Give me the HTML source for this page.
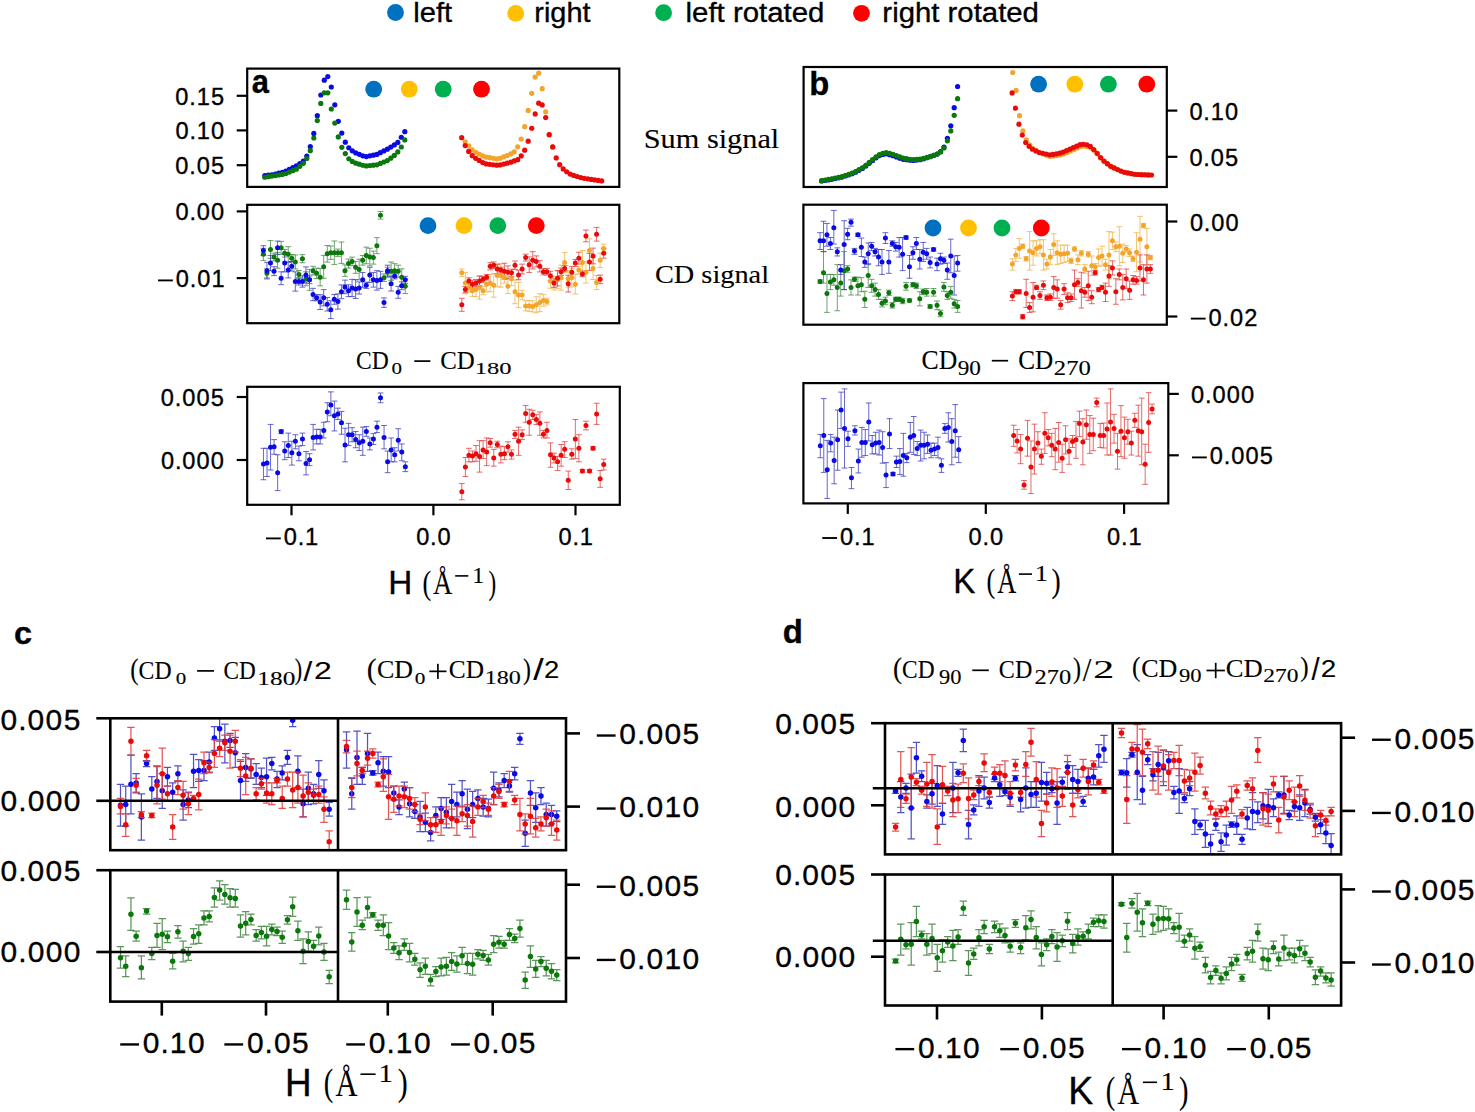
<!DOCTYPE html>
<html><head><meta charset="utf-8"><title>Figure</title>
<style>html,body{margin:0;padding:0;background:#fff;}body{width:1475px;height:1112px;overflow:hidden;}svg{display:block;}text{stroke:#000;stroke-width:0.35px;}text[font-family*=Serif],g[font-family*=Serif] text{stroke-width:0.12px;}.ti text{stroke-width:0.12px;}</style>
</head><body><svg width="1475" height="1112" viewBox="0 0 1475 1112"><defs><clipPath id="k0"><rect x="247.20" y="68.60" width="372.10" height="118.30"/></clipPath><clipPath id="k1"><rect x="247.20" y="204.80" width="372.10" height="118.40"/></clipPath><clipPath id="k2"><rect x="247.20" y="386.80" width="372.60" height="118.00"/></clipPath><clipPath id="k3"><rect x="803.60" y="67.00" width="363.20" height="120.00"/></clipPath><clipPath id="k4"><rect x="803.40" y="204.70" width="363.40" height="120.00"/></clipPath><clipPath id="k5"><rect x="803.40" y="383.10" width="364.90" height="120.30"/></clipPath><clipPath id="k6"><rect x="110.30" y="718.30" width="227.70" height="131.90"/></clipPath><clipPath id="k7"><rect x="338.00" y="718.30" width="228.00" height="131.90"/></clipPath><clipPath id="k8"><rect x="110.30" y="870.20" width="227.70" height="131.40"/></clipPath><clipPath id="k9"><rect x="338.00" y="870.20" width="228.00" height="131.40"/></clipPath><clipPath id="k10"><rect x="885.00" y="723.20" width="227.70" height="131.20"/></clipPath><clipPath id="k11"><rect x="1112.70" y="723.20" width="228.40" height="131.20"/></clipPath><clipPath id="k12"><rect x="885.00" y="874.50" width="227.70" height="131.00"/></clipPath><clipPath id="k13"><rect x="1112.70" y="874.50" width="228.40" height="131.00"/></clipPath></defs><g clip-path="url(#k0)"><circle cx="264.80" cy="175.62" r="2.6" fill="#0a0ae6"/><circle cx="268.30" cy="175.19" r="2.6" fill="#0a0ae6"/><circle cx="271.80" cy="174.76" r="2.6" fill="#0a0ae6"/><circle cx="275.30" cy="174.05" r="2.6" fill="#0a0ae6"/><circle cx="278.80" cy="173.16" r="2.6" fill="#0a0ae6"/><circle cx="282.30" cy="172.28" r="2.6" fill="#0a0ae6"/><circle cx="285.80" cy="171.11" r="2.6" fill="#0a0ae6"/><circle cx="289.30" cy="169.37" r="2.6" fill="#0a0ae6"/><circle cx="292.80" cy="167.64" r="2.6" fill="#0a0ae6"/><circle cx="296.30" cy="165.87" r="2.6" fill="#0a0ae6"/><circle cx="299.80" cy="163.53" r="2.6" fill="#0a0ae6"/><circle cx="303.30" cy="161.01" r="2.6" fill="#0a0ae6"/><circle cx="306.80" cy="156.03" r="2.6" fill="#0a0ae6"/><circle cx="310.30" cy="146.65" r="2.6" fill="#0a0ae6"/><circle cx="313.80" cy="133.42" r="2.6" fill="#0a0ae6"/><circle cx="317.30" cy="115.66" r="2.6" fill="#0a0ae6"/><circle cx="320.80" cy="95.01" r="2.6" fill="#0a0ae6"/><circle cx="324.30" cy="80.19" r="2.6" fill="#0a0ae6"/><circle cx="327.80" cy="76.60" r="2.6" fill="#0a0ae6"/><circle cx="331.30" cy="87.00" r="2.6" fill="#0a0ae6"/><circle cx="334.80" cy="104.78" r="2.6" fill="#0a0ae6"/><circle cx="338.30" cy="121.34" r="2.6" fill="#0a0ae6"/><circle cx="341.80" cy="133.03" r="2.6" fill="#0a0ae6"/><circle cx="345.30" cy="142.14" r="2.6" fill="#0a0ae6"/><circle cx="348.80" cy="147.77" r="2.6" fill="#0a0ae6"/><circle cx="352.30" cy="150.86" r="2.6" fill="#0a0ae6"/><circle cx="355.80" cy="152.95" r="2.6" fill="#0a0ae6"/><circle cx="359.30" cy="154.37" r="2.6" fill="#0a0ae6"/><circle cx="362.80" cy="155.79" r="2.6" fill="#0a0ae6"/><circle cx="366.30" cy="156.59" r="2.6" fill="#0a0ae6"/><circle cx="369.80" cy="155.86" r="2.6" fill="#0a0ae6"/><circle cx="373.30" cy="155.13" r="2.6" fill="#0a0ae6"/><circle cx="376.80" cy="154.40" r="2.6" fill="#0a0ae6"/><circle cx="380.30" cy="152.67" r="2.6" fill="#0a0ae6"/><circle cx="383.80" cy="150.93" r="2.6" fill="#0a0ae6"/><circle cx="387.30" cy="149.20" r="2.6" fill="#0a0ae6"/><circle cx="390.80" cy="147.12" r="2.6" fill="#0a0ae6"/><circle cx="394.30" cy="144.92" r="2.6" fill="#0a0ae6"/><circle cx="397.80" cy="142.45" r="2.6" fill="#0a0ae6"/><circle cx="401.30" cy="137.23" r="2.6" fill="#0a0ae6"/><circle cx="404.80" cy="131.71" r="2.6" fill="#0a0ae6"/><circle cx="264.80" cy="177.25" r="2.6" fill="#0a780a"/><circle cx="268.30" cy="176.68" r="2.6" fill="#0a780a"/><circle cx="271.80" cy="176.10" r="2.6" fill="#0a780a"/><circle cx="275.30" cy="175.53" r="2.6" fill="#0a780a"/><circle cx="278.80" cy="174.95" r="2.6" fill="#0a780a"/><circle cx="282.30" cy="174.38" r="2.6" fill="#0a780a"/><circle cx="285.80" cy="173.52" r="2.6" fill="#0a780a"/><circle cx="289.30" cy="172.12" r="2.6" fill="#0a780a"/><circle cx="292.80" cy="170.72" r="2.6" fill="#0a780a"/><circle cx="296.30" cy="169.23" r="2.6" fill="#0a780a"/><circle cx="299.80" cy="166.34" r="2.6" fill="#0a780a"/><circle cx="303.30" cy="163.31" r="2.6" fill="#0a780a"/><circle cx="306.80" cy="158.48" r="2.6" fill="#0a780a"/><circle cx="310.30" cy="150.72" r="2.6" fill="#0a780a"/><circle cx="313.80" cy="138.02" r="2.6" fill="#0a780a"/><circle cx="317.30" cy="120.61" r="2.6" fill="#0a780a"/><circle cx="320.80" cy="103.39" r="2.6" fill="#0a780a"/><circle cx="324.30" cy="92.80" r="2.6" fill="#0a780a"/><circle cx="327.80" cy="92.80" r="2.6" fill="#0a780a"/><circle cx="331.30" cy="109.02" r="2.6" fill="#0a780a"/><circle cx="334.80" cy="123.10" r="2.6" fill="#0a780a"/><circle cx="338.30" cy="136.91" r="2.6" fill="#0a780a"/><circle cx="341.80" cy="147.36" r="2.6" fill="#0a780a"/><circle cx="345.30" cy="153.61" r="2.6" fill="#0a780a"/><circle cx="348.80" cy="158.73" r="2.6" fill="#0a780a"/><circle cx="352.30" cy="161.42" r="2.6" fill="#0a780a"/><circle cx="355.80" cy="163.13" r="2.6" fill="#0a780a"/><circle cx="359.30" cy="164.19" r="2.6" fill="#0a780a"/><circle cx="362.80" cy="165.25" r="2.6" fill="#0a780a"/><circle cx="366.30" cy="165.90" r="2.6" fill="#0a780a"/><circle cx="369.80" cy="165.53" r="2.6" fill="#0a780a"/><circle cx="373.30" cy="165.17" r="2.6" fill="#0a780a"/><circle cx="376.80" cy="164.80" r="2.6" fill="#0a780a"/><circle cx="380.30" cy="163.40" r="2.6" fill="#0a780a"/><circle cx="383.80" cy="162.00" r="2.6" fill="#0a780a"/><circle cx="387.30" cy="160.60" r="2.6" fill="#0a780a"/><circle cx="390.80" cy="158.22" r="2.6" fill="#0a780a"/><circle cx="394.30" cy="155.40" r="2.6" fill="#0a780a"/><circle cx="397.80" cy="151.90" r="2.6" fill="#0a780a"/><circle cx="401.30" cy="147.02" r="2.6" fill="#0a780a"/><circle cx="404.80" cy="139.93" r="2.6" fill="#0a780a"/><circle cx="465.20" cy="141.81" r="2.6" fill="#f2a52a"/><circle cx="468.70" cy="145.88" r="2.6" fill="#f2a52a"/><circle cx="472.20" cy="149.95" r="2.6" fill="#f2a52a"/><circle cx="475.70" cy="152.31" r="2.6" fill="#f2a52a"/><circle cx="479.20" cy="154.08" r="2.6" fill="#f2a52a"/><circle cx="482.70" cy="155.84" r="2.6" fill="#f2a52a"/><circle cx="486.20" cy="157.07" r="2.6" fill="#f2a52a"/><circle cx="489.70" cy="157.65" r="2.6" fill="#f2a52a"/><circle cx="493.20" cy="158.23" r="2.6" fill="#f2a52a"/><circle cx="496.70" cy="158.82" r="2.6" fill="#f2a52a"/><circle cx="500.20" cy="158.36" r="2.6" fill="#f2a52a"/><circle cx="503.70" cy="156.93" r="2.6" fill="#f2a52a"/><circle cx="507.20" cy="155.50" r="2.6" fill="#f2a52a"/><circle cx="510.70" cy="153.95" r="2.6" fill="#f2a52a"/><circle cx="514.20" cy="151.83" r="2.6" fill="#f2a52a"/><circle cx="517.70" cy="146.86" r="2.6" fill="#f2a52a"/><circle cx="521.20" cy="138.99" r="2.6" fill="#f2a52a"/><circle cx="524.70" cy="126.66" r="2.6" fill="#f2a52a"/><circle cx="528.20" cy="110.44" r="2.6" fill="#f2a52a"/><circle cx="531.70" cy="93.29" r="2.6" fill="#f2a52a"/><circle cx="535.20" cy="77.06" r="2.6" fill="#f2a52a"/><circle cx="538.70" cy="73.20" r="2.6" fill="#f2a52a"/><circle cx="542.20" cy="88.70" r="2.6" fill="#f2a52a"/><circle cx="545.70" cy="111.80" r="2.6" fill="#f2a52a"/><circle cx="549.20" cy="134.65" r="2.6" fill="#f2a52a"/><circle cx="552.70" cy="146.94" r="2.6" fill="#f2a52a"/><circle cx="461.70" cy="137.67" r="2.6" fill="#ea0a0a"/><circle cx="465.20" cy="145.54" r="2.6" fill="#ea0a0a"/><circle cx="468.70" cy="151.38" r="2.6" fill="#ea0a0a"/><circle cx="472.20" cy="155.69" r="2.6" fill="#ea0a0a"/><circle cx="475.70" cy="158.36" r="2.6" fill="#ea0a0a"/><circle cx="479.20" cy="160.46" r="2.6" fill="#ea0a0a"/><circle cx="482.70" cy="162.56" r="2.6" fill="#ea0a0a"/><circle cx="486.20" cy="163.90" r="2.6" fill="#ea0a0a"/><circle cx="489.70" cy="164.33" r="2.6" fill="#ea0a0a"/><circle cx="493.20" cy="164.76" r="2.6" fill="#ea0a0a"/><circle cx="496.70" cy="165.19" r="2.6" fill="#ea0a0a"/><circle cx="500.20" cy="164.95" r="2.6" fill="#ea0a0a"/><circle cx="503.70" cy="164.06" r="2.6" fill="#ea0a0a"/><circle cx="507.20" cy="163.18" r="2.6" fill="#ea0a0a"/><circle cx="510.70" cy="162.21" r="2.6" fill="#ea0a0a"/><circle cx="514.20" cy="160.96" r="2.6" fill="#ea0a0a"/><circle cx="517.70" cy="159.71" r="2.6" fill="#ea0a0a"/><circle cx="521.20" cy="155.94" r="2.6" fill="#ea0a0a"/><circle cx="524.70" cy="150.14" r="2.6" fill="#ea0a0a"/><circle cx="528.20" cy="141.13" r="2.6" fill="#ea0a0a"/><circle cx="531.70" cy="128.27" r="2.6" fill="#ea0a0a"/><circle cx="535.20" cy="113.91" r="2.6" fill="#ea0a0a"/><circle cx="538.70" cy="103.20" r="2.6" fill="#ea0a0a"/><circle cx="542.20" cy="104.90" r="2.6" fill="#ea0a0a"/><circle cx="545.70" cy="117.60" r="2.6" fill="#ea0a0a"/><circle cx="549.20" cy="134.65" r="2.6" fill="#ea0a0a"/><circle cx="552.70" cy="146.94" r="2.6" fill="#ea0a0a"/><circle cx="556.20" cy="157.88" r="2.6" fill="#ea0a0a"/><circle cx="559.70" cy="164.68" r="2.6" fill="#ea0a0a"/><circle cx="563.20" cy="168.97" r="2.6" fill="#ea0a0a"/><circle cx="566.70" cy="171.73" r="2.6" fill="#ea0a0a"/><circle cx="570.20" cy="174.07" r="2.6" fill="#ea0a0a"/><circle cx="573.70" cy="175.42" r="2.6" fill="#ea0a0a"/><circle cx="577.20" cy="176.49" r="2.6" fill="#ea0a0a"/><circle cx="580.70" cy="177.55" r="2.6" fill="#ea0a0a"/><circle cx="584.20" cy="178.35" r="2.6" fill="#ea0a0a"/><circle cx="587.70" cy="178.86" r="2.6" fill="#ea0a0a"/><circle cx="591.20" cy="179.38" r="2.6" fill="#ea0a0a"/><circle cx="594.70" cy="179.89" r="2.6" fill="#ea0a0a"/><circle cx="598.20" cy="180.42" r="2.6" fill="#ea0a0a"/><circle cx="601.70" cy="180.94" r="2.6" fill="#ea0a0a"/></g><g clip-path="url(#k3)"><circle cx="821.60" cy="181.00" r="2.6" fill="#0a0ae6"/><circle cx="825.00" cy="180.48" r="2.6" fill="#0a0ae6"/><circle cx="828.40" cy="179.95" r="2.6" fill="#0a0ae6"/><circle cx="831.80" cy="179.29" r="2.6" fill="#0a0ae6"/><circle cx="835.20" cy="178.56" r="2.6" fill="#0a0ae6"/><circle cx="838.60" cy="177.84" r="2.6" fill="#0a0ae6"/><circle cx="842.00" cy="177.07" r="2.6" fill="#0a0ae6"/><circle cx="845.40" cy="175.95" r="2.6" fill="#0a0ae6"/><circle cx="848.80" cy="174.84" r="2.6" fill="#0a0ae6"/><circle cx="852.20" cy="173.72" r="2.6" fill="#0a0ae6"/><circle cx="855.60" cy="172.21" r="2.6" fill="#0a0ae6"/><circle cx="859.00" cy="170.33" r="2.6" fill="#0a0ae6"/><circle cx="862.40" cy="168.46" r="2.6" fill="#0a0ae6"/><circle cx="865.80" cy="166.05" r="2.6" fill="#0a0ae6"/><circle cx="869.20" cy="163.35" r="2.6" fill="#0a0ae6"/><circle cx="872.60" cy="160.60" r="2.6" fill="#0a0ae6"/><circle cx="876.00" cy="157.81" r="2.6" fill="#0a0ae6"/><circle cx="879.40" cy="155.61" r="2.6" fill="#0a0ae6"/><circle cx="882.80" cy="154.49" r="2.6" fill="#0a0ae6"/><circle cx="886.20" cy="153.79" r="2.6" fill="#0a0ae6"/><circle cx="889.60" cy="154.71" r="2.6" fill="#0a0ae6"/><circle cx="893.00" cy="155.64" r="2.6" fill="#0a0ae6"/><circle cx="896.40" cy="156.90" r="2.6" fill="#0a0ae6"/><circle cx="899.80" cy="158.16" r="2.6" fill="#0a0ae6"/><circle cx="903.20" cy="159.29" r="2.6" fill="#0a0ae6"/><circle cx="906.60" cy="159.77" r="2.6" fill="#0a0ae6"/><circle cx="910.00" cy="160.26" r="2.6" fill="#0a0ae6"/><circle cx="913.40" cy="160.48" r="2.6" fill="#0a0ae6"/><circle cx="916.80" cy="160.08" r="2.6" fill="#0a0ae6"/><circle cx="920.20" cy="159.68" r="2.6" fill="#0a0ae6"/><circle cx="923.60" cy="158.78" r="2.6" fill="#0a0ae6"/><circle cx="927.00" cy="157.76" r="2.6" fill="#0a0ae6"/><circle cx="930.40" cy="156.67" r="2.6" fill="#0a0ae6"/><circle cx="933.80" cy="155.41" r="2.6" fill="#0a0ae6"/><circle cx="937.20" cy="154.01" r="2.6" fill="#0a0ae6"/><circle cx="940.60" cy="151.59" r="2.6" fill="#0a0ae6"/><circle cx="944.00" cy="147.00" r="2.6" fill="#0a0ae6"/><circle cx="947.40" cy="138.30" r="2.6" fill="#0a0ae6"/><circle cx="950.80" cy="125.82" r="2.6" fill="#0a0ae6"/><circle cx="954.20" cy="107.64" r="2.6" fill="#0a0ae6"/><circle cx="957.60" cy="86.50" r="2.6" fill="#0a0ae6"/><circle cx="821.60" cy="180.65" r="2.6" fill="#0a780a"/><circle cx="825.00" cy="180.06" r="2.6" fill="#0a780a"/><circle cx="828.40" cy="179.47" r="2.6" fill="#0a780a"/><circle cx="831.80" cy="178.81" r="2.6" fill="#0a780a"/><circle cx="835.20" cy="178.11" r="2.6" fill="#0a780a"/><circle cx="838.60" cy="177.41" r="2.6" fill="#0a780a"/><circle cx="842.00" cy="176.66" r="2.6" fill="#0a780a"/><circle cx="845.40" cy="175.49" r="2.6" fill="#0a780a"/><circle cx="848.80" cy="174.32" r="2.6" fill="#0a780a"/><circle cx="852.20" cy="173.15" r="2.6" fill="#0a780a"/><circle cx="855.60" cy="171.59" r="2.6" fill="#0a780a"/><circle cx="859.00" cy="169.68" r="2.6" fill="#0a780a"/><circle cx="862.40" cy="167.77" r="2.6" fill="#0a780a"/><circle cx="865.80" cy="165.26" r="2.6" fill="#0a780a"/><circle cx="869.20" cy="162.42" r="2.6" fill="#0a780a"/><circle cx="872.60" cy="159.58" r="2.6" fill="#0a780a"/><circle cx="876.00" cy="156.74" r="2.6" fill="#0a780a"/><circle cx="879.40" cy="154.49" r="2.6" fill="#0a780a"/><circle cx="882.80" cy="153.32" r="2.6" fill="#0a780a"/><circle cx="886.20" cy="152.58" r="2.6" fill="#0a780a"/><circle cx="889.60" cy="153.45" r="2.6" fill="#0a780a"/><circle cx="893.00" cy="154.34" r="2.6" fill="#0a780a"/><circle cx="896.40" cy="155.60" r="2.6" fill="#0a780a"/><circle cx="899.80" cy="156.86" r="2.6" fill="#0a780a"/><circle cx="903.20" cy="158.02" r="2.6" fill="#0a780a"/><circle cx="906.60" cy="158.68" r="2.6" fill="#0a780a"/><circle cx="910.00" cy="159.33" r="2.6" fill="#0a780a"/><circle cx="913.40" cy="159.72" r="2.6" fill="#0a780a"/><circle cx="916.80" cy="159.44" r="2.6" fill="#0a780a"/><circle cx="920.20" cy="159.16" r="2.6" fill="#0a780a"/><circle cx="923.60" cy="158.35" r="2.6" fill="#0a780a"/><circle cx="927.00" cy="157.40" r="2.6" fill="#0a780a"/><circle cx="930.40" cy="156.40" r="2.6" fill="#0a780a"/><circle cx="933.80" cy="155.29" r="2.6" fill="#0a780a"/><circle cx="937.20" cy="154.05" r="2.6" fill="#0a780a"/><circle cx="940.60" cy="151.90" r="2.6" fill="#0a780a"/><circle cx="944.00" cy="147.93" r="2.6" fill="#0a780a"/><circle cx="947.40" cy="140.85" r="2.6" fill="#0a780a"/><circle cx="950.80" cy="130.93" r="2.6" fill="#0a780a"/><circle cx="954.20" cy="115.33" r="2.6" fill="#0a780a"/><circle cx="957.60" cy="98.70" r="2.6" fill="#0a780a"/><circle cx="1012.70" cy="72.50" r="2.6" fill="#f2a52a"/><circle cx="1016.10" cy="90.43" r="2.6" fill="#f2a52a"/><circle cx="1019.50" cy="115.65" r="2.6" fill="#f2a52a"/><circle cx="1022.90" cy="130.78" r="2.6" fill="#f2a52a"/><circle cx="1026.30" cy="139.89" r="2.6" fill="#f2a52a"/><circle cx="1029.70" cy="144.77" r="2.6" fill="#f2a52a"/><circle cx="1033.10" cy="148.51" r="2.6" fill="#f2a52a"/><circle cx="1036.50" cy="150.79" r="2.6" fill="#f2a52a"/><circle cx="1039.90" cy="152.76" r="2.6" fill="#f2a52a"/><circle cx="1043.30" cy="154.00" r="2.6" fill="#f2a52a"/><circle cx="1046.70" cy="155.24" r="2.6" fill="#f2a52a"/><circle cx="1050.10" cy="156.37" r="2.6" fill="#f2a52a"/><circle cx="1053.50" cy="155.94" r="2.6" fill="#f2a52a"/><circle cx="1056.90" cy="155.51" r="2.6" fill="#f2a52a"/><circle cx="1060.30" cy="155.08" r="2.6" fill="#f2a52a"/><circle cx="1063.70" cy="153.86" r="2.6" fill="#f2a52a"/><circle cx="1067.10" cy="152.47" r="2.6" fill="#f2a52a"/><circle cx="1070.50" cy="151.08" r="2.6" fill="#f2a52a"/><circle cx="1073.90" cy="149.52" r="2.6" fill="#f2a52a"/><circle cx="1077.30" cy="147.94" r="2.6" fill="#f2a52a"/><circle cx="1080.70" cy="146.47" r="2.6" fill="#f2a52a"/><circle cx="1084.10" cy="146.12" r="2.6" fill="#f2a52a"/><circle cx="1087.50" cy="146.72" r="2.6" fill="#f2a52a"/><circle cx="1090.90" cy="147.84" r="2.6" fill="#f2a52a"/><circle cx="1094.30" cy="150.60" r="2.6" fill="#f2a52a"/><circle cx="1097.70" cy="154.10" r="2.6" fill="#f2a52a"/><circle cx="1101.10" cy="158.22" r="2.6" fill="#f2a52a"/><circle cx="1104.50" cy="161.46" r="2.6" fill="#f2a52a"/><circle cx="1107.90" cy="164.14" r="2.6" fill="#f2a52a"/><circle cx="1111.30" cy="166.68" r="2.6" fill="#f2a52a"/><circle cx="1114.70" cy="168.21" r="2.6" fill="#f2a52a"/><circle cx="1118.10" cy="169.75" r="2.6" fill="#f2a52a"/><circle cx="1121.50" cy="171.28" r="2.6" fill="#f2a52a"/><circle cx="1124.90" cy="172.35" r="2.6" fill="#f2a52a"/><circle cx="1128.30" cy="173.02" r="2.6" fill="#f2a52a"/><circle cx="1131.70" cy="173.69" r="2.6" fill="#f2a52a"/><circle cx="1135.10" cy="174.36" r="2.6" fill="#f2a52a"/><circle cx="1138.50" cy="174.52" r="2.6" fill="#f2a52a"/><circle cx="1141.90" cy="174.65" r="2.6" fill="#f2a52a"/><circle cx="1145.30" cy="174.78" r="2.6" fill="#f2a52a"/><circle cx="1148.70" cy="174.91" r="2.6" fill="#f2a52a"/><circle cx="1012.10" cy="92.90" r="2.6" fill="#ea0a0a"/><circle cx="1015.50" cy="108.20" r="2.6" fill="#ea0a0a"/><circle cx="1018.90" cy="124.19" r="2.6" fill="#ea0a0a"/><circle cx="1022.30" cy="135.07" r="2.6" fill="#ea0a0a"/><circle cx="1025.70" cy="142.49" r="2.6" fill="#ea0a0a"/><circle cx="1029.10" cy="146.30" r="2.6" fill="#ea0a0a"/><circle cx="1032.50" cy="149.24" r="2.6" fill="#ea0a0a"/><circle cx="1035.90" cy="150.92" r="2.6" fill="#ea0a0a"/><circle cx="1039.30" cy="152.49" r="2.6" fill="#ea0a0a"/><circle cx="1042.70" cy="153.26" r="2.6" fill="#ea0a0a"/><circle cx="1046.10" cy="154.04" r="2.6" fill="#ea0a0a"/><circle cx="1049.50" cy="154.81" r="2.6" fill="#ea0a0a"/><circle cx="1052.90" cy="154.38" r="2.6" fill="#ea0a0a"/><circle cx="1056.30" cy="153.79" r="2.6" fill="#ea0a0a"/><circle cx="1059.70" cy="153.21" r="2.6" fill="#ea0a0a"/><circle cx="1063.10" cy="152.06" r="2.6" fill="#ea0a0a"/><circle cx="1066.50" cy="150.60" r="2.6" fill="#ea0a0a"/><circle cx="1069.90" cy="149.14" r="2.6" fill="#ea0a0a"/><circle cx="1073.30" cy="147.65" r="2.6" fill="#ea0a0a"/><circle cx="1076.70" cy="146.14" r="2.6" fill="#ea0a0a"/><circle cx="1080.10" cy="144.63" r="2.6" fill="#ea0a0a"/><circle cx="1083.50" cy="144.25" r="2.6" fill="#ea0a0a"/><circle cx="1086.90" cy="144.83" r="2.6" fill="#ea0a0a"/><circle cx="1090.30" cy="146.40" r="2.6" fill="#ea0a0a"/><circle cx="1093.70" cy="149.48" r="2.6" fill="#ea0a0a"/><circle cx="1097.10" cy="153.37" r="2.6" fill="#ea0a0a"/><circle cx="1100.50" cy="157.50" r="2.6" fill="#ea0a0a"/><circle cx="1103.90" cy="160.98" r="2.6" fill="#ea0a0a"/><circle cx="1107.30" cy="163.66" r="2.6" fill="#ea0a0a"/><circle cx="1110.70" cy="166.34" r="2.6" fill="#ea0a0a"/><circle cx="1114.10" cy="167.94" r="2.6" fill="#ea0a0a"/><circle cx="1117.50" cy="169.48" r="2.6" fill="#ea0a0a"/><circle cx="1120.90" cy="171.01" r="2.6" fill="#ea0a0a"/><circle cx="1124.30" cy="172.24" r="2.6" fill="#ea0a0a"/><circle cx="1127.70" cy="172.90" r="2.6" fill="#ea0a0a"/><circle cx="1131.10" cy="173.57" r="2.6" fill="#ea0a0a"/><circle cx="1134.50" cy="174.24" r="2.6" fill="#ea0a0a"/><circle cx="1137.90" cy="174.50" r="2.6" fill="#ea0a0a"/><circle cx="1141.30" cy="174.63" r="2.6" fill="#ea0a0a"/><circle cx="1144.70" cy="174.75" r="2.6" fill="#ea0a0a"/><circle cx="1148.10" cy="174.88" r="2.6" fill="#ea0a0a"/><circle cx="1151.50" cy="175.00" r="2.6" fill="#ea0a0a"/></g><g clip-path="url(#k1)"><path d="M263.40 248.29V260.42M260.50 248.29H266.30M260.50 260.42H266.30" stroke="#3f843f" stroke-width="1.0" stroke-opacity="0.75" fill="none"/><path d="M266.94 268.77V277.90M264.04 268.77H269.84M264.04 277.90H269.84" stroke="#3f843f" stroke-width="1.0" stroke-opacity="0.75" fill="none"/><path d="M270.49 240.57V258.38M267.59 240.57H273.39M267.59 258.38H273.39" stroke="#3f843f" stroke-width="1.0" stroke-opacity="0.75" fill="none"/><path d="M274.04 253.18V260.95M271.14 253.18H276.94M271.14 260.95H276.94" stroke="#3f843f" stroke-width="1.0" stroke-opacity="0.75" fill="none"/><path d="M277.58 252.42V268.22M274.68 252.42H280.48M274.68 268.22H280.48" stroke="#3f843f" stroke-width="1.0" stroke-opacity="0.75" fill="none"/><path d="M281.13 241.42V254.27M278.23 241.42H284.03M278.23 254.27H284.03" stroke="#3f843f" stroke-width="1.0" stroke-opacity="0.75" fill="none"/><path d="M284.68 249.51V257.03M281.78 249.51H287.58M281.78 257.03H287.58" stroke="#3f843f" stroke-width="1.0" stroke-opacity="0.75" fill="none"/><path d="M288.22 246.70V262.01M285.32 246.70H291.12M285.32 262.01H291.12" stroke="#3f843f" stroke-width="1.0" stroke-opacity="0.75" fill="none"/><path d="M291.77 254.57V261.73M288.87 254.57H294.67M288.87 261.73H294.67" stroke="#3f843f" stroke-width="1.0" stroke-opacity="0.75" fill="none"/><path d="M295.32 254.93V268.96M292.42 254.93H298.22M292.42 268.96H298.22" stroke="#3f843f" stroke-width="1.0" stroke-opacity="0.75" fill="none"/><path d="M298.87 270.56V278.28M295.97 270.56H301.77M295.97 278.28H301.77" stroke="#3f843f" stroke-width="1.0" stroke-opacity="0.75" fill="none"/><path d="M302.41 254.65V262.73M299.51 254.65H305.31M299.51 262.73H305.31" stroke="#3f843f" stroke-width="1.0" stroke-opacity="0.75" fill="none"/><path d="M305.96 271.82V285.70M303.06 271.82H308.86M303.06 285.70H308.86" stroke="#3f843f" stroke-width="1.0" stroke-opacity="0.75" fill="none"/><path d="M309.51 269.42V290.27M306.61 269.42H312.41M306.61 290.27H312.41" stroke="#3f843f" stroke-width="1.0" stroke-opacity="0.75" fill="none"/><path d="M313.05 266.30V274.95M310.15 266.30H315.95M310.15 274.95H315.95" stroke="#3f843f" stroke-width="1.0" stroke-opacity="0.75" fill="none"/><path d="M316.60 268.15V278.53M313.70 268.15H319.50M313.70 278.53H319.50" stroke="#3f843f" stroke-width="1.0" stroke-opacity="0.75" fill="none"/><path d="M320.15 268.43V285.83M317.25 268.43H323.05M317.25 285.83H323.05" stroke="#3f843f" stroke-width="1.0" stroke-opacity="0.75" fill="none"/><path d="M323.70 255.35V278.31M320.80 255.35H326.60M320.80 278.31H326.60" stroke="#3f843f" stroke-width="1.0" stroke-opacity="0.75" fill="none"/><path d="M327.24 245.55V262.07M324.34 245.55H330.14M324.34 262.07H330.14" stroke="#3f843f" stroke-width="1.0" stroke-opacity="0.75" fill="none"/><path d="M330.79 246.03V259.42M327.89 246.03H333.69M327.89 259.42H333.69" stroke="#3f843f" stroke-width="1.0" stroke-opacity="0.75" fill="none"/><path d="M334.34 241.00V264.45M331.44 241.00H337.24M331.44 264.45H337.24" stroke="#3f843f" stroke-width="1.0" stroke-opacity="0.75" fill="none"/><path d="M337.88 249.07V256.39M334.98 249.07H340.78M334.98 256.39H340.78" stroke="#3f843f" stroke-width="1.0" stroke-opacity="0.75" fill="none"/><path d="M341.43 242.02V263.43M338.53 242.02H344.33M338.53 263.43H344.33" stroke="#3f843f" stroke-width="1.0" stroke-opacity="0.75" fill="none"/><path d="M344.98 264.86V276.39M342.08 264.86H347.88M342.08 276.39H347.88" stroke="#3f843f" stroke-width="1.0" stroke-opacity="0.75" fill="none"/><path d="M348.52 259.07V268.08M345.62 259.07H351.42M345.62 268.08H351.42" stroke="#3f843f" stroke-width="1.0" stroke-opacity="0.75" fill="none"/><path d="M352.07 257.13V265.68M349.17 257.13H354.97M349.17 265.68H354.97" stroke="#3f843f" stroke-width="1.0" stroke-opacity="0.75" fill="none"/><path d="M355.62 261.44V273.30M352.72 261.44H358.52M352.72 273.30H358.52" stroke="#3f843f" stroke-width="1.0" stroke-opacity="0.75" fill="none"/><path d="M359.17 259.20V279.88M356.27 259.20H362.07M356.27 279.88H362.07" stroke="#3f843f" stroke-width="1.0" stroke-opacity="0.75" fill="none"/><path d="M362.71 255.50V265.14M359.81 255.50H365.61M359.81 265.14H365.61" stroke="#3f843f" stroke-width="1.0" stroke-opacity="0.75" fill="none"/><path d="M366.26 247.14V263.74M363.36 247.14H369.16M363.36 263.74H369.16" stroke="#3f843f" stroke-width="1.0" stroke-opacity="0.75" fill="none"/><path d="M369.81 248.27V265.86M366.91 248.27H372.71M366.91 265.86H372.71" stroke="#3f843f" stroke-width="1.0" stroke-opacity="0.75" fill="none"/><path d="M373.35 251.12V264.09M370.45 251.12H376.25M370.45 264.09H376.25" stroke="#3f843f" stroke-width="1.0" stroke-opacity="0.75" fill="none"/><path d="M376.90 237.67V253.68M374.00 237.67H379.80M374.00 253.68H379.80" stroke="#3f843f" stroke-width="1.0" stroke-opacity="0.75" fill="none"/><path d="M380.45 211.51V219.10M377.55 211.51H383.35M377.55 219.10H383.35" stroke="#3f843f" stroke-width="1.0" stroke-opacity="0.75" fill="none"/><path d="M383.99 273.90V281.45M381.09 273.90H386.89M381.09 281.45H386.89" stroke="#3f843f" stroke-width="1.0" stroke-opacity="0.75" fill="none"/><path d="M387.54 267.21V277.29M384.64 267.21H390.44M384.64 277.29H390.44" stroke="#3f843f" stroke-width="1.0" stroke-opacity="0.75" fill="none"/><path d="M391.09 262.01V280.33M388.19 262.01H393.99M388.19 280.33H393.99" stroke="#3f843f" stroke-width="1.0" stroke-opacity="0.75" fill="none"/><path d="M394.64 263.66V277.59M391.74 263.66H397.54M391.74 277.59H397.54" stroke="#3f843f" stroke-width="1.0" stroke-opacity="0.75" fill="none"/><path d="M398.18 265.19V277.15M395.28 265.19H401.08M395.28 277.15H401.08" stroke="#3f843f" stroke-width="1.0" stroke-opacity="0.75" fill="none"/><path d="M401.73 268.80V285.47M398.83 268.80H404.63M398.83 285.47H404.63" stroke="#3f843f" stroke-width="1.0" stroke-opacity="0.75" fill="none"/><path d="M405.28 279.17V293.54M402.38 279.17H408.18M402.38 293.54H408.18" stroke="#3f843f" stroke-width="1.0" stroke-opacity="0.75" fill="none"/><path d="M263.40 245.73V255.38M260.50 245.73H266.30M260.50 255.38H266.30" stroke="#3535bc" stroke-width="1.0" stroke-opacity="0.75" fill="none"/><path d="M266.94 262.31V278.94M264.04 262.31H269.84M264.04 278.94H269.84" stroke="#3535bc" stroke-width="1.0" stroke-opacity="0.75" fill="none"/><path d="M270.49 255.39V270.67M267.59 255.39H273.39M267.59 270.67H273.39" stroke="#3535bc" stroke-width="1.0" stroke-opacity="0.75" fill="none"/><path d="M274.04 266.73V275.60M271.14 266.73H276.94M271.14 275.60H276.94" stroke="#3535bc" stroke-width="1.0" stroke-opacity="0.75" fill="none"/><path d="M277.58 241.08V254.61M274.68 241.08H280.48M274.68 254.61H280.48" stroke="#3535bc" stroke-width="1.0" stroke-opacity="0.75" fill="none"/><path d="M281.13 271.80V284.63M278.23 271.80H284.03M278.23 284.63H284.03" stroke="#3535bc" stroke-width="1.0" stroke-opacity="0.75" fill="none"/><path d="M284.68 254.15V271.91M281.78 254.15H287.58M281.78 271.91H287.58" stroke="#3535bc" stroke-width="1.0" stroke-opacity="0.75" fill="none"/><path d="M288.22 262.23V277.94M285.32 262.23H291.12M285.32 277.94H291.12" stroke="#3535bc" stroke-width="1.0" stroke-opacity="0.75" fill="none"/><path d="M291.77 261.54V271.03M288.87 261.54H294.67M288.87 271.03H294.67" stroke="#3535bc" stroke-width="1.0" stroke-opacity="0.75" fill="none"/><path d="M295.32 271.85V291.10M292.42 271.85H298.22M292.42 291.10H298.22" stroke="#3535bc" stroke-width="1.0" stroke-opacity="0.75" fill="none"/><path d="M298.87 277.93V285.02M295.97 277.93H301.77M295.97 285.02H301.77" stroke="#3535bc" stroke-width="1.0" stroke-opacity="0.75" fill="none"/><path d="M302.41 275.81V287.13M299.51 275.81H305.31M299.51 287.13H305.31" stroke="#3535bc" stroke-width="1.0" stroke-opacity="0.75" fill="none"/><path d="M305.96 266.91V283.01M303.06 266.91H308.86M303.06 283.01H308.86" stroke="#3535bc" stroke-width="1.0" stroke-opacity="0.75" fill="none"/><path d="M309.51 276.06V283.63M306.61 276.06H312.41M306.61 283.63H312.41" stroke="#3535bc" stroke-width="1.0" stroke-opacity="0.75" fill="none"/><path d="M313.05 288.33V300.65M310.15 288.33H315.95M310.15 300.65H315.95" stroke="#3535bc" stroke-width="1.0" stroke-opacity="0.75" fill="none"/><path d="M316.60 294.76V300.73M313.70 294.76H319.50M313.70 300.73H319.50" stroke="#3535bc" stroke-width="1.0" stroke-opacity="0.75" fill="none"/><path d="M320.15 294.66V309.51M317.25 294.66H323.05M317.25 309.51H323.05" stroke="#3535bc" stroke-width="1.0" stroke-opacity="0.75" fill="none"/><path d="M323.70 289.64V305.85M320.80 289.64H326.60M320.80 305.85H326.60" stroke="#3535bc" stroke-width="1.0" stroke-opacity="0.75" fill="none"/><path d="M327.24 297.50V311.00M324.34 297.50H330.14M324.34 311.00H330.14" stroke="#3535bc" stroke-width="1.0" stroke-opacity="0.75" fill="none"/><path d="M330.79 300.79V318.56M327.89 300.79H333.69M327.89 318.56H333.69" stroke="#3535bc" stroke-width="1.0" stroke-opacity="0.75" fill="none"/><path d="M334.34 294.45V304.29M331.44 294.45H337.24M331.44 304.29H337.24" stroke="#3535bc" stroke-width="1.0" stroke-opacity="0.75" fill="none"/><path d="M337.88 293.93V309.15M334.98 293.93H340.78M334.98 309.15H340.78" stroke="#3535bc" stroke-width="1.0" stroke-opacity="0.75" fill="none"/><path d="M341.43 284.87V298.68M338.53 284.87H344.33M338.53 298.68H344.33" stroke="#3535bc" stroke-width="1.0" stroke-opacity="0.75" fill="none"/><path d="M344.98 280.10V293.70M342.08 280.10H347.88M342.08 293.70H347.88" stroke="#3535bc" stroke-width="1.0" stroke-opacity="0.75" fill="none"/><path d="M348.52 284.76V296.62M345.62 284.76H351.42M345.62 296.62H351.42" stroke="#3535bc" stroke-width="1.0" stroke-opacity="0.75" fill="none"/><path d="M352.07 279.35V296.61M349.17 279.35H354.97M349.17 296.61H354.97" stroke="#3535bc" stroke-width="1.0" stroke-opacity="0.75" fill="none"/><path d="M355.62 279.69V298.44M352.72 279.69H358.52M352.72 298.44H358.52" stroke="#3535bc" stroke-width="1.0" stroke-opacity="0.75" fill="none"/><path d="M359.17 281.93V294.04M356.27 281.93H362.07M356.27 294.04H362.07" stroke="#3535bc" stroke-width="1.0" stroke-opacity="0.75" fill="none"/><path d="M362.71 272.45V287.24M359.81 272.45H365.61M359.81 287.24H365.61" stroke="#3535bc" stroke-width="1.0" stroke-opacity="0.75" fill="none"/><path d="M366.26 282.13V288.41M363.36 282.13H369.16M363.36 288.41H369.16" stroke="#3535bc" stroke-width="1.0" stroke-opacity="0.75" fill="none"/><path d="M369.81 267.31V282.62M366.91 267.31H372.71M366.91 282.62H372.71" stroke="#3535bc" stroke-width="1.0" stroke-opacity="0.75" fill="none"/><path d="M373.35 272.57V287.12M370.45 272.57H376.25M370.45 287.12H376.25" stroke="#3535bc" stroke-width="1.0" stroke-opacity="0.75" fill="none"/><path d="M376.90 270.67V290.10M374.00 270.67H379.80M374.00 290.10H379.80" stroke="#3535bc" stroke-width="1.0" stroke-opacity="0.75" fill="none"/><path d="M380.45 271.34V288.35M377.55 271.34H383.35M377.55 288.35H383.35" stroke="#3535bc" stroke-width="1.0" stroke-opacity="0.75" fill="none"/><path d="M383.99 297.91V307.34M381.09 297.91H386.89M381.09 307.34H386.89" stroke="#3535bc" stroke-width="1.0" stroke-opacity="0.75" fill="none"/><path d="M387.54 265.19V276.06M384.64 265.19H390.44M384.64 276.06H390.44" stroke="#3535bc" stroke-width="1.0" stroke-opacity="0.75" fill="none"/><path d="M391.09 276.22V291.07M388.19 276.22H393.99M388.19 291.07H393.99" stroke="#3535bc" stroke-width="1.0" stroke-opacity="0.75" fill="none"/><path d="M394.64 273.18V278.92M391.74 273.18H397.54M391.74 278.92H397.54" stroke="#3535bc" stroke-width="1.0" stroke-opacity="0.75" fill="none"/><path d="M398.18 286.35V298.29M395.28 286.35H401.08M395.28 298.29H401.08" stroke="#3535bc" stroke-width="1.0" stroke-opacity="0.75" fill="none"/><path d="M401.73 281.91V289.71M398.83 281.91H404.63M398.83 289.71H404.63" stroke="#3535bc" stroke-width="1.0" stroke-opacity="0.75" fill="none"/><path d="M405.28 276.31V283.38M402.38 276.31H408.18M402.38 283.38H408.18" stroke="#3535bc" stroke-width="1.0" stroke-opacity="0.75" fill="none"/><circle cx="263.40" cy="254.35" r="2.5" fill="#0a780a"/><circle cx="266.94" cy="273.34" r="2.5" fill="#0a780a"/><circle cx="270.49" cy="249.47" r="2.5" fill="#0a780a"/><circle cx="274.04" cy="257.07" r="2.5" fill="#0a780a"/><circle cx="277.58" cy="260.32" r="2.5" fill="#0a780a"/><circle cx="281.13" cy="247.85" r="2.5" fill="#0a780a"/><circle cx="284.68" cy="253.27" r="2.5" fill="#0a780a"/><circle cx="288.22" cy="254.35" r="2.5" fill="#0a780a"/><circle cx="291.77" cy="258.15" r="2.5" fill="#0a780a"/><circle cx="295.32" cy="261.95" r="2.5" fill="#0a780a"/><circle cx="298.87" cy="274.42" r="2.5" fill="#0a780a"/><circle cx="302.41" cy="258.69" r="2.5" fill="#0a780a"/><circle cx="305.96" cy="278.76" r="2.5" fill="#0a780a"/><circle cx="309.51" cy="279.85" r="2.5" fill="#0a780a"/><circle cx="313.05" cy="270.63" r="2.5" fill="#0a780a"/><circle cx="316.60" cy="273.34" r="2.5" fill="#0a780a"/><circle cx="320.15" cy="277.13" r="2.5" fill="#0a780a"/><circle cx="323.70" cy="266.83" r="2.5" fill="#0a780a"/><circle cx="327.24" cy="253.81" r="2.5" fill="#0a780a"/><circle cx="330.79" cy="252.73" r="2.5" fill="#0a780a"/><circle cx="334.34" cy="252.73" r="2.5" fill="#0a780a"/><circle cx="337.88" cy="252.73" r="2.5" fill="#0a780a"/><circle cx="341.43" cy="252.73" r="2.5" fill="#0a780a"/><circle cx="344.98" cy="270.63" r="2.5" fill="#0a780a"/><circle cx="348.52" cy="263.57" r="2.5" fill="#0a780a"/><circle cx="352.07" cy="261.41" r="2.5" fill="#0a780a"/><circle cx="355.62" cy="267.37" r="2.5" fill="#0a780a"/><circle cx="359.17" cy="269.54" r="2.5" fill="#0a780a"/><circle cx="362.71" cy="260.32" r="2.5" fill="#0a780a"/><circle cx="366.26" cy="255.44" r="2.5" fill="#0a780a"/><circle cx="369.81" cy="257.07" r="2.5" fill="#0a780a"/><circle cx="373.35" cy="257.61" r="2.5" fill="#0a780a"/><circle cx="376.90" cy="245.68" r="2.5" fill="#0a780a"/><circle cx="380.45" cy="215.30" r="2.5" fill="#0a780a"/><circle cx="383.99" cy="277.68" r="2.5" fill="#0a780a"/><circle cx="387.54" cy="272.25" r="2.5" fill="#0a780a"/><circle cx="391.09" cy="271.17" r="2.5" fill="#0a780a"/><circle cx="394.64" cy="270.63" r="2.5" fill="#0a780a"/><circle cx="398.18" cy="271.17" r="2.5" fill="#0a780a"/><circle cx="401.73" cy="277.13" r="2.5" fill="#0a780a"/><circle cx="405.28" cy="286.35" r="2.5" fill="#0a780a"/><circle cx="263.40" cy="250.56" r="2.5" fill="#0a0ae6"/><circle cx="266.94" cy="270.63" r="2.5" fill="#0a0ae6"/><circle cx="270.49" cy="263.03" r="2.5" fill="#0a0ae6"/><circle cx="274.04" cy="271.17" r="2.5" fill="#0a0ae6"/><circle cx="277.58" cy="247.85" r="2.5" fill="#0a0ae6"/><circle cx="281.13" cy="278.22" r="2.5" fill="#0a0ae6"/><circle cx="284.68" cy="263.03" r="2.5" fill="#0a0ae6"/><circle cx="288.22" cy="270.08" r="2.5" fill="#0a0ae6"/><circle cx="291.77" cy="266.29" r="2.5" fill="#0a0ae6"/><circle cx="295.32" cy="281.47" r="2.5" fill="#0a0ae6"/><circle cx="298.87" cy="281.47" r="2.5" fill="#0a0ae6"/><circle cx="302.41" cy="281.47" r="2.5" fill="#0a0ae6"/><circle cx="305.96" cy="274.96" r="2.5" fill="#0a0ae6"/><circle cx="309.51" cy="279.85" r="2.5" fill="#0a0ae6"/><circle cx="313.05" cy="294.49" r="2.5" fill="#0a0ae6"/><circle cx="316.60" cy="297.74" r="2.5" fill="#0a0ae6"/><circle cx="320.15" cy="302.08" r="2.5" fill="#0a0ae6"/><circle cx="323.70" cy="297.74" r="2.5" fill="#0a0ae6"/><circle cx="327.24" cy="304.25" r="2.5" fill="#0a0ae6"/><circle cx="330.79" cy="309.68" r="2.5" fill="#0a0ae6"/><circle cx="334.34" cy="299.37" r="2.5" fill="#0a0ae6"/><circle cx="337.88" cy="301.54" r="2.5" fill="#0a0ae6"/><circle cx="341.43" cy="291.78" r="2.5" fill="#0a0ae6"/><circle cx="344.98" cy="286.90" r="2.5" fill="#0a0ae6"/><circle cx="348.52" cy="290.69" r="2.5" fill="#0a0ae6"/><circle cx="352.07" cy="287.98" r="2.5" fill="#0a0ae6"/><circle cx="355.62" cy="289.07" r="2.5" fill="#0a0ae6"/><circle cx="359.17" cy="287.98" r="2.5" fill="#0a0ae6"/><circle cx="362.71" cy="279.85" r="2.5" fill="#0a0ae6"/><circle cx="366.26" cy="285.27" r="2.5" fill="#0a0ae6"/><circle cx="369.81" cy="274.96" r="2.5" fill="#0a0ae6"/><circle cx="373.35" cy="279.85" r="2.5" fill="#0a0ae6"/><circle cx="376.90" cy="280.39" r="2.5" fill="#0a0ae6"/><circle cx="380.45" cy="279.85" r="2.5" fill="#0a0ae6"/><circle cx="383.99" cy="302.62" r="2.5" fill="#0a0ae6"/><circle cx="387.54" cy="270.63" r="2.5" fill="#0a0ae6"/><circle cx="391.09" cy="283.64" r="2.5" fill="#0a0ae6"/><circle cx="394.64" cy="276.05" r="2.5" fill="#0a0ae6"/><circle cx="398.18" cy="292.32" r="2.5" fill="#0a0ae6"/><circle cx="401.73" cy="285.81" r="2.5" fill="#0a0ae6"/><circle cx="405.28" cy="279.85" r="2.5" fill="#0a0ae6"/><path d="M461.80 268.97V276.62M458.90 268.97H464.70M458.90 276.62H464.70" stroke="#f0b040" stroke-width="1.0" stroke-opacity="0.75" fill="none"/><path d="M465.35 272.35V293.85M462.45 272.35H468.25M462.45 293.85H468.25" stroke="#f0b040" stroke-width="1.0" stroke-opacity="0.75" fill="none"/><path d="M468.90 282.92V291.96M466.00 282.92H471.80M466.00 291.96H471.80" stroke="#f0b040" stroke-width="1.0" stroke-opacity="0.75" fill="none"/><path d="M472.44 285.02V296.36M469.54 285.02H475.34M469.54 296.36H475.34" stroke="#f0b040" stroke-width="1.0" stroke-opacity="0.75" fill="none"/><path d="M475.99 282.54V296.68M473.09 282.54H478.89M473.09 296.68H478.89" stroke="#f0b040" stroke-width="1.0" stroke-opacity="0.75" fill="none"/><path d="M479.54 275.68V299.20M476.64 275.68H482.44M476.64 299.20H482.44" stroke="#f0b040" stroke-width="1.0" stroke-opacity="0.75" fill="none"/><path d="M483.08 286.65V294.73M480.18 286.65H485.98M480.18 294.73H485.98" stroke="#f0b040" stroke-width="1.0" stroke-opacity="0.75" fill="none"/><path d="M486.63 276.54V291.82M483.73 276.54H489.53M483.73 291.82H489.53" stroke="#f0b040" stroke-width="1.0" stroke-opacity="0.75" fill="none"/><path d="M490.18 274.48V291.72M487.28 274.48H493.08M487.28 291.72H493.08" stroke="#f0b040" stroke-width="1.0" stroke-opacity="0.75" fill="none"/><path d="M493.72 273.39V297.15M490.82 273.39H496.62M490.82 297.15H496.62" stroke="#f0b040" stroke-width="1.0" stroke-opacity="0.75" fill="none"/><path d="M497.27 264.25V286.76M494.37 264.25H500.17M494.37 286.76H500.17" stroke="#f0b040" stroke-width="1.0" stroke-opacity="0.75" fill="none"/><path d="M500.82 263.82V287.20M497.92 263.82H503.72M497.92 287.20H503.72" stroke="#f0b040" stroke-width="1.0" stroke-opacity="0.75" fill="none"/><path d="M504.37 271.16V283.11M501.47 271.16H507.27M501.47 283.11H507.27" stroke="#f0b040" stroke-width="1.0" stroke-opacity="0.75" fill="none"/><path d="M507.91 279.05V293.66M505.01 279.05H510.81M505.01 293.66H510.81" stroke="#f0b040" stroke-width="1.0" stroke-opacity="0.75" fill="none"/><path d="M511.46 272.00V285.52M508.56 272.00H514.36M508.56 285.52H514.36" stroke="#f0b040" stroke-width="1.0" stroke-opacity="0.75" fill="none"/><path d="M515.01 279.89V303.66M512.11 279.89H517.91M512.11 303.66H517.91" stroke="#f0b040" stroke-width="1.0" stroke-opacity="0.75" fill="none"/><path d="M518.55 282.43V307.64M515.65 282.43H521.45M515.65 307.64H521.45" stroke="#f0b040" stroke-width="1.0" stroke-opacity="0.75" fill="none"/><path d="M522.10 290.30V299.76M519.20 290.30H525.00M519.20 299.76H525.00" stroke="#f0b040" stroke-width="1.0" stroke-opacity="0.75" fill="none"/><path d="M525.65 300.90V310.85M522.75 300.90H528.55M522.75 310.85H528.55" stroke="#f0b040" stroke-width="1.0" stroke-opacity="0.75" fill="none"/><path d="M529.19 300.36V311.40M526.29 300.36H532.09M526.29 311.40H532.09" stroke="#f0b040" stroke-width="1.0" stroke-opacity="0.75" fill="none"/><path d="M532.74 300.89V311.95M529.84 300.89H535.64M529.84 311.95H535.64" stroke="#f0b040" stroke-width="1.0" stroke-opacity="0.75" fill="none"/><path d="M536.29 296.81V312.78M533.39 296.81H539.19M533.39 312.78H539.19" stroke="#f0b040" stroke-width="1.0" stroke-opacity="0.75" fill="none"/><path d="M539.84 293.62V311.63M536.94 293.62H542.74M536.94 311.63H542.74" stroke="#f0b040" stroke-width="1.0" stroke-opacity="0.75" fill="none"/><path d="M543.38 294.64V306.27M540.48 294.64H546.28M540.48 306.27H546.28" stroke="#f0b040" stroke-width="1.0" stroke-opacity="0.75" fill="none"/><path d="M546.93 298.25V304.83M544.03 298.25H549.83M544.03 304.83H549.83" stroke="#f0b040" stroke-width="1.0" stroke-opacity="0.75" fill="none"/><path d="M550.48 273.59V288.27M547.58 273.59H553.38M547.58 288.27H553.38" stroke="#f0b040" stroke-width="1.0" stroke-opacity="0.75" fill="none"/><path d="M554.02 276.24V289.96M551.12 276.24H556.92M551.12 289.96H556.92" stroke="#f0b040" stroke-width="1.0" stroke-opacity="0.75" fill="none"/><path d="M557.57 271.06V288.63M554.67 271.06H560.47M554.67 288.63H560.47" stroke="#f0b040" stroke-width="1.0" stroke-opacity="0.75" fill="none"/><path d="M561.12 265.12V290.23M558.22 265.12H564.02M558.22 290.23H564.02" stroke="#f0b040" stroke-width="1.0" stroke-opacity="0.75" fill="none"/><path d="M564.66 252.49V272.49M561.76 252.49H567.56M561.76 272.49H567.56" stroke="#f0b040" stroke-width="1.0" stroke-opacity="0.75" fill="none"/><path d="M568.21 270.47V287.05M565.31 270.47H571.11M565.31 287.05H571.11" stroke="#f0b040" stroke-width="1.0" stroke-opacity="0.75" fill="none"/><path d="M571.76 268.39V286.96M568.86 268.39H574.66M568.86 286.96H574.66" stroke="#f0b040" stroke-width="1.0" stroke-opacity="0.75" fill="none"/><path d="M575.31 274.33V294.04M572.41 274.33H578.21M572.41 294.04H578.21" stroke="#f0b040" stroke-width="1.0" stroke-opacity="0.75" fill="none"/><path d="M578.85 266.30V273.86M575.95 266.30H581.75M575.95 273.86H581.75" stroke="#f0b040" stroke-width="1.0" stroke-opacity="0.75" fill="none"/><path d="M582.40 250.45V274.53M579.50 250.45H585.30M579.50 274.53H585.30" stroke="#f0b040" stroke-width="1.0" stroke-opacity="0.75" fill="none"/><path d="M585.95 261.38V283.12M583.05 261.38H588.85M583.05 283.12H588.85" stroke="#f0b040" stroke-width="1.0" stroke-opacity="0.75" fill="none"/><path d="M589.49 238.77V262.35M586.59 238.77H592.39M586.59 262.35H592.39" stroke="#f0b040" stroke-width="1.0" stroke-opacity="0.75" fill="none"/><path d="M593.04 257.41V279.50M590.14 257.41H595.94M590.14 279.50H595.94" stroke="#f0b040" stroke-width="1.0" stroke-opacity="0.75" fill="none"/><path d="M596.59 275.47V289.64M593.69 275.47H599.49M593.69 289.64H599.49" stroke="#f0b040" stroke-width="1.0" stroke-opacity="0.75" fill="none"/><path d="M600.14 253.17V267.47M597.24 253.17H603.04M597.24 267.47H603.04" stroke="#f0b040" stroke-width="1.0" stroke-opacity="0.75" fill="none"/><path d="M603.68 244.12V252.65M600.78 244.12H606.58M600.78 252.65H606.58" stroke="#f0b040" stroke-width="1.0" stroke-opacity="0.75" fill="none"/><path d="M461.80 298.30V311.29M458.90 298.30H464.70M458.90 311.29H464.70" stroke="#de3838" stroke-width="1.0" stroke-opacity="0.75" fill="none"/><path d="M465.35 286.52V292.69M462.45 286.52H468.25M462.45 292.69H468.25" stroke="#de3838" stroke-width="1.0" stroke-opacity="0.75" fill="none"/><path d="M468.90 277.82V284.04M466.00 277.82H471.80M466.00 284.04H471.80" stroke="#de3838" stroke-width="1.0" stroke-opacity="0.75" fill="none"/><path d="M472.44 280.23V288.14M469.54 280.23H475.34M469.54 288.14H475.34" stroke="#de3838" stroke-width="1.0" stroke-opacity="0.75" fill="none"/><path d="M475.99 279.42V286.78M473.09 279.42H478.89M473.09 286.78H478.89" stroke="#de3838" stroke-width="1.0" stroke-opacity="0.75" fill="none"/><path d="M479.54 276.19V285.67M476.64 276.19H482.44M476.64 285.67H482.44" stroke="#de3838" stroke-width="1.0" stroke-opacity="0.75" fill="none"/><path d="M483.08 276.28V282.33M480.18 276.28H485.98M480.18 282.33H485.98" stroke="#de3838" stroke-width="1.0" stroke-opacity="0.75" fill="none"/><path d="M486.63 274.42V279.85M483.73 274.42H489.53M483.73 279.85H489.53" stroke="#de3838" stroke-width="1.0" stroke-opacity="0.75" fill="none"/><path d="M490.18 262.67V269.90M487.28 262.67H493.08M487.28 269.90H493.08" stroke="#de3838" stroke-width="1.0" stroke-opacity="0.75" fill="none"/><path d="M493.72 261.88V268.52M490.82 261.88H496.62M490.82 268.52H496.62" stroke="#de3838" stroke-width="1.0" stroke-opacity="0.75" fill="none"/><path d="M497.27 264.12V273.88M494.37 264.12H500.17M494.37 273.88H500.17" stroke="#de3838" stroke-width="1.0" stroke-opacity="0.75" fill="none"/><path d="M500.82 267.22V272.95M497.92 267.22H503.72M497.92 272.95H503.72" stroke="#de3838" stroke-width="1.0" stroke-opacity="0.75" fill="none"/><path d="M504.37 263.24V279.10M501.47 263.24H507.27M501.47 279.10H507.27" stroke="#de3838" stroke-width="1.0" stroke-opacity="0.75" fill="none"/><path d="M507.91 265.88V278.63M505.01 265.88H510.81M505.01 278.63H510.81" stroke="#de3838" stroke-width="1.0" stroke-opacity="0.75" fill="none"/><path d="M511.46 269.20V276.39M508.56 269.20H514.36M508.56 276.39H514.36" stroke="#de3838" stroke-width="1.0" stroke-opacity="0.75" fill="none"/><path d="M515.01 260.99V269.42M512.11 260.99H517.91M512.11 269.42H517.91" stroke="#de3838" stroke-width="1.0" stroke-opacity="0.75" fill="none"/><path d="M518.55 270.18V279.75M515.65 270.18H521.45M515.65 279.75H521.45" stroke="#de3838" stroke-width="1.0" stroke-opacity="0.75" fill="none"/><path d="M522.10 264.11V273.88M519.20 264.11H525.00M519.20 273.88H525.00" stroke="#de3838" stroke-width="1.0" stroke-opacity="0.75" fill="none"/><path d="M525.65 254.16V261.05M522.75 254.16H528.55M522.75 261.05H528.55" stroke="#de3838" stroke-width="1.0" stroke-opacity="0.75" fill="none"/><path d="M529.19 256.88V272.44M526.29 256.88H532.09M526.29 272.44H532.09" stroke="#de3838" stroke-width="1.0" stroke-opacity="0.75" fill="none"/><path d="M532.74 251.68V268.96M529.84 251.68H535.64M529.84 268.96H535.64" stroke="#de3838" stroke-width="1.0" stroke-opacity="0.75" fill="none"/><path d="M536.29 255.91V266.90M533.39 255.91H539.19M533.39 266.90H539.19" stroke="#de3838" stroke-width="1.0" stroke-opacity="0.75" fill="none"/><path d="M539.84 260.69V271.88M536.94 260.69H542.74M536.94 271.88H542.74" stroke="#de3838" stroke-width="1.0" stroke-opacity="0.75" fill="none"/><path d="M543.38 268.49V274.93M540.48 268.49H546.28M540.48 274.93H546.28" stroke="#de3838" stroke-width="1.0" stroke-opacity="0.75" fill="none"/><path d="M546.93 268.39V275.03M544.03 268.39H549.83M544.03 275.03H549.83" stroke="#de3838" stroke-width="1.0" stroke-opacity="0.75" fill="none"/><path d="M550.48 271.29V280.80M547.58 271.29H553.38M547.58 280.80H553.38" stroke="#de3838" stroke-width="1.0" stroke-opacity="0.75" fill="none"/><path d="M554.02 278.81V287.39M551.12 278.81H556.92M551.12 287.39H556.92" stroke="#de3838" stroke-width="1.0" stroke-opacity="0.75" fill="none"/><path d="M557.57 270.56V285.88M554.67 270.56H560.47M554.67 285.88H560.47" stroke="#de3838" stroke-width="1.0" stroke-opacity="0.75" fill="none"/><path d="M561.12 268.04V275.38M558.22 268.04H564.02M558.22 275.38H564.02" stroke="#de3838" stroke-width="1.0" stroke-opacity="0.75" fill="none"/><path d="M564.66 265.61V271.31M561.76 265.61H567.56M561.76 271.31H567.56" stroke="#de3838" stroke-width="1.0" stroke-opacity="0.75" fill="none"/><path d="M568.21 275.26V292.03M565.31 275.26H571.11M565.31 292.03H571.11" stroke="#de3838" stroke-width="1.0" stroke-opacity="0.75" fill="none"/><path d="M571.76 266.39V278.12M568.86 266.39H574.66M568.86 278.12H574.66" stroke="#de3838" stroke-width="1.0" stroke-opacity="0.75" fill="none"/><path d="M575.31 259.45V266.62M572.41 259.45H578.21M572.41 266.62H578.21" stroke="#de3838" stroke-width="1.0" stroke-opacity="0.75" fill="none"/><path d="M578.85 252.20V264.10M575.95 252.20H581.75M575.95 264.10H581.75" stroke="#de3838" stroke-width="1.0" stroke-opacity="0.75" fill="none"/><path d="M582.40 271.01V276.75M579.50 271.01H585.30M579.50 276.75H585.30" stroke="#de3838" stroke-width="1.0" stroke-opacity="0.75" fill="none"/><path d="M585.95 230.05V241.78M583.05 230.05H588.85M583.05 241.78H588.85" stroke="#de3838" stroke-width="1.0" stroke-opacity="0.75" fill="none"/><path d="M589.49 253.40V270.50M586.59 253.40H592.39M586.59 270.50H592.39" stroke="#de3838" stroke-width="1.0" stroke-opacity="0.75" fill="none"/><path d="M593.04 248.12V263.84M590.14 248.12H595.94M590.14 263.84H595.94" stroke="#de3838" stroke-width="1.0" stroke-opacity="0.75" fill="none"/><path d="M596.59 227.42V241.15M593.69 227.42H599.49M593.69 241.15H599.49" stroke="#de3838" stroke-width="1.0" stroke-opacity="0.75" fill="none"/><path d="M600.14 275.03V283.57M597.24 275.03H603.04M597.24 283.57H603.04" stroke="#de3838" stroke-width="1.0" stroke-opacity="0.75" fill="none"/><path d="M603.68 248.37V258.17M600.78 248.37H606.58M600.78 258.17H606.58" stroke="#de3838" stroke-width="1.0" stroke-opacity="0.75" fill="none"/><circle cx="461.80" cy="272.79" r="2.5" fill="#f2a52a"/><circle cx="465.35" cy="283.10" r="2.5" fill="#f2a52a"/><circle cx="468.90" cy="287.44" r="2.5" fill="#f2a52a"/><circle cx="472.44" cy="290.69" r="2.5" fill="#f2a52a"/><circle cx="475.99" cy="289.61" r="2.5" fill="#f2a52a"/><circle cx="479.54" cy="287.44" r="2.5" fill="#f2a52a"/><circle cx="483.08" cy="290.69" r="2.5" fill="#f2a52a"/><circle cx="486.63" cy="284.18" r="2.5" fill="#f2a52a"/><circle cx="490.18" cy="283.10" r="2.5" fill="#f2a52a"/><circle cx="493.72" cy="285.27" r="2.5" fill="#f2a52a"/><circle cx="497.27" cy="275.51" r="2.5" fill="#f2a52a"/><circle cx="500.82" cy="275.51" r="2.5" fill="#f2a52a"/><circle cx="504.37" cy="277.13" r="2.5" fill="#f2a52a"/><circle cx="507.91" cy="286.35" r="2.5" fill="#f2a52a"/><circle cx="511.46" cy="278.76" r="2.5" fill="#f2a52a"/><circle cx="515.01" cy="291.78" r="2.5" fill="#f2a52a"/><circle cx="518.55" cy="295.03" r="2.5" fill="#f2a52a"/><circle cx="522.10" cy="295.03" r="2.5" fill="#f2a52a"/><circle cx="525.65" cy="305.88" r="2.5" fill="#f2a52a"/><circle cx="529.19" cy="305.88" r="2.5" fill="#f2a52a"/><circle cx="532.74" cy="306.42" r="2.5" fill="#f2a52a"/><circle cx="536.29" cy="304.79" r="2.5" fill="#f2a52a"/><circle cx="539.84" cy="302.62" r="2.5" fill="#f2a52a"/><circle cx="543.38" cy="300.46" r="2.5" fill="#f2a52a"/><circle cx="546.93" cy="301.54" r="2.5" fill="#f2a52a"/><circle cx="550.48" cy="280.93" r="2.5" fill="#f2a52a"/><circle cx="554.02" cy="283.10" r="2.5" fill="#f2a52a"/><circle cx="557.57" cy="279.85" r="2.5" fill="#f2a52a"/><circle cx="561.12" cy="277.68" r="2.5" fill="#f2a52a"/><circle cx="564.66" cy="262.49" r="2.5" fill="#f2a52a"/><circle cx="568.21" cy="278.76" r="2.5" fill="#f2a52a"/><circle cx="571.76" cy="277.68" r="2.5" fill="#f2a52a"/><circle cx="575.31" cy="284.18" r="2.5" fill="#f2a52a"/><circle cx="578.85" cy="270.08" r="2.5" fill="#f2a52a"/><circle cx="582.40" cy="262.49" r="2.5" fill="#f2a52a"/><circle cx="585.95" cy="272.25" r="2.5" fill="#f2a52a"/><circle cx="589.49" cy="250.56" r="2.5" fill="#f2a52a"/><circle cx="593.04" cy="268.46" r="2.5" fill="#f2a52a"/><circle cx="596.59" cy="282.56" r="2.5" fill="#f2a52a"/><circle cx="600.14" cy="260.32" r="2.5" fill="#f2a52a"/><circle cx="603.68" cy="248.39" r="2.5" fill="#f2a52a"/><circle cx="461.80" cy="304.79" r="2.5" fill="#ea0a0a"/><circle cx="465.35" cy="289.61" r="2.5" fill="#ea0a0a"/><circle cx="468.90" cy="280.93" r="2.5" fill="#ea0a0a"/><circle cx="472.44" cy="284.18" r="2.5" fill="#ea0a0a"/><circle cx="475.99" cy="283.10" r="2.5" fill="#ea0a0a"/><circle cx="479.54" cy="280.93" r="2.5" fill="#ea0a0a"/><circle cx="483.08" cy="279.30" r="2.5" fill="#ea0a0a"/><circle cx="486.63" cy="277.13" r="2.5" fill="#ea0a0a"/><circle cx="490.18" cy="266.29" r="2.5" fill="#ea0a0a"/><circle cx="493.72" cy="265.20" r="2.5" fill="#ea0a0a"/><circle cx="497.27" cy="269.00" r="2.5" fill="#ea0a0a"/><circle cx="500.82" cy="270.08" r="2.5" fill="#ea0a0a"/><circle cx="504.37" cy="271.17" r="2.5" fill="#ea0a0a"/><circle cx="507.91" cy="272.25" r="2.5" fill="#ea0a0a"/><circle cx="511.46" cy="272.79" r="2.5" fill="#ea0a0a"/><circle cx="515.01" cy="265.20" r="2.5" fill="#ea0a0a"/><circle cx="518.55" cy="274.96" r="2.5" fill="#ea0a0a"/><circle cx="522.10" cy="269.00" r="2.5" fill="#ea0a0a"/><circle cx="525.65" cy="257.61" r="2.5" fill="#ea0a0a"/><circle cx="529.19" cy="264.66" r="2.5" fill="#ea0a0a"/><circle cx="532.74" cy="260.32" r="2.5" fill="#ea0a0a"/><circle cx="536.29" cy="261.41" r="2.5" fill="#ea0a0a"/><circle cx="539.84" cy="266.29" r="2.5" fill="#ea0a0a"/><circle cx="543.38" cy="271.71" r="2.5" fill="#ea0a0a"/><circle cx="546.93" cy="271.71" r="2.5" fill="#ea0a0a"/><circle cx="550.48" cy="276.05" r="2.5" fill="#ea0a0a"/><circle cx="554.02" cy="283.10" r="2.5" fill="#ea0a0a"/><circle cx="557.57" cy="278.22" r="2.5" fill="#ea0a0a"/><circle cx="561.12" cy="271.71" r="2.5" fill="#ea0a0a"/><circle cx="564.66" cy="268.46" r="2.5" fill="#ea0a0a"/><circle cx="568.21" cy="283.64" r="2.5" fill="#ea0a0a"/><circle cx="571.76" cy="272.25" r="2.5" fill="#ea0a0a"/><circle cx="575.31" cy="263.03" r="2.5" fill="#ea0a0a"/><circle cx="578.85" cy="258.15" r="2.5" fill="#ea0a0a"/><circle cx="582.40" cy="273.88" r="2.5" fill="#ea0a0a"/><circle cx="585.95" cy="235.91" r="2.5" fill="#ea0a0a"/><circle cx="589.49" cy="261.95" r="2.5" fill="#ea0a0a"/><circle cx="593.04" cy="255.98" r="2.5" fill="#ea0a0a"/><circle cx="596.59" cy="234.29" r="2.5" fill="#ea0a0a"/><circle cx="600.14" cy="279.30" r="2.5" fill="#ea0a0a"/><circle cx="603.68" cy="253.27" r="2.5" fill="#ea0a0a"/></g><g clip-path="url(#k2)"><path d="M263.46 448.29V479.74M260.56 448.29H266.36M260.56 479.74H266.36" stroke="#3535bc" stroke-width="1.0" stroke-opacity="0.75" fill="none"/><path d="M267.01 448.29V476.49M264.11 448.29H269.91M264.11 476.49H269.91" stroke="#3535bc" stroke-width="1.0" stroke-opacity="0.75" fill="none"/><path d="M270.55 424.42V469.98M267.65 424.42H273.45M267.65 469.98H273.45" stroke="#3535bc" stroke-width="1.0" stroke-opacity="0.75" fill="none"/><path d="M274.10 439.61V454.25M271.20 439.61H277.00M271.20 454.25H277.00" stroke="#3535bc" stroke-width="1.0" stroke-opacity="0.75" fill="none"/><path d="M277.65 454.79V490.59M274.75 454.79H280.55M274.75 490.59H280.55" stroke="#3535bc" stroke-width="1.0" stroke-opacity="0.75" fill="none"/><path d="M281.20 429.85V433.64M278.30 429.85H284.10M278.30 433.64H284.10" stroke="#3535bc" stroke-width="1.0" stroke-opacity="0.75" fill="none"/><path d="M284.74 441.78V459.68M281.84 441.78H287.64M281.84 459.68H287.64" stroke="#3535bc" stroke-width="1.0" stroke-opacity="0.75" fill="none"/><path d="M288.29 433.10V457.51M285.39 433.10H291.19M285.39 457.51H291.19" stroke="#3535bc" stroke-width="1.0" stroke-opacity="0.75" fill="none"/><path d="M291.84 441.24V465.10M288.94 441.24H294.74M288.94 465.10H294.74" stroke="#3535bc" stroke-width="1.0" stroke-opacity="0.75" fill="none"/><path d="M295.38 434.73V448.83M292.48 434.73H298.28M292.48 448.83H298.28" stroke="#3535bc" stroke-width="1.0" stroke-opacity="0.75" fill="none"/><path d="M298.93 446.12V460.76M296.03 446.12H301.83M296.03 460.76H301.83" stroke="#3535bc" stroke-width="1.0" stroke-opacity="0.75" fill="none"/><path d="M302.48 433.10V445.57M299.58 433.10H305.38M299.58 445.57H305.38" stroke="#3535bc" stroke-width="1.0" stroke-opacity="0.75" fill="none"/><path d="M306.03 451.54V474.86M303.13 451.54H308.93M303.13 474.86H308.93" stroke="#3535bc" stroke-width="1.0" stroke-opacity="0.75" fill="none"/><path d="M309.57 453.71V465.64M306.67 453.71H312.47M306.67 465.64H312.47" stroke="#3535bc" stroke-width="1.0" stroke-opacity="0.75" fill="none"/><path d="M313.12 424.42V449.91M310.22 424.42H316.02M310.22 449.91H316.02" stroke="#3535bc" stroke-width="1.0" stroke-opacity="0.75" fill="none"/><path d="M316.67 429.30V443.95M313.77 429.30H319.57M313.77 443.95H319.57" stroke="#3535bc" stroke-width="1.0" stroke-opacity="0.75" fill="none"/><path d="M320.21 429.30V443.95M317.31 429.30H323.11M317.31 443.95H323.11" stroke="#3535bc" stroke-width="1.0" stroke-opacity="0.75" fill="none"/><path d="M323.76 422.25V437.98M320.86 422.25H326.66M320.86 437.98H326.66" stroke="#3535bc" stroke-width="1.0" stroke-opacity="0.75" fill="none"/><path d="M327.31 402.73V421.71M324.41 402.73H330.21M324.41 421.71H330.21" stroke="#3535bc" stroke-width="1.0" stroke-opacity="0.75" fill="none"/><path d="M330.85 391.88V415.74M327.95 391.88H333.75M327.95 415.74H333.75" stroke="#3535bc" stroke-width="1.0" stroke-opacity="0.75" fill="none"/><path d="M334.40 401.10V430.93M331.50 401.10H337.30M331.50 430.93H337.30" stroke="#3535bc" stroke-width="1.0" stroke-opacity="0.75" fill="none"/><path d="M337.95 408.15V419.54M335.05 408.15H340.85M335.05 419.54H340.85" stroke="#3535bc" stroke-width="1.0" stroke-opacity="0.75" fill="none"/><path d="M341.50 411.41V434.19M338.60 411.41H344.40M338.60 434.19H344.40" stroke="#3535bc" stroke-width="1.0" stroke-opacity="0.75" fill="none"/><path d="M345.04 428.22V461.85M342.14 428.22H347.94M342.14 461.85H347.94" stroke="#3535bc" stroke-width="1.0" stroke-opacity="0.75" fill="none"/><path d="M348.59 423.34V445.57M345.69 423.34H351.49M345.69 445.57H351.49" stroke="#3535bc" stroke-width="1.0" stroke-opacity="0.75" fill="none"/><path d="M352.14 427.68V441.78M349.24 427.68H355.04M349.24 441.78H355.04" stroke="#3535bc" stroke-width="1.0" stroke-opacity="0.75" fill="none"/><path d="M355.68 431.47V447.74M352.78 431.47H358.58M352.78 447.74H358.58" stroke="#3535bc" stroke-width="1.0" stroke-opacity="0.75" fill="none"/><path d="M359.23 434.73V450.46M356.33 434.73H362.13M356.33 450.46H362.13" stroke="#3535bc" stroke-width="1.0" stroke-opacity="0.75" fill="none"/><path d="M362.78 427.13V455.34M359.88 427.13H365.68M359.88 455.34H365.68" stroke="#3535bc" stroke-width="1.0" stroke-opacity="0.75" fill="none"/><path d="M366.32 426.59V436.35M363.42 426.59H369.22M363.42 436.35H369.22" stroke="#3535bc" stroke-width="1.0" stroke-opacity="0.75" fill="none"/><path d="M369.87 437.98V449.91M366.97 437.98H372.77M366.97 449.91H372.77" stroke="#3535bc" stroke-width="1.0" stroke-opacity="0.75" fill="none"/><path d="M373.42 433.64V444.49M370.52 433.64H376.32M370.52 444.49H376.32" stroke="#3535bc" stroke-width="1.0" stroke-opacity="0.75" fill="none"/><path d="M376.97 421.17V432.56M374.07 421.17H379.87M374.07 432.56H379.87" stroke="#3535bc" stroke-width="1.0" stroke-opacity="0.75" fill="none"/><path d="M380.51 392.97V402.73M377.61 392.97H383.41M377.61 402.73H383.41" stroke="#3535bc" stroke-width="1.0" stroke-opacity="0.75" fill="none"/><path d="M384.06 425.51V448.83M381.16 425.51H386.96M381.16 448.83H386.96" stroke="#3535bc" stroke-width="1.0" stroke-opacity="0.75" fill="none"/><path d="M387.61 451.00V472.69M384.71 451.00H390.51M384.71 472.69H390.51" stroke="#3535bc" stroke-width="1.0" stroke-opacity="0.75" fill="none"/><path d="M391.15 437.98V461.85M388.25 437.98H394.05M388.25 461.85H394.05" stroke="#3535bc" stroke-width="1.0" stroke-opacity="0.75" fill="none"/><path d="M394.70 447.74V461.85M391.80 447.74H397.60M391.80 461.85H397.60" stroke="#3535bc" stroke-width="1.0" stroke-opacity="0.75" fill="none"/><path d="M398.25 428.76V451.00M395.35 428.76H401.15M395.35 451.00H401.15" stroke="#3535bc" stroke-width="1.0" stroke-opacity="0.75" fill="none"/><path d="M401.79 443.95V460.76M398.89 443.95H404.69M398.89 460.76H404.69" stroke="#3535bc" stroke-width="1.0" stroke-opacity="0.75" fill="none"/><path d="M405.34 461.85V471.61M402.44 461.85H408.24M402.44 471.61H408.24" stroke="#3535bc" stroke-width="1.0" stroke-opacity="0.75" fill="none"/><circle cx="263.46" cy="464.01" r="2.5" fill="#0a0ae6"/><circle cx="267.01" cy="462.93" r="2.5" fill="#0a0ae6"/><circle cx="270.55" cy="447.20" r="2.5" fill="#0a0ae6"/><circle cx="274.10" cy="446.66" r="2.5" fill="#0a0ae6"/><circle cx="277.65" cy="472.69" r="2.5" fill="#0a0ae6"/><circle cx="281.20" cy="431.47" r="2.5" fill="#0a0ae6"/><circle cx="284.74" cy="451.00" r="2.5" fill="#0a0ae6"/><circle cx="288.29" cy="445.57" r="2.5" fill="#0a0ae6"/><circle cx="291.84" cy="452.63" r="2.5" fill="#0a0ae6"/><circle cx="295.38" cy="441.24" r="2.5" fill="#0a0ae6"/><circle cx="298.93" cy="453.71" r="2.5" fill="#0a0ae6"/><circle cx="302.48" cy="439.07" r="2.5" fill="#0a0ae6"/><circle cx="306.03" cy="463.47" r="2.5" fill="#0a0ae6"/><circle cx="309.57" cy="459.68" r="2.5" fill="#0a0ae6"/><circle cx="313.12" cy="437.44" r="2.5" fill="#0a0ae6"/><circle cx="316.67" cy="436.90" r="2.5" fill="#0a0ae6"/><circle cx="320.21" cy="436.90" r="2.5" fill="#0a0ae6"/><circle cx="323.76" cy="430.39" r="2.5" fill="#0a0ae6"/><circle cx="327.31" cy="411.95" r="2.5" fill="#0a0ae6"/><circle cx="330.85" cy="404.90" r="2.5" fill="#0a0ae6"/><circle cx="334.40" cy="415.74" r="2.5" fill="#0a0ae6"/><circle cx="337.95" cy="414.12" r="2.5" fill="#0a0ae6"/><circle cx="341.50" cy="422.80" r="2.5" fill="#0a0ae6"/><circle cx="345.04" cy="445.03" r="2.5" fill="#0a0ae6"/><circle cx="348.59" cy="434.73" r="2.5" fill="#0a0ae6"/><circle cx="352.14" cy="434.73" r="2.5" fill="#0a0ae6"/><circle cx="355.68" cy="439.61" r="2.5" fill="#0a0ae6"/><circle cx="359.23" cy="442.86" r="2.5" fill="#0a0ae6"/><circle cx="362.78" cy="441.24" r="2.5" fill="#0a0ae6"/><circle cx="366.32" cy="431.47" r="2.5" fill="#0a0ae6"/><circle cx="369.87" cy="443.95" r="2.5" fill="#0a0ae6"/><circle cx="373.42" cy="439.07" r="2.5" fill="#0a0ae6"/><circle cx="376.97" cy="427.13" r="2.5" fill="#0a0ae6"/><circle cx="380.51" cy="397.85" r="2.5" fill="#0a0ae6"/><circle cx="384.06" cy="437.44" r="2.5" fill="#0a0ae6"/><circle cx="387.61" cy="461.85" r="2.5" fill="#0a0ae6"/><circle cx="391.15" cy="449.91" r="2.5" fill="#0a0ae6"/><circle cx="394.70" cy="454.79" r="2.5" fill="#0a0ae6"/><circle cx="398.25" cy="440.15" r="2.5" fill="#0a0ae6"/><circle cx="401.79" cy="452.08" r="2.5" fill="#0a0ae6"/><circle cx="405.34" cy="466.73" r="2.5" fill="#0a0ae6"/><path d="M461.83 483.54V499.81M458.93 483.54H464.73M458.93 499.81H464.73" stroke="#de3838" stroke-width="1.0" stroke-opacity="0.75" fill="none"/><path d="M465.38 457.51V476.49M462.48 457.51H468.28M462.48 476.49H468.28" stroke="#de3838" stroke-width="1.0" stroke-opacity="0.75" fill="none"/><path d="M468.93 448.29V461.85M466.03 448.29H471.83M466.03 461.85H471.83" stroke="#de3838" stroke-width="1.0" stroke-opacity="0.75" fill="none"/><path d="M472.47 451.00V461.85M469.57 451.00H475.37M469.57 461.85H475.37" stroke="#de3838" stroke-width="1.0" stroke-opacity="0.75" fill="none"/><path d="M476.02 445.57V461.30M473.12 445.57H478.92M473.12 461.30H478.92" stroke="#de3838" stroke-width="1.0" stroke-opacity="0.75" fill="none"/><path d="M479.57 440.69V472.15M476.67 440.69H482.47M476.67 472.15H482.47" stroke="#de3838" stroke-width="1.0" stroke-opacity="0.75" fill="none"/><path d="M483.12 440.69V458.59M480.22 440.69H486.02M480.22 458.59H486.02" stroke="#de3838" stroke-width="1.0" stroke-opacity="0.75" fill="none"/><path d="M486.66 437.98V465.64M483.76 437.98H489.56M483.76 465.64H489.56" stroke="#de3838" stroke-width="1.0" stroke-opacity="0.75" fill="none"/><path d="M490.21 438.52V447.20M487.31 438.52H493.11M487.31 447.20H493.11" stroke="#de3838" stroke-width="1.0" stroke-opacity="0.75" fill="none"/><path d="M493.76 449.37V466.18M490.86 449.37H496.66M490.86 466.18H496.66" stroke="#de3838" stroke-width="1.0" stroke-opacity="0.75" fill="none"/><path d="M497.30 441.24V447.74M494.40 441.24H500.20M494.40 447.74H500.20" stroke="#de3838" stroke-width="1.0" stroke-opacity="0.75" fill="none"/><path d="M500.85 446.12V462.93M497.95 446.12H503.75M497.95 462.93H503.75" stroke="#de3838" stroke-width="1.0" stroke-opacity="0.75" fill="none"/><path d="M504.40 446.66V459.68M501.50 446.66H507.30M501.50 459.68H507.30" stroke="#de3838" stroke-width="1.0" stroke-opacity="0.75" fill="none"/><path d="M507.95 441.78V452.08M505.05 441.78H510.85M505.05 452.08H510.85" stroke="#de3838" stroke-width="1.0" stroke-opacity="0.75" fill="none"/><path d="M511.49 449.91V459.13M508.59 449.91H514.39M508.59 459.13H514.39" stroke="#de3838" stroke-width="1.0" stroke-opacity="0.75" fill="none"/><path d="M515.04 430.39V438.52M512.14 430.39H517.94M512.14 438.52H517.94" stroke="#de3838" stroke-width="1.0" stroke-opacity="0.75" fill="none"/><path d="M518.59 427.13V455.34M515.69 427.13H521.49M515.69 455.34H521.49" stroke="#de3838" stroke-width="1.0" stroke-opacity="0.75" fill="none"/><path d="M522.13 429.85V439.61M519.23 429.85H525.03M519.23 439.61H525.03" stroke="#de3838" stroke-width="1.0" stroke-opacity="0.75" fill="none"/><path d="M525.68 405.44V422.25M522.78 405.44H528.58M522.78 422.25H528.58" stroke="#de3838" stroke-width="1.0" stroke-opacity="0.75" fill="none"/><path d="M529.23 409.24V435.27M526.33 409.24H532.13M526.33 435.27H532.13" stroke="#de3838" stroke-width="1.0" stroke-opacity="0.75" fill="none"/><path d="M532.77 410.32V419.54M529.87 410.32H535.67M529.87 419.54H535.67" stroke="#de3838" stroke-width="1.0" stroke-opacity="0.75" fill="none"/><path d="M536.32 414.66V424.42M533.42 414.66H539.22M533.42 424.42H539.22" stroke="#de3838" stroke-width="1.0" stroke-opacity="0.75" fill="none"/><path d="M539.87 411.95V435.27M536.97 411.95H542.77M536.97 435.27H542.77" stroke="#de3838" stroke-width="1.0" stroke-opacity="0.75" fill="none"/><path d="M543.42 430.39V437.98M540.52 430.39H546.32M540.52 437.98H546.32" stroke="#de3838" stroke-width="1.0" stroke-opacity="0.75" fill="none"/><path d="M546.96 422.25V437.98M544.06 422.25H549.86M544.06 437.98H549.86" stroke="#de3838" stroke-width="1.0" stroke-opacity="0.75" fill="none"/><path d="M550.51 442.86V467.27M547.61 442.86H553.41M547.61 467.27H553.41" stroke="#de3838" stroke-width="1.0" stroke-opacity="0.75" fill="none"/><path d="M554.06 453.17V462.93M551.16 453.17H556.96M551.16 462.93H556.96" stroke="#de3838" stroke-width="1.0" stroke-opacity="0.75" fill="none"/><path d="M557.60 456.42V470.52M554.70 456.42H560.50M554.70 470.52H560.50" stroke="#de3838" stroke-width="1.0" stroke-opacity="0.75" fill="none"/><path d="M561.15 444.49V466.18M558.25 444.49H564.05M558.25 466.18H564.05" stroke="#de3838" stroke-width="1.0" stroke-opacity="0.75" fill="none"/><path d="M564.70 441.78V457.51M561.80 441.78H567.60M561.80 457.51H567.60" stroke="#de3838" stroke-width="1.0" stroke-opacity="0.75" fill="none"/><path d="M568.24 471.07V489.51M565.34 471.07H571.14M565.34 489.51H571.14" stroke="#de3838" stroke-width="1.0" stroke-opacity="0.75" fill="none"/><path d="M571.79 448.83V459.13M568.89 448.83H574.69M568.89 459.13H574.69" stroke="#de3838" stroke-width="1.0" stroke-opacity="0.75" fill="none"/><path d="M575.34 419.54V458.59M572.44 419.54H578.24M572.44 458.59H578.24" stroke="#de3838" stroke-width="1.0" stroke-opacity="0.75" fill="none"/><path d="M578.89 434.73V461.85M575.99 434.73H581.79M575.99 461.85H581.79" stroke="#de3838" stroke-width="1.0" stroke-opacity="0.75" fill="none"/><path d="M582.43 469.44V472.69M579.53 469.44H585.33M579.53 472.69H585.33" stroke="#de3838" stroke-width="1.0" stroke-opacity="0.75" fill="none"/><path d="M585.98 421.17V429.85M583.08 421.17H588.88M583.08 429.85H588.88" stroke="#de3838" stroke-width="1.0" stroke-opacity="0.75" fill="none"/><path d="M589.53 469.44V472.69M586.63 469.44H592.43M586.63 472.69H592.43" stroke="#de3838" stroke-width="1.0" stroke-opacity="0.75" fill="none"/><path d="M593.07 446.66V449.91M590.17 446.66H595.97M590.17 449.91H595.97" stroke="#de3838" stroke-width="1.0" stroke-opacity="0.75" fill="none"/><path d="M596.62 403.27V424.42M593.72 403.27H599.52M593.72 424.42H599.52" stroke="#de3838" stroke-width="1.0" stroke-opacity="0.75" fill="none"/><path d="M600.17 470.52V487.34M597.27 470.52H603.07M597.27 487.34H603.07" stroke="#de3838" stroke-width="1.0" stroke-opacity="0.75" fill="none"/><path d="M603.71 459.13V469.98M600.81 459.13H606.61M600.81 469.98H606.61" stroke="#de3838" stroke-width="1.0" stroke-opacity="0.75" fill="none"/><circle cx="461.83" cy="491.68" r="2.5" fill="#ea0a0a"/><circle cx="465.38" cy="467.05" r="2.5" fill="#ea0a0a"/><circle cx="468.93" cy="455.34" r="2.5" fill="#ea0a0a"/><circle cx="472.47" cy="455.88" r="2.5" fill="#ea0a0a"/><circle cx="476.02" cy="453.71" r="2.5" fill="#ea0a0a"/><circle cx="479.57" cy="456.42" r="2.5" fill="#ea0a0a"/><circle cx="483.12" cy="449.91" r="2.5" fill="#ea0a0a"/><circle cx="486.66" cy="452.08" r="2.5" fill="#ea0a0a"/><circle cx="490.21" cy="442.86" r="2.5" fill="#ea0a0a"/><circle cx="493.76" cy="458.05" r="2.5" fill="#ea0a0a"/><circle cx="497.30" cy="444.49" r="2.5" fill="#ea0a0a"/><circle cx="500.85" cy="454.25" r="2.5" fill="#ea0a0a"/><circle cx="504.40" cy="453.71" r="2.5" fill="#ea0a0a"/><circle cx="507.95" cy="446.66" r="2.5" fill="#ea0a0a"/><circle cx="511.49" cy="454.25" r="2.5" fill="#ea0a0a"/><circle cx="515.04" cy="434.19" r="2.5" fill="#ea0a0a"/><circle cx="518.59" cy="441.24" r="2.5" fill="#ea0a0a"/><circle cx="522.13" cy="434.73" r="2.5" fill="#ea0a0a"/><circle cx="525.68" cy="413.58" r="2.5" fill="#ea0a0a"/><circle cx="529.23" cy="422.25" r="2.5" fill="#ea0a0a"/><circle cx="532.77" cy="414.66" r="2.5" fill="#ea0a0a"/><circle cx="536.32" cy="419.54" r="2.5" fill="#ea0a0a"/><circle cx="539.87" cy="423.34" r="2.5" fill="#ea0a0a"/><circle cx="543.42" cy="434.19" r="2.5" fill="#ea0a0a"/><circle cx="546.96" cy="430.39" r="2.5" fill="#ea0a0a"/><circle cx="550.51" cy="454.79" r="2.5" fill="#ea0a0a"/><circle cx="554.06" cy="458.05" r="2.5" fill="#ea0a0a"/><circle cx="557.60" cy="461.85" r="2.5" fill="#ea0a0a"/><circle cx="561.15" cy="455.34" r="2.5" fill="#ea0a0a"/><circle cx="564.70" cy="449.37" r="2.5" fill="#ea0a0a"/><circle cx="568.24" cy="480.29" r="2.5" fill="#ea0a0a"/><circle cx="571.79" cy="454.25" r="2.5" fill="#ea0a0a"/><circle cx="575.34" cy="439.07" r="2.5" fill="#ea0a0a"/><circle cx="578.89" cy="448.29" r="2.5" fill="#ea0a0a"/><circle cx="582.43" cy="471.07" r="2.5" fill="#ea0a0a"/><circle cx="585.98" cy="425.51" r="2.5" fill="#ea0a0a"/><circle cx="589.53" cy="471.07" r="2.5" fill="#ea0a0a"/><circle cx="593.07" cy="448.29" r="2.5" fill="#ea0a0a"/><circle cx="596.62" cy="414.12" r="2.5" fill="#ea0a0a"/><circle cx="600.17" cy="478.66" r="2.5" fill="#ea0a0a"/><circle cx="603.71" cy="464.56" r="2.5" fill="#ea0a0a"/></g><g clip-path="url(#k4)"><path d="M820.09 279.85V283.10M817.19 279.85H822.99M817.19 283.10H822.99" stroke="#3f843f" stroke-width="1.0" stroke-opacity="0.75" fill="none"/><path d="M823.53 251.64V283.10M820.63 251.64H826.43M820.63 283.10H826.43" stroke="#3f843f" stroke-width="1.0" stroke-opacity="0.75" fill="none"/><path d="M826.96 274.42V312.39M824.06 274.42H829.86M824.06 312.39H829.86" stroke="#3f843f" stroke-width="1.0" stroke-opacity="0.75" fill="none"/><path d="M830.40 274.42V289.61M827.50 274.42H833.30M827.50 289.61H833.30" stroke="#3f843f" stroke-width="1.0" stroke-opacity="0.75" fill="none"/><path d="M833.84 274.42V285.27M830.94 274.42H836.74M830.94 285.27H836.74" stroke="#3f843f" stroke-width="1.0" stroke-opacity="0.75" fill="none"/><path d="M837.28 264.66V310.76M834.38 264.66H840.18M834.38 310.76H840.18" stroke="#3f843f" stroke-width="1.0" stroke-opacity="0.75" fill="none"/><path d="M840.72 270.08V296.12M837.82 270.08H843.62M837.82 296.12H843.62" stroke="#3f843f" stroke-width="1.0" stroke-opacity="0.75" fill="none"/><path d="M844.16 251.64V289.61M841.26 251.64H847.06M841.26 289.61H847.06" stroke="#3f843f" stroke-width="1.0" stroke-opacity="0.75" fill="none"/><path d="M847.60 265.74V272.25M844.70 265.74H850.50M844.70 272.25H850.50" stroke="#3f843f" stroke-width="1.0" stroke-opacity="0.75" fill="none"/><path d="M851.03 279.85V295.03M848.13 279.85H853.93M848.13 295.03H853.93" stroke="#3f843f" stroke-width="1.0" stroke-opacity="0.75" fill="none"/><path d="M854.47 277.13V281.47M851.57 277.13H857.37M851.57 281.47H857.37" stroke="#3f843f" stroke-width="1.0" stroke-opacity="0.75" fill="none"/><path d="M857.91 277.13V295.03M855.01 277.13H860.81M855.01 295.03H860.81" stroke="#3f843f" stroke-width="1.0" stroke-opacity="0.75" fill="none"/><path d="M861.35 277.68V291.78M858.45 277.68H864.25M858.45 291.78H864.25" stroke="#3f843f" stroke-width="1.0" stroke-opacity="0.75" fill="none"/><path d="M864.79 291.23V307.51M861.89 291.23H867.69M861.89 307.51H867.69" stroke="#3f843f" stroke-width="1.0" stroke-opacity="0.75" fill="none"/><path d="M868.23 263.57V287.44M865.33 263.57H871.13M865.33 287.44H871.13" stroke="#3f843f" stroke-width="1.0" stroke-opacity="0.75" fill="none"/><path d="M871.67 279.30V292.32M868.77 279.30H874.57M868.77 292.32H874.57" stroke="#3f843f" stroke-width="1.0" stroke-opacity="0.75" fill="none"/><path d="M875.10 283.10V296.12M872.20 283.10H878.00M872.20 296.12H878.00" stroke="#3f843f" stroke-width="1.0" stroke-opacity="0.75" fill="none"/><path d="M878.54 289.61V299.37M875.64 289.61H881.44M875.64 299.37H881.44" stroke="#3f843f" stroke-width="1.0" stroke-opacity="0.75" fill="none"/><path d="M881.98 299.37V306.96M879.08 299.37H884.88M879.08 306.96H884.88" stroke="#3f843f" stroke-width="1.0" stroke-opacity="0.75" fill="none"/><path d="M885.42 297.20V304.79M882.52 297.20H888.32M882.52 304.79H888.32" stroke="#3f843f" stroke-width="1.0" stroke-opacity="0.75" fill="none"/><path d="M888.86 290.15V295.57M885.96 290.15H891.76M885.96 295.57H891.76" stroke="#3f843f" stroke-width="1.0" stroke-opacity="0.75" fill="none"/><path d="M892.30 302.62V308.05M889.40 302.62H895.20M889.40 308.05H895.20" stroke="#3f843f" stroke-width="1.0" stroke-opacity="0.75" fill="none"/><path d="M895.74 297.20V301.54M892.84 297.20H898.64M892.84 301.54H898.64" stroke="#3f843f" stroke-width="1.0" stroke-opacity="0.75" fill="none"/><path d="M899.17 297.20V301.54M896.27 297.20H902.07M896.27 301.54H902.07" stroke="#3f843f" stroke-width="1.0" stroke-opacity="0.75" fill="none"/><path d="M902.61 298.29V303.71M899.71 298.29H905.51M899.71 303.71H905.51" stroke="#3f843f" stroke-width="1.0" stroke-opacity="0.75" fill="none"/><path d="M906.05 282.56V290.15M903.15 282.56H908.95M903.15 290.15H908.95" stroke="#3f843f" stroke-width="1.0" stroke-opacity="0.75" fill="none"/><path d="M909.49 298.83V302.08M906.59 298.83H912.39M906.59 302.08H912.39" stroke="#3f843f" stroke-width="1.0" stroke-opacity="0.75" fill="none"/><path d="M912.93 282.56V286.90M910.03 282.56H915.83M910.03 286.90H915.83" stroke="#3f843f" stroke-width="1.0" stroke-opacity="0.75" fill="none"/><path d="M916.37 283.10V288.52M913.47 283.10H919.27M913.47 288.52H919.27" stroke="#3f843f" stroke-width="1.0" stroke-opacity="0.75" fill="none"/><path d="M919.81 291.78V305.88M916.91 291.78H922.71M916.91 305.88H922.71" stroke="#3f843f" stroke-width="1.0" stroke-opacity="0.75" fill="none"/><path d="M923.24 289.07V294.49M920.34 289.07H926.14M920.34 294.49H926.14" stroke="#3f843f" stroke-width="1.0" stroke-opacity="0.75" fill="none"/><path d="M926.68 288.52V296.12M923.78 288.52H929.58M923.78 296.12H929.58" stroke="#3f843f" stroke-width="1.0" stroke-opacity="0.75" fill="none"/><path d="M930.12 304.79V308.05M927.22 304.79H933.02M927.22 308.05H933.02" stroke="#3f843f" stroke-width="1.0" stroke-opacity="0.75" fill="none"/><path d="M933.56 288.52V296.12M930.66 288.52H936.46M930.66 296.12H936.46" stroke="#3f843f" stroke-width="1.0" stroke-opacity="0.75" fill="none"/><path d="M937.00 301.00V309.68M934.10 301.00H939.90M934.10 309.68H939.90" stroke="#3f843f" stroke-width="1.0" stroke-opacity="0.75" fill="none"/><path d="M940.44 310.22V316.73M937.54 310.22H943.34M937.54 316.73H943.34" stroke="#3f843f" stroke-width="1.0" stroke-opacity="0.75" fill="none"/><path d="M943.88 282.56V291.23M940.98 282.56H946.78M940.98 291.23H946.78" stroke="#3f843f" stroke-width="1.0" stroke-opacity="0.75" fill="none"/><path d="M947.31 291.78V299.37M944.41 291.78H950.21M944.41 299.37H950.21" stroke="#3f843f" stroke-width="1.0" stroke-opacity="0.75" fill="none"/><path d="M950.75 286.35V298.29M947.85 286.35H953.65M947.85 298.29H953.65" stroke="#3f843f" stroke-width="1.0" stroke-opacity="0.75" fill="none"/><path d="M954.19 299.37V308.05M951.29 299.37H957.09M951.29 308.05H957.09" stroke="#3f843f" stroke-width="1.0" stroke-opacity="0.75" fill="none"/><path d="M957.63 300.46V312.39M954.73 300.46H960.53M954.73 312.39H960.53" stroke="#3f843f" stroke-width="1.0" stroke-opacity="0.75" fill="none"/><path d="M820.09 232.66V249.47M817.19 232.66H822.99M817.19 249.47H822.99" stroke="#3535bc" stroke-width="1.0" stroke-opacity="0.75" fill="none"/><path d="M823.53 221.27V251.64M820.63 221.27H826.43M820.63 251.64H826.43" stroke="#3535bc" stroke-width="1.0" stroke-opacity="0.75" fill="none"/><path d="M826.96 223.44V246.22M824.06 223.44H829.86M824.06 246.22H829.86" stroke="#3535bc" stroke-width="1.0" stroke-opacity="0.75" fill="none"/><path d="M830.40 237.54V249.47M827.50 237.54H833.30M827.50 249.47H833.30" stroke="#3535bc" stroke-width="1.0" stroke-opacity="0.75" fill="none"/><path d="M833.84 210.42V244.05M830.94 210.42H836.74M830.94 244.05H836.74" stroke="#3535bc" stroke-width="1.0" stroke-opacity="0.75" fill="none"/><path d="M837.28 247.85V255.98M834.38 247.85H840.18M834.38 255.98H840.18" stroke="#3535bc" stroke-width="1.0" stroke-opacity="0.75" fill="none"/><path d="M840.72 264.66V274.42M837.82 264.66H843.62M837.82 274.42H843.62" stroke="#3535bc" stroke-width="1.0" stroke-opacity="0.75" fill="none"/><path d="M844.16 220.73V289.61M841.26 220.73H847.06M841.26 289.61H847.06" stroke="#3535bc" stroke-width="1.0" stroke-opacity="0.75" fill="none"/><path d="M847.60 228.32V239.71M844.70 228.32H850.50M844.70 239.71H850.50" stroke="#3535bc" stroke-width="1.0" stroke-opacity="0.75" fill="none"/><path d="M851.03 219.10V226.15M848.13 219.10H853.93M848.13 226.15H853.93" stroke="#3535bc" stroke-width="1.0" stroke-opacity="0.75" fill="none"/><path d="M854.47 248.39V254.35M851.57 248.39H857.37M851.57 254.35H857.37" stroke="#3535bc" stroke-width="1.0" stroke-opacity="0.75" fill="none"/><path d="M857.91 233.20V236.46M855.01 233.20H860.81M855.01 236.46H860.81" stroke="#3535bc" stroke-width="1.0" stroke-opacity="0.75" fill="none"/><path d="M861.35 238.08V256.52M858.45 238.08H864.25M858.45 256.52H864.25" stroke="#3535bc" stroke-width="1.0" stroke-opacity="0.75" fill="none"/><path d="M864.79 257.07V267.37M861.89 257.07H867.69M861.89 267.37H867.69" stroke="#3535bc" stroke-width="1.0" stroke-opacity="0.75" fill="none"/><path d="M868.23 242.97V264.66M865.33 242.97H871.13M865.33 264.66H871.13" stroke="#3535bc" stroke-width="1.0" stroke-opacity="0.75" fill="none"/><path d="M871.67 242.42V250.56M868.77 242.42H874.57M868.77 250.56H874.57" stroke="#3535bc" stroke-width="1.0" stroke-opacity="0.75" fill="none"/><path d="M875.10 248.39V255.98M872.20 248.39H878.00M872.20 255.98H878.00" stroke="#3535bc" stroke-width="1.0" stroke-opacity="0.75" fill="none"/><path d="M878.54 249.47V265.74M875.64 249.47H881.44M875.64 265.74H881.44" stroke="#3535bc" stroke-width="1.0" stroke-opacity="0.75" fill="none"/><path d="M881.98 249.47V274.42M879.08 249.47H884.88M879.08 274.42H884.88" stroke="#3535bc" stroke-width="1.0" stroke-opacity="0.75" fill="none"/><path d="M885.42 232.66V243.51M882.52 232.66H888.32M882.52 243.51H888.32" stroke="#3535bc" stroke-width="1.0" stroke-opacity="0.75" fill="none"/><path d="M888.86 250.56V273.34M885.96 250.56H891.76M885.96 273.34H891.76" stroke="#3535bc" stroke-width="1.0" stroke-opacity="0.75" fill="none"/><path d="M892.30 240.80V246.22M889.40 240.80H895.20M889.40 246.22H895.20" stroke="#3535bc" stroke-width="1.0" stroke-opacity="0.75" fill="none"/><path d="M895.74 242.42V251.10M892.84 242.42H898.64M892.84 251.10H898.64" stroke="#3535bc" stroke-width="1.0" stroke-opacity="0.75" fill="none"/><path d="M899.17 237.54V257.07M896.27 237.54H902.07M896.27 257.07H902.07" stroke="#3535bc" stroke-width="1.0" stroke-opacity="0.75" fill="none"/><path d="M902.61 237.54V270.63M899.71 237.54H905.51M899.71 270.63H905.51" stroke="#3535bc" stroke-width="1.0" stroke-opacity="0.75" fill="none"/><path d="M906.05 235.91V239.17M903.15 235.91H908.95M903.15 239.17H908.95" stroke="#3535bc" stroke-width="1.0" stroke-opacity="0.75" fill="none"/><path d="M909.49 255.44V278.22M906.59 255.44H912.39M906.59 278.22H912.39" stroke="#3535bc" stroke-width="1.0" stroke-opacity="0.75" fill="none"/><path d="M912.93 246.76V259.24M910.03 246.76H915.83M910.03 259.24H915.83" stroke="#3535bc" stroke-width="1.0" stroke-opacity="0.75" fill="none"/><path d="M916.37 237.54V249.47M913.47 237.54H919.27M913.47 249.47H919.27" stroke="#3535bc" stroke-width="1.0" stroke-opacity="0.75" fill="none"/><path d="M919.81 249.47V269.00M916.91 249.47H922.71M916.91 269.00H922.71" stroke="#3535bc" stroke-width="1.0" stroke-opacity="0.75" fill="none"/><path d="M923.24 242.42V261.41M920.34 242.42H926.14M920.34 261.41H926.14" stroke="#3535bc" stroke-width="1.0" stroke-opacity="0.75" fill="none"/><path d="M926.68 248.39V259.24M923.78 248.39H929.58M923.78 259.24H929.58" stroke="#3535bc" stroke-width="1.0" stroke-opacity="0.75" fill="none"/><path d="M930.12 257.07V267.91M927.22 257.07H933.02M927.22 267.91H933.02" stroke="#3535bc" stroke-width="1.0" stroke-opacity="0.75" fill="none"/><path d="M933.56 247.85V251.10M930.66 247.85H936.46M930.66 251.10H936.46" stroke="#3535bc" stroke-width="1.0" stroke-opacity="0.75" fill="none"/><path d="M937.00 258.15V270.63M934.10 258.15H939.90M934.10 270.63H939.90" stroke="#3535bc" stroke-width="1.0" stroke-opacity="0.75" fill="none"/><path d="M940.44 253.27V264.12M937.54 253.27H943.34M937.54 264.12H943.34" stroke="#3535bc" stroke-width="1.0" stroke-opacity="0.75" fill="none"/><path d="M943.88 257.07V263.57M940.98 257.07H946.78M940.98 263.57H946.78" stroke="#3535bc" stroke-width="1.0" stroke-opacity="0.75" fill="none"/><path d="M947.31 263.03V279.30M944.41 263.03H950.21M944.41 279.30H950.21" stroke="#3535bc" stroke-width="1.0" stroke-opacity="0.75" fill="none"/><path d="M950.75 239.17V272.79M947.85 239.17H953.65M947.85 272.79H953.65" stroke="#3535bc" stroke-width="1.0" stroke-opacity="0.75" fill="none"/><path d="M954.19 255.98V295.03M951.29 255.98H957.09M951.29 295.03H957.09" stroke="#3535bc" stroke-width="1.0" stroke-opacity="0.75" fill="none"/><path d="M957.63 255.44V271.17M954.73 255.44H960.53M954.73 271.17H960.53" stroke="#3535bc" stroke-width="1.0" stroke-opacity="0.75" fill="none"/><circle cx="820.09" cy="281.47" r="2.5" fill="#0a780a"/><circle cx="823.53" cy="272.79" r="2.5" fill="#0a780a"/><circle cx="826.96" cy="293.40" r="2.5" fill="#0a780a"/><circle cx="830.40" cy="282.01" r="2.5" fill="#0a780a"/><circle cx="833.84" cy="279.85" r="2.5" fill="#0a780a"/><circle cx="837.28" cy="287.44" r="2.5" fill="#0a780a"/><circle cx="840.72" cy="283.10" r="2.5" fill="#0a780a"/><circle cx="844.16" cy="270.63" r="2.5" fill="#0a780a"/><circle cx="847.60" cy="269.00" r="2.5" fill="#0a780a"/><circle cx="851.03" cy="287.44" r="2.5" fill="#0a780a"/><circle cx="854.47" cy="279.30" r="2.5" fill="#0a780a"/><circle cx="857.91" cy="285.81" r="2.5" fill="#0a780a"/><circle cx="861.35" cy="284.73" r="2.5" fill="#0a780a"/><circle cx="864.79" cy="299.37" r="2.5" fill="#0a780a"/><circle cx="868.23" cy="275.51" r="2.5" fill="#0a780a"/><circle cx="871.67" cy="285.81" r="2.5" fill="#0a780a"/><circle cx="875.10" cy="289.61" r="2.5" fill="#0a780a"/><circle cx="878.54" cy="294.49" r="2.5" fill="#0a780a"/><circle cx="881.98" cy="303.17" r="2.5" fill="#0a780a"/><circle cx="885.42" cy="301.00" r="2.5" fill="#0a780a"/><circle cx="888.86" cy="292.86" r="2.5" fill="#0a780a"/><circle cx="892.30" cy="305.34" r="2.5" fill="#0a780a"/><circle cx="895.74" cy="299.37" r="2.5" fill="#0a780a"/><circle cx="899.17" cy="299.37" r="2.5" fill="#0a780a"/><circle cx="902.61" cy="301.00" r="2.5" fill="#0a780a"/><circle cx="906.05" cy="286.35" r="2.5" fill="#0a780a"/><circle cx="909.49" cy="300.46" r="2.5" fill="#0a780a"/><circle cx="912.93" cy="284.73" r="2.5" fill="#0a780a"/><circle cx="916.37" cy="285.81" r="2.5" fill="#0a780a"/><circle cx="919.81" cy="298.83" r="2.5" fill="#0a780a"/><circle cx="923.24" cy="291.78" r="2.5" fill="#0a780a"/><circle cx="926.68" cy="292.32" r="2.5" fill="#0a780a"/><circle cx="930.12" cy="306.42" r="2.5" fill="#0a780a"/><circle cx="933.56" cy="292.32" r="2.5" fill="#0a780a"/><circle cx="937.00" cy="305.34" r="2.5" fill="#0a780a"/><circle cx="940.44" cy="313.47" r="2.5" fill="#0a780a"/><circle cx="943.88" cy="286.90" r="2.5" fill="#0a780a"/><circle cx="947.31" cy="295.57" r="2.5" fill="#0a780a"/><circle cx="950.75" cy="292.32" r="2.5" fill="#0a780a"/><circle cx="954.19" cy="303.71" r="2.5" fill="#0a780a"/><circle cx="957.63" cy="306.42" r="2.5" fill="#0a780a"/><circle cx="820.09" cy="240.80" r="2.5" fill="#0a0ae6"/><circle cx="823.53" cy="240.80" r="2.5" fill="#0a0ae6"/><circle cx="826.96" cy="234.83" r="2.5" fill="#0a0ae6"/><circle cx="830.40" cy="243.51" r="2.5" fill="#0a0ae6"/><circle cx="833.84" cy="227.78" r="2.5" fill="#0a0ae6"/><circle cx="837.28" cy="251.64" r="2.5" fill="#0a0ae6"/><circle cx="840.72" cy="270.08" r="2.5" fill="#0a0ae6"/><circle cx="844.16" cy="244.59" r="2.5" fill="#0a0ae6"/><circle cx="847.60" cy="234.29" r="2.5" fill="#0a0ae6"/><circle cx="851.03" cy="222.36" r="2.5" fill="#0a0ae6"/><circle cx="854.47" cy="251.10" r="2.5" fill="#0a0ae6"/><circle cx="857.91" cy="234.83" r="2.5" fill="#0a0ae6"/><circle cx="861.35" cy="247.30" r="2.5" fill="#0a0ae6"/><circle cx="864.79" cy="261.95" r="2.5" fill="#0a0ae6"/><circle cx="868.23" cy="253.81" r="2.5" fill="#0a0ae6"/><circle cx="871.67" cy="246.22" r="2.5" fill="#0a0ae6"/><circle cx="875.10" cy="251.64" r="2.5" fill="#0a0ae6"/><circle cx="878.54" cy="257.07" r="2.5" fill="#0a0ae6"/><circle cx="881.98" cy="261.95" r="2.5" fill="#0a0ae6"/><circle cx="885.42" cy="238.08" r="2.5" fill="#0a0ae6"/><circle cx="888.86" cy="261.95" r="2.5" fill="#0a0ae6"/><circle cx="892.30" cy="243.51" r="2.5" fill="#0a0ae6"/><circle cx="895.74" cy="246.76" r="2.5" fill="#0a0ae6"/><circle cx="899.17" cy="247.30" r="2.5" fill="#0a0ae6"/><circle cx="902.61" cy="254.35" r="2.5" fill="#0a0ae6"/><circle cx="906.05" cy="237.54" r="2.5" fill="#0a0ae6"/><circle cx="909.49" cy="266.83" r="2.5" fill="#0a0ae6"/><circle cx="912.93" cy="252.73" r="2.5" fill="#0a0ae6"/><circle cx="916.37" cy="243.51" r="2.5" fill="#0a0ae6"/><circle cx="919.81" cy="259.24" r="2.5" fill="#0a0ae6"/><circle cx="923.24" cy="252.19" r="2.5" fill="#0a0ae6"/><circle cx="926.68" cy="253.81" r="2.5" fill="#0a0ae6"/><circle cx="930.12" cy="262.49" r="2.5" fill="#0a0ae6"/><circle cx="933.56" cy="249.47" r="2.5" fill="#0a0ae6"/><circle cx="937.00" cy="264.12" r="2.5" fill="#0a0ae6"/><circle cx="940.44" cy="258.69" r="2.5" fill="#0a0ae6"/><circle cx="943.88" cy="260.32" r="2.5" fill="#0a0ae6"/><circle cx="947.31" cy="270.08" r="2.5" fill="#0a0ae6"/><circle cx="950.75" cy="255.98" r="2.5" fill="#0a0ae6"/><circle cx="954.19" cy="275.51" r="2.5" fill="#0a0ae6"/><circle cx="957.63" cy="263.03" r="2.5" fill="#0a0ae6"/><path d="M1012.38 258.69V270.08M1009.48 258.69H1015.28M1009.48 270.08H1015.28" stroke="#f0b040" stroke-width="1.0" stroke-opacity="0.75" fill="none"/><path d="M1015.83 248.39V261.41M1012.93 248.39H1018.73M1012.93 261.41H1018.73" stroke="#f0b040" stroke-width="1.0" stroke-opacity="0.75" fill="none"/><path d="M1019.27 238.63V258.15M1016.37 238.63H1022.17M1016.37 258.15H1022.17" stroke="#f0b040" stroke-width="1.0" stroke-opacity="0.75" fill="none"/><path d="M1022.72 244.05V248.39M1019.82 244.05H1025.62M1019.82 248.39H1025.62" stroke="#f0b040" stroke-width="1.0" stroke-opacity="0.75" fill="none"/><path d="M1026.17 256.52V260.86M1023.27 256.52H1029.07M1023.27 260.86H1029.07" stroke="#f0b040" stroke-width="1.0" stroke-opacity="0.75" fill="none"/><path d="M1029.62 231.58V270.08M1026.72 231.58H1032.52M1026.72 270.08H1032.52" stroke="#f0b040" stroke-width="1.0" stroke-opacity="0.75" fill="none"/><path d="M1033.07 240.80V265.20M1030.17 240.80H1035.97M1030.17 265.20H1035.97" stroke="#f0b040" stroke-width="1.0" stroke-opacity="0.75" fill="none"/><path d="M1036.52 240.80V255.98M1033.62 240.80H1039.42M1033.62 255.98H1039.42" stroke="#f0b040" stroke-width="1.0" stroke-opacity="0.75" fill="none"/><path d="M1039.97 239.71V253.81M1037.07 239.71H1042.87M1037.07 253.81H1042.87" stroke="#f0b040" stroke-width="1.0" stroke-opacity="0.75" fill="none"/><path d="M1043.42 239.71V270.08M1040.52 239.71H1046.32M1040.52 270.08H1046.32" stroke="#f0b040" stroke-width="1.0" stroke-opacity="0.75" fill="none"/><path d="M1046.87 259.24V269.00M1043.97 259.24H1049.77M1043.97 269.00H1049.77" stroke="#f0b040" stroke-width="1.0" stroke-opacity="0.75" fill="none"/><path d="M1050.32 249.47V264.66M1047.42 249.47H1053.22M1047.42 264.66H1053.22" stroke="#f0b040" stroke-width="1.0" stroke-opacity="0.75" fill="none"/><path d="M1053.77 233.74V255.44M1050.87 233.74H1056.67M1050.87 255.44H1056.67" stroke="#f0b040" stroke-width="1.0" stroke-opacity="0.75" fill="none"/><path d="M1057.22 240.80V264.66M1054.32 240.80H1060.12M1054.32 264.66H1060.12" stroke="#f0b040" stroke-width="1.0" stroke-opacity="0.75" fill="none"/><path d="M1060.67 245.13V263.57M1057.77 245.13H1063.57M1057.77 263.57H1063.57" stroke="#f0b040" stroke-width="1.0" stroke-opacity="0.75" fill="none"/><path d="M1064.12 245.13V262.49M1061.22 245.13H1067.02M1061.22 262.49H1067.02" stroke="#f0b040" stroke-width="1.0" stroke-opacity="0.75" fill="none"/><path d="M1067.57 245.13V261.41M1064.67 245.13H1070.47M1064.67 261.41H1070.47" stroke="#f0b040" stroke-width="1.0" stroke-opacity="0.75" fill="none"/><path d="M1071.02 258.15V263.57M1068.12 258.15H1073.92M1068.12 263.57H1073.92" stroke="#f0b040" stroke-width="1.0" stroke-opacity="0.75" fill="none"/><path d="M1074.47 246.76V251.10M1071.57 246.76H1077.37M1071.57 251.10H1077.37" stroke="#f0b040" stroke-width="1.0" stroke-opacity="0.75" fill="none"/><path d="M1077.91 254.90V264.66M1075.01 254.90H1080.81M1075.01 264.66H1080.81" stroke="#f0b040" stroke-width="1.0" stroke-opacity="0.75" fill="none"/><path d="M1081.36 250.56V255.98M1078.46 250.56H1084.26M1078.46 255.98H1084.26" stroke="#f0b040" stroke-width="1.0" stroke-opacity="0.75" fill="none"/><path d="M1084.81 264.66V273.34M1081.91 264.66H1087.71M1081.91 273.34H1087.71" stroke="#f0b040" stroke-width="1.0" stroke-opacity="0.75" fill="none"/><path d="M1088.26 251.64V257.07M1085.36 251.64H1091.16M1085.36 257.07H1091.16" stroke="#f0b040" stroke-width="1.0" stroke-opacity="0.75" fill="none"/><path d="M1091.71 255.98V275.51M1088.81 255.98H1094.61M1088.81 275.51H1094.61" stroke="#f0b040" stroke-width="1.0" stroke-opacity="0.75" fill="none"/><path d="M1095.16 263.57V270.08M1092.26 263.57H1098.06M1092.26 270.08H1098.06" stroke="#f0b040" stroke-width="1.0" stroke-opacity="0.75" fill="none"/><path d="M1098.61 248.93V266.29M1095.71 248.93H1101.51M1095.71 266.29H1101.51" stroke="#f0b040" stroke-width="1.0" stroke-opacity="0.75" fill="none"/><path d="M1102.06 246.22V265.74M1099.16 246.22H1104.96M1099.16 265.74H1104.96" stroke="#f0b040" stroke-width="1.0" stroke-opacity="0.75" fill="none"/><path d="M1105.51 259.24V270.08M1102.61 259.24H1108.41M1102.61 270.08H1108.41" stroke="#f0b040" stroke-width="1.0" stroke-opacity="0.75" fill="none"/><path d="M1108.96 231.58V278.76M1106.06 231.58H1111.86M1106.06 278.76H1111.86" stroke="#f0b040" stroke-width="1.0" stroke-opacity="0.75" fill="none"/><path d="M1112.41 232.12V249.47M1109.51 232.12H1115.31M1109.51 249.47H1115.31" stroke="#f0b040" stroke-width="1.0" stroke-opacity="0.75" fill="none"/><path d="M1115.86 241.88V251.64M1112.96 241.88H1118.76M1112.96 251.64H1118.76" stroke="#f0b040" stroke-width="1.0" stroke-opacity="0.75" fill="none"/><path d="M1119.31 226.69V265.74M1116.41 226.69H1122.21M1116.41 265.74H1122.21" stroke="#f0b040" stroke-width="1.0" stroke-opacity="0.75" fill="none"/><path d="M1122.76 244.05V262.49M1119.86 244.05H1125.66M1119.86 262.49H1125.66" stroke="#f0b040" stroke-width="1.0" stroke-opacity="0.75" fill="none"/><path d="M1126.21 245.68V252.19M1123.31 245.68H1129.11M1123.31 252.19H1129.11" stroke="#f0b040" stroke-width="1.0" stroke-opacity="0.75" fill="none"/><path d="M1129.66 248.93V256.52M1126.76 248.93H1132.56M1126.76 256.52H1132.56" stroke="#f0b040" stroke-width="1.0" stroke-opacity="0.75" fill="none"/><path d="M1133.11 255.98V261.41M1130.21 255.98H1136.01M1130.21 261.41H1136.01" stroke="#f0b040" stroke-width="1.0" stroke-opacity="0.75" fill="none"/><path d="M1136.55 232.66V271.71M1133.65 232.66H1139.45M1133.65 271.71H1139.45" stroke="#f0b040" stroke-width="1.0" stroke-opacity="0.75" fill="none"/><path d="M1140.00 216.39V261.95M1137.10 216.39H1142.90M1137.10 261.95H1142.90" stroke="#f0b040" stroke-width="1.0" stroke-opacity="0.75" fill="none"/><path d="M1143.45 223.44V227.78M1140.55 223.44H1146.35M1140.55 227.78H1146.35" stroke="#f0b040" stroke-width="1.0" stroke-opacity="0.75" fill="none"/><path d="M1146.90 228.32V265.20M1144.00 228.32H1149.80M1144.00 265.20H1149.80" stroke="#f0b040" stroke-width="1.0" stroke-opacity="0.75" fill="none"/><path d="M1150.35 255.44V259.78M1147.45 255.44H1153.25M1147.45 259.78H1153.25" stroke="#f0b040" stroke-width="1.0" stroke-opacity="0.75" fill="none"/><path d="M1012.38 291.78V300.46M1009.48 291.78H1015.28M1009.48 300.46H1015.28" stroke="#de3838" stroke-width="1.0" stroke-opacity="0.75" fill="none"/><path d="M1015.83 289.61V293.95M1012.93 289.61H1018.73M1012.93 293.95H1018.73" stroke="#de3838" stroke-width="1.0" stroke-opacity="0.75" fill="none"/><path d="M1019.27 289.61V293.95M1016.37 289.61H1022.17M1016.37 293.95H1022.17" stroke="#de3838" stroke-width="1.0" stroke-opacity="0.75" fill="none"/><path d="M1022.72 314.56V318.90M1019.82 314.56H1025.62M1019.82 318.90H1025.62" stroke="#de3838" stroke-width="1.0" stroke-opacity="0.75" fill="none"/><path d="M1026.17 279.30V307.51M1023.27 279.30H1029.07M1023.27 307.51H1029.07" stroke="#de3838" stroke-width="1.0" stroke-opacity="0.75" fill="none"/><path d="M1029.62 302.62V312.39M1026.72 302.62H1032.52M1026.72 312.39H1032.52" stroke="#de3838" stroke-width="1.0" stroke-opacity="0.75" fill="none"/><path d="M1033.07 282.56V311.84M1030.17 282.56H1035.97M1030.17 311.84H1035.97" stroke="#de3838" stroke-width="1.0" stroke-opacity="0.75" fill="none"/><path d="M1036.52 285.27V289.61M1033.62 285.27H1039.42M1033.62 289.61H1039.42" stroke="#de3838" stroke-width="1.0" stroke-opacity="0.75" fill="none"/><path d="M1039.97 291.78V299.37M1037.07 291.78H1042.87M1037.07 299.37H1042.87" stroke="#de3838" stroke-width="1.0" stroke-opacity="0.75" fill="none"/><path d="M1043.42 280.93V289.61M1040.52 280.93H1046.32M1040.52 289.61H1046.32" stroke="#de3838" stroke-width="1.0" stroke-opacity="0.75" fill="none"/><path d="M1046.87 295.03V300.46M1043.97 295.03H1049.77M1043.97 300.46H1049.77" stroke="#de3838" stroke-width="1.0" stroke-opacity="0.75" fill="none"/><path d="M1050.32 293.95V300.46M1047.42 293.95H1053.22M1047.42 300.46H1053.22" stroke="#de3838" stroke-width="1.0" stroke-opacity="0.75" fill="none"/><path d="M1053.77 276.59V298.29M1050.87 276.59H1056.67M1050.87 298.29H1056.67" stroke="#de3838" stroke-width="1.0" stroke-opacity="0.75" fill="none"/><path d="M1057.22 279.85V298.29M1054.32 279.85H1060.12M1054.32 298.29H1060.12" stroke="#de3838" stroke-width="1.0" stroke-opacity="0.75" fill="none"/><path d="M1060.67 300.46V309.13M1057.77 300.46H1063.57M1057.77 309.13H1063.57" stroke="#de3838" stroke-width="1.0" stroke-opacity="0.75" fill="none"/><path d="M1064.12 283.64V294.49M1061.22 283.64H1067.02M1061.22 294.49H1067.02" stroke="#de3838" stroke-width="1.0" stroke-opacity="0.75" fill="none"/><path d="M1067.57 292.86V302.62M1064.67 292.86H1070.47M1064.67 302.62H1070.47" stroke="#de3838" stroke-width="1.0" stroke-opacity="0.75" fill="none"/><path d="M1071.02 293.95V301.54M1068.12 293.95H1073.92M1068.12 301.54H1073.92" stroke="#de3838" stroke-width="1.0" stroke-opacity="0.75" fill="none"/><path d="M1074.47 270.08V299.37M1071.57 270.08H1077.37M1071.57 299.37H1077.37" stroke="#de3838" stroke-width="1.0" stroke-opacity="0.75" fill="none"/><path d="M1077.91 278.76V286.35M1075.01 278.76H1080.81M1075.01 286.35H1080.81" stroke="#de3838" stroke-width="1.0" stroke-opacity="0.75" fill="none"/><path d="M1081.36 272.25V308.05M1078.46 272.25H1084.26M1078.46 308.05H1084.26" stroke="#de3838" stroke-width="1.0" stroke-opacity="0.75" fill="none"/><path d="M1084.81 287.44V297.20M1081.91 287.44H1087.71M1081.91 297.20H1087.71" stroke="#de3838" stroke-width="1.0" stroke-opacity="0.75" fill="none"/><path d="M1088.26 271.17V300.46M1085.36 271.17H1091.16M1085.36 300.46H1091.16" stroke="#de3838" stroke-width="1.0" stroke-opacity="0.75" fill="none"/><path d="M1091.71 290.69V303.71M1088.81 290.69H1094.61M1088.81 303.71H1094.61" stroke="#de3838" stroke-width="1.0" stroke-opacity="0.75" fill="none"/><path d="M1095.16 270.63V274.96M1092.26 270.63H1098.06M1092.26 274.96H1098.06" stroke="#de3838" stroke-width="1.0" stroke-opacity="0.75" fill="none"/><path d="M1098.61 287.44V291.78M1095.71 287.44H1101.51M1095.71 291.78H1101.51" stroke="#de3838" stroke-width="1.0" stroke-opacity="0.75" fill="none"/><path d="M1102.06 285.27V289.61M1099.16 285.27H1104.96M1099.16 289.61H1104.96" stroke="#de3838" stroke-width="1.0" stroke-opacity="0.75" fill="none"/><path d="M1105.51 283.10V301.54M1102.61 283.10H1108.41M1102.61 301.54H1108.41" stroke="#de3838" stroke-width="1.0" stroke-opacity="0.75" fill="none"/><path d="M1108.96 265.74V286.35M1106.06 265.74H1111.86M1106.06 286.35H1111.86" stroke="#de3838" stroke-width="1.0" stroke-opacity="0.75" fill="none"/><path d="M1112.41 260.86V274.96M1109.51 260.86H1115.31M1109.51 274.96H1115.31" stroke="#de3838" stroke-width="1.0" stroke-opacity="0.75" fill="none"/><path d="M1115.86 278.76V304.25M1112.96 278.76H1118.76M1112.96 304.25H1118.76" stroke="#de3838" stroke-width="1.0" stroke-opacity="0.75" fill="none"/><path d="M1119.31 269.00V279.85M1116.41 269.00H1122.21M1116.41 279.85H1122.21" stroke="#de3838" stroke-width="1.0" stroke-opacity="0.75" fill="none"/><path d="M1122.76 274.42V299.91M1119.86 274.42H1125.66M1119.86 299.91H1125.66" stroke="#de3838" stroke-width="1.0" stroke-opacity="0.75" fill="none"/><path d="M1126.21 269.00V288.52M1123.31 269.00H1129.11M1123.31 288.52H1129.11" stroke="#de3838" stroke-width="1.0" stroke-opacity="0.75" fill="none"/><path d="M1129.66 280.93V299.37M1126.76 280.93H1132.56M1126.76 299.37H1132.56" stroke="#de3838" stroke-width="1.0" stroke-opacity="0.75" fill="none"/><path d="M1133.11 275.51V284.18M1130.21 275.51H1136.01M1130.21 284.18H1136.01" stroke="#de3838" stroke-width="1.0" stroke-opacity="0.75" fill="none"/><path d="M1136.55 276.59V284.18M1133.65 276.59H1139.45M1133.65 284.18H1139.45" stroke="#de3838" stroke-width="1.0" stroke-opacity="0.75" fill="none"/><path d="M1140.00 254.90V280.93M1137.10 254.90H1142.90M1137.10 280.93H1142.90" stroke="#de3838" stroke-width="1.0" stroke-opacity="0.75" fill="none"/><path d="M1143.45 264.66V295.03M1140.55 264.66H1146.35M1140.55 295.03H1146.35" stroke="#de3838" stroke-width="1.0" stroke-opacity="0.75" fill="none"/><path d="M1146.90 254.90V283.10M1144.00 254.90H1149.80M1144.00 283.10H1149.80" stroke="#de3838" stroke-width="1.0" stroke-opacity="0.75" fill="none"/><path d="M1150.35 264.66V273.34M1147.45 264.66H1153.25M1147.45 273.34H1153.25" stroke="#de3838" stroke-width="1.0" stroke-opacity="0.75" fill="none"/><circle cx="1012.38" cy="264.12" r="2.5" fill="#f2a52a"/><circle cx="1015.83" cy="254.90" r="2.5" fill="#f2a52a"/><circle cx="1019.27" cy="248.39" r="2.5" fill="#f2a52a"/><circle cx="1022.72" cy="246.22" r="2.5" fill="#f2a52a"/><circle cx="1026.17" cy="258.69" r="2.5" fill="#f2a52a"/><circle cx="1029.62" cy="251.10" r="2.5" fill="#f2a52a"/><circle cx="1033.07" cy="252.73" r="2.5" fill="#f2a52a"/><circle cx="1036.52" cy="248.39" r="2.5" fill="#f2a52a"/><circle cx="1039.97" cy="246.76" r="2.5" fill="#f2a52a"/><circle cx="1043.42" cy="254.90" r="2.5" fill="#f2a52a"/><circle cx="1046.87" cy="264.12" r="2.5" fill="#f2a52a"/><circle cx="1050.32" cy="257.07" r="2.5" fill="#f2a52a"/><circle cx="1053.77" cy="244.59" r="2.5" fill="#f2a52a"/><circle cx="1057.22" cy="252.73" r="2.5" fill="#f2a52a"/><circle cx="1060.67" cy="254.35" r="2.5" fill="#f2a52a"/><circle cx="1064.12" cy="253.81" r="2.5" fill="#f2a52a"/><circle cx="1067.57" cy="253.27" r="2.5" fill="#f2a52a"/><circle cx="1071.02" cy="260.86" r="2.5" fill="#f2a52a"/><circle cx="1074.47" cy="248.93" r="2.5" fill="#f2a52a"/><circle cx="1077.91" cy="259.78" r="2.5" fill="#f2a52a"/><circle cx="1081.36" cy="253.27" r="2.5" fill="#f2a52a"/><circle cx="1084.81" cy="269.00" r="2.5" fill="#f2a52a"/><circle cx="1088.26" cy="254.35" r="2.5" fill="#f2a52a"/><circle cx="1091.71" cy="265.74" r="2.5" fill="#f2a52a"/><circle cx="1095.16" cy="266.83" r="2.5" fill="#f2a52a"/><circle cx="1098.61" cy="257.61" r="2.5" fill="#f2a52a"/><circle cx="1102.06" cy="255.98" r="2.5" fill="#f2a52a"/><circle cx="1105.51" cy="264.66" r="2.5" fill="#f2a52a"/><circle cx="1108.96" cy="254.90" r="2.5" fill="#f2a52a"/><circle cx="1112.41" cy="240.80" r="2.5" fill="#f2a52a"/><circle cx="1115.86" cy="246.76" r="2.5" fill="#f2a52a"/><circle cx="1119.31" cy="246.22" r="2.5" fill="#f2a52a"/><circle cx="1122.76" cy="253.27" r="2.5" fill="#f2a52a"/><circle cx="1126.21" cy="248.93" r="2.5" fill="#f2a52a"/><circle cx="1129.66" cy="252.73" r="2.5" fill="#f2a52a"/><circle cx="1133.11" cy="258.69" r="2.5" fill="#f2a52a"/><circle cx="1136.55" cy="252.19" r="2.5" fill="#f2a52a"/><circle cx="1140.00" cy="239.17" r="2.5" fill="#f2a52a"/><circle cx="1143.45" cy="225.61" r="2.5" fill="#f2a52a"/><circle cx="1146.90" cy="246.76" r="2.5" fill="#f2a52a"/><circle cx="1150.35" cy="257.61" r="2.5" fill="#f2a52a"/><circle cx="1012.38" cy="296.12" r="2.5" fill="#ea0a0a"/><circle cx="1015.83" cy="291.78" r="2.5" fill="#ea0a0a"/><circle cx="1019.27" cy="291.78" r="2.5" fill="#ea0a0a"/><circle cx="1022.72" cy="316.73" r="2.5" fill="#ea0a0a"/><circle cx="1026.17" cy="293.40" r="2.5" fill="#ea0a0a"/><circle cx="1029.62" cy="307.51" r="2.5" fill="#ea0a0a"/><circle cx="1033.07" cy="297.20" r="2.5" fill="#ea0a0a"/><circle cx="1036.52" cy="287.44" r="2.5" fill="#ea0a0a"/><circle cx="1039.97" cy="295.57" r="2.5" fill="#ea0a0a"/><circle cx="1043.42" cy="285.27" r="2.5" fill="#ea0a0a"/><circle cx="1046.87" cy="297.74" r="2.5" fill="#ea0a0a"/><circle cx="1050.32" cy="297.20" r="2.5" fill="#ea0a0a"/><circle cx="1053.77" cy="287.44" r="2.5" fill="#ea0a0a"/><circle cx="1057.22" cy="289.07" r="2.5" fill="#ea0a0a"/><circle cx="1060.67" cy="304.79" r="2.5" fill="#ea0a0a"/><circle cx="1064.12" cy="289.07" r="2.5" fill="#ea0a0a"/><circle cx="1067.57" cy="297.74" r="2.5" fill="#ea0a0a"/><circle cx="1071.02" cy="297.74" r="2.5" fill="#ea0a0a"/><circle cx="1074.47" cy="284.73" r="2.5" fill="#ea0a0a"/><circle cx="1077.91" cy="282.56" r="2.5" fill="#ea0a0a"/><circle cx="1081.36" cy="290.69" r="2.5" fill="#ea0a0a"/><circle cx="1084.81" cy="292.32" r="2.5" fill="#ea0a0a"/><circle cx="1088.26" cy="285.81" r="2.5" fill="#ea0a0a"/><circle cx="1091.71" cy="297.20" r="2.5" fill="#ea0a0a"/><circle cx="1095.16" cy="272.79" r="2.5" fill="#ea0a0a"/><circle cx="1098.61" cy="289.61" r="2.5" fill="#ea0a0a"/><circle cx="1102.06" cy="287.44" r="2.5" fill="#ea0a0a"/><circle cx="1105.51" cy="292.32" r="2.5" fill="#ea0a0a"/><circle cx="1108.96" cy="276.05" r="2.5" fill="#ea0a0a"/><circle cx="1112.41" cy="267.91" r="2.5" fill="#ea0a0a"/><circle cx="1115.86" cy="291.78" r="2.5" fill="#ea0a0a"/><circle cx="1119.31" cy="274.42" r="2.5" fill="#ea0a0a"/><circle cx="1122.76" cy="287.44" r="2.5" fill="#ea0a0a"/><circle cx="1126.21" cy="278.76" r="2.5" fill="#ea0a0a"/><circle cx="1129.66" cy="290.15" r="2.5" fill="#ea0a0a"/><circle cx="1133.11" cy="279.85" r="2.5" fill="#ea0a0a"/><circle cx="1136.55" cy="280.39" r="2.5" fill="#ea0a0a"/><circle cx="1140.00" cy="267.91" r="2.5" fill="#ea0a0a"/><circle cx="1143.45" cy="279.85" r="2.5" fill="#ea0a0a"/><circle cx="1146.90" cy="269.00" r="2.5" fill="#ea0a0a"/><circle cx="1150.35" cy="269.00" r="2.5" fill="#ea0a0a"/></g><g clip-path="url(#k5)"><path d="M820.30 434.44V457.76M817.40 434.44H823.20M817.40 457.76H823.20" stroke="#3535bc" stroke-width="1.0" stroke-opacity="0.75" fill="none"/><path d="M823.77 398.64V472.40M820.87 398.64H826.67M820.87 472.40H826.67" stroke="#3535bc" stroke-width="1.0" stroke-opacity="0.75" fill="none"/><path d="M827.23 440.41V498.44M824.33 440.41H830.13M824.33 498.44H830.13" stroke="#3535bc" stroke-width="1.0" stroke-opacity="0.75" fill="none"/><path d="M830.69 434.44V451.79M827.79 434.44H833.59M827.79 451.79H833.59" stroke="#3535bc" stroke-width="1.0" stroke-opacity="0.75" fill="none"/><path d="M834.15 437.15V483.79M831.25 437.15H837.05M831.25 483.79H837.05" stroke="#3535bc" stroke-width="1.0" stroke-opacity="0.75" fill="none"/><path d="M837.61 410.03V470.23M834.71 410.03H840.51M834.71 470.23H840.51" stroke="#3535bc" stroke-width="1.0" stroke-opacity="0.75" fill="none"/><path d="M841.07 392.14V428.47M838.17 392.14H843.97M838.17 428.47H843.97" stroke="#3535bc" stroke-width="1.0" stroke-opacity="0.75" fill="none"/><path d="M844.53 388.88V468.07M841.63 388.88H847.43M841.63 468.07H847.43" stroke="#3535bc" stroke-width="1.0" stroke-opacity="0.75" fill="none"/><path d="M847.99 431.19V446.37M845.09 431.19H850.89M845.09 446.37H850.89" stroke="#3535bc" stroke-width="1.0" stroke-opacity="0.75" fill="none"/><path d="M851.45 467.52V488.68M848.55 467.52H854.35M848.55 488.68H854.35" stroke="#3535bc" stroke-width="1.0" stroke-opacity="0.75" fill="none"/><path d="M854.91 425.76V434.98M852.01 425.76H857.81M852.01 434.98H857.81" stroke="#3535bc" stroke-width="1.0" stroke-opacity="0.75" fill="none"/><path d="M858.37 449.08V472.95M855.47 449.08H861.27M855.47 472.95H861.27" stroke="#3535bc" stroke-width="1.0" stroke-opacity="0.75" fill="none"/><path d="M861.83 427.39V457.22M858.93 427.39H864.73M858.93 457.22H864.73" stroke="#3535bc" stroke-width="1.0" stroke-opacity="0.75" fill="none"/><path d="M865.29 429.56V455.59M862.39 429.56H868.19M862.39 455.59H868.19" stroke="#3535bc" stroke-width="1.0" stroke-opacity="0.75" fill="none"/><path d="M868.75 402.98V440.95M865.85 402.98H871.65M865.85 440.95H871.65" stroke="#3535bc" stroke-width="1.0" stroke-opacity="0.75" fill="none"/><path d="M872.21 435.52V453.96M869.31 435.52H875.11M869.31 453.96H875.11" stroke="#3535bc" stroke-width="1.0" stroke-opacity="0.75" fill="none"/><path d="M875.67 432.27V453.96M872.77 432.27H878.57M872.77 453.96H878.57" stroke="#3535bc" stroke-width="1.0" stroke-opacity="0.75" fill="none"/><path d="M879.13 430.10V455.05M876.23 430.10H882.03M876.23 455.05H882.03" stroke="#3535bc" stroke-width="1.0" stroke-opacity="0.75" fill="none"/><path d="M882.59 431.73V463.18M879.69 431.73H885.49M879.69 463.18H885.49" stroke="#3535bc" stroke-width="1.0" stroke-opacity="0.75" fill="none"/><path d="M886.05 462.64V487.59M883.15 462.64H888.95M883.15 487.59H888.95" stroke="#3535bc" stroke-width="1.0" stroke-opacity="0.75" fill="none"/><path d="M889.51 418.71V448.54M886.61 418.71H892.41M886.61 448.54H892.41" stroke="#3535bc" stroke-width="1.0" stroke-opacity="0.75" fill="none"/><path d="M892.97 472.40V475.66M890.07 472.40H895.87M890.07 475.66H895.87" stroke="#3535bc" stroke-width="1.0" stroke-opacity="0.75" fill="none"/><path d="M896.43 456.13V467.52M893.53 456.13H899.33M893.53 467.52H899.33" stroke="#3535bc" stroke-width="1.0" stroke-opacity="0.75" fill="none"/><path d="M899.89 448.54V474.57M896.99 448.54H902.79M896.99 474.57H902.79" stroke="#3535bc" stroke-width="1.0" stroke-opacity="0.75" fill="none"/><path d="M903.35 433.35V476.20M900.45 433.35H906.25M900.45 476.20H906.25" stroke="#3535bc" stroke-width="1.0" stroke-opacity="0.75" fill="none"/><path d="M906.81 453.42V462.64M903.91 453.42H909.71M903.91 462.64H909.71" stroke="#3535bc" stroke-width="1.0" stroke-opacity="0.75" fill="none"/><path d="M910.27 422.51V452.34M907.37 422.51H913.17M907.37 452.34H913.17" stroke="#3535bc" stroke-width="1.0" stroke-opacity="0.75" fill="none"/><path d="M913.73 416.54V454.51M910.83 416.54H916.63M910.83 454.51H916.63" stroke="#3535bc" stroke-width="1.0" stroke-opacity="0.75" fill="none"/><path d="M917.19 441.49V455.59M914.29 441.49H920.09M914.29 455.59H920.09" stroke="#3535bc" stroke-width="1.0" stroke-opacity="0.75" fill="none"/><path d="M920.65 430.10V461.01M917.75 430.10H923.55M917.75 461.01H923.55" stroke="#3535bc" stroke-width="1.0" stroke-opacity="0.75" fill="none"/><path d="M924.11 432.27V458.85M921.21 432.27H927.01M921.21 458.85H927.01" stroke="#3535bc" stroke-width="1.0" stroke-opacity="0.75" fill="none"/><path d="M927.57 434.98V453.42M924.67 434.98H930.47M924.67 453.42H930.47" stroke="#3535bc" stroke-width="1.0" stroke-opacity="0.75" fill="none"/><path d="M931.03 443.12V457.76M928.13 443.12H933.93M928.13 457.76H933.93" stroke="#3535bc" stroke-width="1.0" stroke-opacity="0.75" fill="none"/><path d="M934.49 443.12V455.59M931.59 443.12H937.39M931.59 455.59H937.39" stroke="#3535bc" stroke-width="1.0" stroke-opacity="0.75" fill="none"/><path d="M937.95 437.15V457.76M935.05 437.15H940.85M935.05 457.76H940.85" stroke="#3535bc" stroke-width="1.0" stroke-opacity="0.75" fill="none"/><path d="M941.41 458.85V472.40M938.51 458.85H944.31M938.51 472.40H944.31" stroke="#3535bc" stroke-width="1.0" stroke-opacity="0.75" fill="none"/><path d="M944.87 423.59V433.35M941.97 423.59H947.77M941.97 433.35H947.77" stroke="#3535bc" stroke-width="1.0" stroke-opacity="0.75" fill="none"/><path d="M948.33 412.74V442.03M945.43 412.74H951.23M945.43 442.03H951.23" stroke="#3535bc" stroke-width="1.0" stroke-opacity="0.75" fill="none"/><path d="M951.79 418.71V464.81M948.89 418.71H954.69M948.89 464.81H954.69" stroke="#3535bc" stroke-width="1.0" stroke-opacity="0.75" fill="none"/><path d="M955.25 404.61V457.22M952.35 404.61H958.15M952.35 457.22H958.15" stroke="#3535bc" stroke-width="1.0" stroke-opacity="0.75" fill="none"/><path d="M958.71 436.61V462.64M955.81 436.61H961.61M955.81 462.64H961.61" stroke="#3535bc" stroke-width="1.0" stroke-opacity="0.75" fill="none"/><circle cx="820.30" cy="445.83" r="2.5" fill="#0a0ae6"/><circle cx="823.77" cy="435.52" r="2.5" fill="#0a0ae6"/><circle cx="827.23" cy="469.69" r="2.5" fill="#0a0ae6"/><circle cx="830.69" cy="443.12" r="2.5" fill="#0a0ae6"/><circle cx="834.15" cy="460.47" r="2.5" fill="#0a0ae6"/><circle cx="837.61" cy="439.86" r="2.5" fill="#0a0ae6"/><circle cx="841.07" cy="410.03" r="2.5" fill="#0a0ae6"/><circle cx="844.53" cy="428.47" r="2.5" fill="#0a0ae6"/><circle cx="847.99" cy="438.78" r="2.5" fill="#0a0ae6"/><circle cx="851.45" cy="477.83" r="2.5" fill="#0a0ae6"/><circle cx="854.91" cy="430.64" r="2.5" fill="#0a0ae6"/><circle cx="858.37" cy="461.01" r="2.5" fill="#0a0ae6"/><circle cx="861.83" cy="442.57" r="2.5" fill="#0a0ae6"/><circle cx="865.29" cy="442.57" r="2.5" fill="#0a0ae6"/><circle cx="868.75" cy="421.97" r="2.5" fill="#0a0ae6"/><circle cx="872.21" cy="444.74" r="2.5" fill="#0a0ae6"/><circle cx="875.67" cy="443.12" r="2.5" fill="#0a0ae6"/><circle cx="879.13" cy="442.57" r="2.5" fill="#0a0ae6"/><circle cx="882.59" cy="447.46" r="2.5" fill="#0a0ae6"/><circle cx="886.05" cy="475.12" r="2.5" fill="#0a0ae6"/><circle cx="889.51" cy="433.90" r="2.5" fill="#0a0ae6"/><circle cx="892.97" cy="474.03" r="2.5" fill="#0a0ae6"/><circle cx="896.43" cy="462.10" r="2.5" fill="#0a0ae6"/><circle cx="899.89" cy="461.56" r="2.5" fill="#0a0ae6"/><circle cx="903.35" cy="455.59" r="2.5" fill="#0a0ae6"/><circle cx="906.81" cy="457.76" r="2.5" fill="#0a0ae6"/><circle cx="910.27" cy="437.15" r="2.5" fill="#0a0ae6"/><circle cx="913.73" cy="435.52" r="2.5" fill="#0a0ae6"/><circle cx="917.19" cy="448.54" r="2.5" fill="#0a0ae6"/><circle cx="920.65" cy="445.29" r="2.5" fill="#0a0ae6"/><circle cx="924.11" cy="445.29" r="2.5" fill="#0a0ae6"/><circle cx="927.57" cy="444.20" r="2.5" fill="#0a0ae6"/><circle cx="931.03" cy="450.17" r="2.5" fill="#0a0ae6"/><circle cx="934.49" cy="449.08" r="2.5" fill="#0a0ae6"/><circle cx="937.95" cy="447.46" r="2.5" fill="#0a0ae6"/><circle cx="941.41" cy="465.35" r="2.5" fill="#0a0ae6"/><circle cx="944.87" cy="428.47" r="2.5" fill="#0a0ae6"/><circle cx="948.33" cy="427.39" r="2.5" fill="#0a0ae6"/><circle cx="951.79" cy="441.49" r="2.5" fill="#0a0ae6"/><circle cx="955.25" cy="430.64" r="2.5" fill="#0a0ae6"/><circle cx="958.71" cy="449.63" r="2.5" fill="#0a0ae6"/><path d="M1013.68 425.22V446.37M1010.78 425.22H1016.58M1010.78 446.37H1016.58" stroke="#de3838" stroke-width="1.0" stroke-opacity="0.75" fill="none"/><path d="M1017.14 429.56V452.88M1014.24 429.56H1020.04M1014.24 452.88H1020.04" stroke="#de3838" stroke-width="1.0" stroke-opacity="0.75" fill="none"/><path d="M1020.60 434.44V463.73M1017.70 434.44H1023.50M1017.70 463.73H1023.50" stroke="#de3838" stroke-width="1.0" stroke-opacity="0.75" fill="none"/><path d="M1024.06 480.54V489.22M1021.16 480.54H1026.96M1021.16 489.22H1026.96" stroke="#de3838" stroke-width="1.0" stroke-opacity="0.75" fill="none"/><path d="M1027.52 420.34V456.13M1024.62 420.34H1030.42M1024.62 456.13H1030.42" stroke="#de3838" stroke-width="1.0" stroke-opacity="0.75" fill="none"/><path d="M1030.98 440.95V493.56M1028.08 440.95H1033.88M1028.08 493.56H1033.88" stroke="#de3838" stroke-width="1.0" stroke-opacity="0.75" fill="none"/><path d="M1034.44 424.13V474.03M1031.54 424.13H1037.34M1031.54 474.03H1037.34" stroke="#de3838" stroke-width="1.0" stroke-opacity="0.75" fill="none"/><path d="M1037.90 431.73V453.96M1035.00 431.73H1040.80M1035.00 453.96H1040.80" stroke="#de3838" stroke-width="1.0" stroke-opacity="0.75" fill="none"/><path d="M1041.36 449.08V464.27M1038.46 449.08H1044.26M1038.46 464.27H1044.26" stroke="#de3838" stroke-width="1.0" stroke-opacity="0.75" fill="none"/><path d="M1044.82 412.74V453.42M1041.92 412.74H1047.72M1041.92 453.42H1047.72" stroke="#de3838" stroke-width="1.0" stroke-opacity="0.75" fill="none"/><path d="M1048.28 429.56V445.83M1045.38 429.56H1051.18M1045.38 445.83H1051.18" stroke="#de3838" stroke-width="1.0" stroke-opacity="0.75" fill="none"/><path d="M1051.74 433.35V456.68M1048.84 433.35H1054.64M1048.84 456.68H1054.64" stroke="#de3838" stroke-width="1.0" stroke-opacity="0.75" fill="none"/><path d="M1055.20 428.47V469.69M1052.30 428.47H1058.10M1052.30 469.69H1058.10" stroke="#de3838" stroke-width="1.0" stroke-opacity="0.75" fill="none"/><path d="M1058.66 422.51V462.10M1055.76 422.51H1061.56M1055.76 462.10H1061.56" stroke="#de3838" stroke-width="1.0" stroke-opacity="0.75" fill="none"/><path d="M1062.12 444.20V472.40M1059.22 444.20H1065.02M1059.22 472.40H1065.02" stroke="#de3838" stroke-width="1.0" stroke-opacity="0.75" fill="none"/><path d="M1065.58 425.76V453.96M1062.68 425.76H1068.48M1062.68 453.96H1068.48" stroke="#de3838" stroke-width="1.0" stroke-opacity="0.75" fill="none"/><path d="M1069.04 438.78V464.27M1066.14 438.78H1071.94M1066.14 464.27H1071.94" stroke="#de3838" stroke-width="1.0" stroke-opacity="0.75" fill="none"/><path d="M1072.50 435.52V447.46M1069.60 435.52H1075.40M1069.60 447.46H1075.40" stroke="#de3838" stroke-width="1.0" stroke-opacity="0.75" fill="none"/><path d="M1075.96 421.42V458.30M1073.06 421.42H1078.86M1073.06 458.30H1078.86" stroke="#de3838" stroke-width="1.0" stroke-opacity="0.75" fill="none"/><path d="M1079.42 411.12V436.61M1076.52 411.12H1082.32M1076.52 436.61H1082.32" stroke="#de3838" stroke-width="1.0" stroke-opacity="0.75" fill="none"/><path d="M1082.88 418.71V464.81M1079.98 418.71H1085.78M1079.98 464.81H1085.78" stroke="#de3838" stroke-width="1.0" stroke-opacity="0.75" fill="none"/><path d="M1086.34 410.03V439.32M1083.44 410.03H1089.24M1083.44 439.32H1089.24" stroke="#de3838" stroke-width="1.0" stroke-opacity="0.75" fill="none"/><path d="M1089.80 415.46V453.42M1086.90 415.46H1092.70M1086.90 453.42H1092.70" stroke="#de3838" stroke-width="1.0" stroke-opacity="0.75" fill="none"/><path d="M1093.26 418.17V450.71M1090.36 418.17H1096.16M1090.36 450.71H1096.16" stroke="#de3838" stroke-width="1.0" stroke-opacity="0.75" fill="none"/><path d="M1096.72 398.10V406.78M1093.82 398.10H1099.62M1093.82 406.78H1099.62" stroke="#de3838" stroke-width="1.0" stroke-opacity="0.75" fill="none"/><path d="M1100.18 423.59V447.46M1097.28 423.59H1103.08M1097.28 447.46H1103.08" stroke="#de3838" stroke-width="1.0" stroke-opacity="0.75" fill="none"/><path d="M1103.64 423.05V448.00M1100.74 423.05H1106.54M1100.74 448.00H1106.54" stroke="#de3838" stroke-width="1.0" stroke-opacity="0.75" fill="none"/><path d="M1107.10 402.98V455.05M1104.20 402.98H1110.00M1104.20 455.05H1110.00" stroke="#de3838" stroke-width="1.0" stroke-opacity="0.75" fill="none"/><path d="M1110.56 388.88V455.05M1107.66 388.88H1113.46M1107.66 455.05H1113.46" stroke="#de3838" stroke-width="1.0" stroke-opacity="0.75" fill="none"/><path d="M1114.02 414.37V443.12M1111.12 414.37H1116.92M1111.12 443.12H1116.92" stroke="#de3838" stroke-width="1.0" stroke-opacity="0.75" fill="none"/><path d="M1117.49 433.35V469.15M1114.59 433.35H1120.39M1114.59 469.15H1120.39" stroke="#de3838" stroke-width="1.0" stroke-opacity="0.75" fill="none"/><path d="M1120.95 405.69V456.68M1118.05 405.69H1123.85M1118.05 456.68H1123.85" stroke="#de3838" stroke-width="1.0" stroke-opacity="0.75" fill="none"/><path d="M1124.41 417.08V458.30M1121.51 417.08H1127.31M1121.51 458.30H1127.31" stroke="#de3838" stroke-width="1.0" stroke-opacity="0.75" fill="none"/><path d="M1127.87 419.25V444.20M1124.97 419.25H1130.77M1124.97 444.20H1130.77" stroke="#de3838" stroke-width="1.0" stroke-opacity="0.75" fill="none"/><path d="M1131.33 431.19V455.05M1128.43 431.19H1134.23M1128.43 455.05H1134.23" stroke="#de3838" stroke-width="1.0" stroke-opacity="0.75" fill="none"/><path d="M1134.79 413.29V427.39M1131.89 413.29H1137.69M1131.89 427.39H1137.69" stroke="#de3838" stroke-width="1.0" stroke-opacity="0.75" fill="none"/><path d="M1138.25 405.15V456.13M1135.35 405.15H1141.15M1135.35 456.13H1141.15" stroke="#de3838" stroke-width="1.0" stroke-opacity="0.75" fill="none"/><path d="M1141.71 398.10V464.81M1138.81 398.10H1144.61M1138.81 464.81H1144.61" stroke="#de3838" stroke-width="1.0" stroke-opacity="0.75" fill="none"/><path d="M1145.17 444.20V484.34M1142.27 444.20H1148.07M1142.27 484.34H1148.07" stroke="#de3838" stroke-width="1.0" stroke-opacity="0.75" fill="none"/><path d="M1148.63 392.68V452.34M1145.73 392.68H1151.53M1145.73 452.34H1151.53" stroke="#de3838" stroke-width="1.0" stroke-opacity="0.75" fill="none"/><path d="M1152.09 404.07V413.83M1149.19 404.07H1154.99M1149.19 413.83H1154.99" stroke="#de3838" stroke-width="1.0" stroke-opacity="0.75" fill="none"/><circle cx="1013.68" cy="435.52" r="2.5" fill="#ea0a0a"/><circle cx="1017.14" cy="440.95" r="2.5" fill="#ea0a0a"/><circle cx="1020.60" cy="449.08" r="2.5" fill="#ea0a0a"/><circle cx="1024.06" cy="484.88" r="2.5" fill="#ea0a0a"/><circle cx="1027.52" cy="438.24" r="2.5" fill="#ea0a0a"/><circle cx="1030.98" cy="466.98" r="2.5" fill="#ea0a0a"/><circle cx="1034.44" cy="449.08" r="2.5" fill="#ea0a0a"/><circle cx="1037.90" cy="443.12" r="2.5" fill="#ea0a0a"/><circle cx="1041.36" cy="456.13" r="2.5" fill="#ea0a0a"/><circle cx="1044.82" cy="433.35" r="2.5" fill="#ea0a0a"/><circle cx="1048.28" cy="437.69" r="2.5" fill="#ea0a0a"/><circle cx="1051.74" cy="445.29" r="2.5" fill="#ea0a0a"/><circle cx="1055.20" cy="449.08" r="2.5" fill="#ea0a0a"/><circle cx="1058.66" cy="442.57" r="2.5" fill="#ea0a0a"/><circle cx="1062.12" cy="458.30" r="2.5" fill="#ea0a0a"/><circle cx="1065.58" cy="439.86" r="2.5" fill="#ea0a0a"/><circle cx="1069.04" cy="451.25" r="2.5" fill="#ea0a0a"/><circle cx="1072.50" cy="441.49" r="2.5" fill="#ea0a0a"/><circle cx="1075.96" cy="439.86" r="2.5" fill="#ea0a0a"/><circle cx="1079.42" cy="423.59" r="2.5" fill="#ea0a0a"/><circle cx="1082.88" cy="442.03" r="2.5" fill="#ea0a0a"/><circle cx="1086.34" cy="424.68" r="2.5" fill="#ea0a0a"/><circle cx="1089.80" cy="434.44" r="2.5" fill="#ea0a0a"/><circle cx="1093.26" cy="434.44" r="2.5" fill="#ea0a0a"/><circle cx="1096.72" cy="402.44" r="2.5" fill="#ea0a0a"/><circle cx="1100.18" cy="435.52" r="2.5" fill="#ea0a0a"/><circle cx="1103.64" cy="435.52" r="2.5" fill="#ea0a0a"/><circle cx="1107.10" cy="429.02" r="2.5" fill="#ea0a0a"/><circle cx="1110.56" cy="421.97" r="2.5" fill="#ea0a0a"/><circle cx="1114.02" cy="428.47" r="2.5" fill="#ea0a0a"/><circle cx="1117.49" cy="451.25" r="2.5" fill="#ea0a0a"/><circle cx="1120.95" cy="431.19" r="2.5" fill="#ea0a0a"/><circle cx="1124.41" cy="437.69" r="2.5" fill="#ea0a0a"/><circle cx="1127.87" cy="431.73" r="2.5" fill="#ea0a0a"/><circle cx="1131.33" cy="443.12" r="2.5" fill="#ea0a0a"/><circle cx="1134.79" cy="420.34" r="2.5" fill="#ea0a0a"/><circle cx="1138.25" cy="430.64" r="2.5" fill="#ea0a0a"/><circle cx="1141.71" cy="431.73" r="2.5" fill="#ea0a0a"/><circle cx="1145.17" cy="464.27" r="2.5" fill="#ea0a0a"/><circle cx="1148.63" cy="422.51" r="2.5" fill="#ea0a0a"/><circle cx="1152.09" cy="408.95" r="2.5" fill="#ea0a0a"/></g><g clip-path="url(#k6)"><path d="M120.50 784.47V826.21M116.80 784.47H124.20M116.80 826.21H124.20" stroke="#3535bc" stroke-width="1.25" stroke-opacity="0.85" fill="none"/><path d="M125.72 786.02V826.21M122.02 786.02H129.42M122.02 826.21H129.42" stroke="#3535bc" stroke-width="1.25" stroke-opacity="0.85" fill="none"/><path d="M130.94 755.10V813.84M127.24 755.10H134.64M127.24 813.84H134.64" stroke="#3535bc" stroke-width="1.25" stroke-opacity="0.85" fill="none"/><path d="M136.15 773.65V792.97M132.45 773.65H139.85M132.45 792.97H139.85" stroke="#3535bc" stroke-width="1.25" stroke-opacity="0.85" fill="none"/><path d="M141.37 793.75V840.12M137.67 793.75H145.07M137.67 840.12H145.07" stroke="#3535bc" stroke-width="1.25" stroke-opacity="0.85" fill="none"/><path d="M146.59 760.51V766.69M142.89 760.51H150.29M142.89 766.69H150.29" stroke="#3535bc" stroke-width="1.25" stroke-opacity="0.85" fill="none"/><path d="M151.81 776.74V801.48M148.11 776.74H155.51M148.11 801.48H155.51" stroke="#3535bc" stroke-width="1.25" stroke-opacity="0.85" fill="none"/><path d="M157.02 765.92V798.38M153.32 765.92H160.72M153.32 798.38H160.72" stroke="#3535bc" stroke-width="1.25" stroke-opacity="0.85" fill="none"/><path d="M162.24 773.65V808.43M158.54 773.65H165.94M158.54 808.43H165.94" stroke="#3535bc" stroke-width="1.25" stroke-opacity="0.85" fill="none"/><path d="M167.46 767.47V786.02M163.76 767.47H171.16M163.76 786.02H171.16" stroke="#3535bc" stroke-width="1.25" stroke-opacity="0.85" fill="none"/><path d="M172.67 782.93V801.48M168.97 782.93H176.37M168.97 801.48H176.37" stroke="#3535bc" stroke-width="1.25" stroke-opacity="0.85" fill="none"/><path d="M177.89 765.92V781.38M174.19 765.92H181.59M174.19 781.38H181.59" stroke="#3535bc" stroke-width="1.25" stroke-opacity="0.85" fill="none"/><path d="M183.11 789.88V820.03M179.41 789.88H186.81M179.41 820.03H186.81" stroke="#3535bc" stroke-width="1.25" stroke-opacity="0.85" fill="none"/><path d="M188.33 792.20V807.66M184.63 792.20H192.03M184.63 807.66H192.03" stroke="#3535bc" stroke-width="1.25" stroke-opacity="0.85" fill="none"/><path d="M193.54 754.33V787.56M189.84 754.33H197.24M189.84 787.56H197.24" stroke="#3535bc" stroke-width="1.25" stroke-opacity="0.85" fill="none"/><path d="M198.76 759.74V781.38M195.06 759.74H202.46M195.06 781.38H202.46" stroke="#3535bc" stroke-width="1.25" stroke-opacity="0.85" fill="none"/><path d="M203.98 760.51V780.61M200.28 760.51H207.68M200.28 780.61H207.68" stroke="#3535bc" stroke-width="1.25" stroke-opacity="0.85" fill="none"/><path d="M209.19 752.01V772.10M205.49 752.01H212.89M205.49 772.10H212.89" stroke="#3535bc" stroke-width="1.25" stroke-opacity="0.85" fill="none"/><path d="M214.41 726.50V750.46M210.71 726.50H218.11M210.71 750.46H218.11" stroke="#3535bc" stroke-width="1.25" stroke-opacity="0.85" fill="none"/><path d="M219.63 718.00V741.19M215.93 718.00H223.33M215.93 741.19H223.33" stroke="#3535bc" stroke-width="1.25" stroke-opacity="0.85" fill="none"/><path d="M224.85 724.18V762.83M221.15 724.18H228.55M221.15 762.83H228.55" stroke="#3535bc" stroke-width="1.25" stroke-opacity="0.85" fill="none"/><path d="M230.06 733.46V747.37M226.36 733.46H233.76M226.36 747.37H233.76" stroke="#3535bc" stroke-width="1.25" stroke-opacity="0.85" fill="none"/><path d="M235.28 737.32V767.47M231.58 737.32H238.98M231.58 767.47H238.98" stroke="#3535bc" stroke-width="1.25" stroke-opacity="0.85" fill="none"/><path d="M240.50 761.28V801.48M236.80 761.28H244.20M236.80 801.48H244.20" stroke="#3535bc" stroke-width="1.25" stroke-opacity="0.85" fill="none"/><path d="M245.71 753.55V781.38M242.01 753.55H249.41M242.01 781.38H249.41" stroke="#3535bc" stroke-width="1.25" stroke-opacity="0.85" fill="none"/><path d="M250.93 758.96V778.29M247.23 758.96H254.63M247.23 778.29H254.63" stroke="#3535bc" stroke-width="1.25" stroke-opacity="0.85" fill="none"/><path d="M256.15 763.60V784.47M252.45 763.60H259.85M252.45 784.47H259.85" stroke="#3535bc" stroke-width="1.25" stroke-opacity="0.85" fill="none"/><path d="M261.37 768.24V787.56M257.67 768.24H265.07M257.67 787.56H265.07" stroke="#3535bc" stroke-width="1.25" stroke-opacity="0.85" fill="none"/><path d="M266.58 758.19V795.29M262.88 758.19H270.28M262.88 795.29H270.28" stroke="#3535bc" stroke-width="1.25" stroke-opacity="0.85" fill="none"/><path d="M271.80 757.42V769.79M268.10 757.42H275.50M268.10 769.79H275.50" stroke="#3535bc" stroke-width="1.25" stroke-opacity="0.85" fill="none"/><path d="M277.02 771.33V787.56M273.32 771.33H280.72M273.32 787.56H280.72" stroke="#3535bc" stroke-width="1.25" stroke-opacity="0.85" fill="none"/><path d="M282.23 765.92V779.83M278.53 765.92H285.93M278.53 779.83H285.93" stroke="#3535bc" stroke-width="1.25" stroke-opacity="0.85" fill="none"/><path d="M287.45 750.46V764.38M283.75 750.46H291.15M283.75 764.38H291.15" stroke="#3535bc" stroke-width="1.25" stroke-opacity="0.85" fill="none"/><path d="M292.67 718.00V726.50M288.97 718.00H296.37M288.97 726.50H296.37" stroke="#3535bc" stroke-width="1.25" stroke-opacity="0.85" fill="none"/><path d="M297.89 755.87V787.56M294.19 755.87H301.59M294.19 787.56H301.59" stroke="#3535bc" stroke-width="1.25" stroke-opacity="0.85" fill="none"/><path d="M303.10 789.11V816.93M299.40 789.11H306.80M299.40 816.93H306.80" stroke="#3535bc" stroke-width="1.25" stroke-opacity="0.85" fill="none"/><path d="M308.32 772.10V804.57M304.62 772.10H312.02M304.62 804.57H312.02" stroke="#3535bc" stroke-width="1.25" stroke-opacity="0.85" fill="none"/><path d="M313.54 784.47V803.79M309.84 784.47H317.24M309.84 803.79H317.24" stroke="#3535bc" stroke-width="1.25" stroke-opacity="0.85" fill="none"/><path d="M318.76 760.51V788.34M315.06 760.51H322.46M315.06 788.34H322.46" stroke="#3535bc" stroke-width="1.25" stroke-opacity="0.85" fill="none"/><path d="M323.97 779.83V801.48M320.27 779.83H327.67M320.27 801.48H327.67" stroke="#3535bc" stroke-width="1.25" stroke-opacity="0.85" fill="none"/><path d="M329.19 802.25V816.16M325.49 802.25H332.89M325.49 816.16H332.89" stroke="#3535bc" stroke-width="1.25" stroke-opacity="0.85" fill="none"/><circle cx="120.50" cy="805.34" r="2.75" fill="#0a0ae6"/><circle cx="125.72" cy="804.57" r="2.75" fill="#0a0ae6"/><circle cx="130.94" cy="784.16" r="2.75" fill="#0a0ae6"/><circle cx="136.15" cy="782.93" r="2.75" fill="#0a0ae6"/><circle cx="141.37" cy="816.93" r="2.75" fill="#0a0ae6"/><circle cx="146.59" cy="763.60" r="2.75" fill="#0a0ae6"/><circle cx="151.81" cy="789.11" r="2.75" fill="#0a0ae6"/><circle cx="157.02" cy="781.38" r="2.75" fill="#0a0ae6"/><circle cx="162.24" cy="790.65" r="2.75" fill="#0a0ae6"/><circle cx="167.46" cy="776.74" r="2.75" fill="#0a0ae6"/><circle cx="172.67" cy="792.20" r="2.75" fill="#0a0ae6"/><circle cx="177.89" cy="773.65" r="2.75" fill="#0a0ae6"/><circle cx="183.11" cy="804.57" r="2.75" fill="#0a0ae6"/><circle cx="188.33" cy="799.93" r="2.75" fill="#0a0ae6"/><circle cx="193.54" cy="771.33" r="2.75" fill="#0a0ae6"/><circle cx="198.76" cy="770.56" r="2.75" fill="#0a0ae6"/><circle cx="203.98" cy="770.56" r="2.75" fill="#0a0ae6"/><circle cx="209.19" cy="762.06" r="2.75" fill="#0a0ae6"/><circle cx="214.41" cy="738.10" r="2.75" fill="#0a0ae6"/><circle cx="219.63" cy="728.82" r="2.75" fill="#0a0ae6"/><circle cx="224.85" cy="741.19" r="2.75" fill="#0a0ae6"/><circle cx="230.06" cy="740.41" r="2.75" fill="#0a0ae6"/><circle cx="235.28" cy="752.78" r="2.75" fill="#0a0ae6"/><circle cx="240.50" cy="780.61" r="2.75" fill="#0a0ae6"/><circle cx="245.71" cy="767.47" r="2.75" fill="#0a0ae6"/><circle cx="250.93" cy="769.01" r="2.75" fill="#0a0ae6"/><circle cx="256.15" cy="774.42" r="2.75" fill="#0a0ae6"/><circle cx="261.37" cy="777.51" r="2.75" fill="#0a0ae6"/><circle cx="266.58" cy="776.74" r="2.75" fill="#0a0ae6"/><circle cx="271.80" cy="763.60" r="2.75" fill="#0a0ae6"/><circle cx="277.02" cy="779.06" r="2.75" fill="#0a0ae6"/><circle cx="282.23" cy="772.88" r="2.75" fill="#0a0ae6"/><circle cx="287.45" cy="757.42" r="2.75" fill="#0a0ae6"/><circle cx="292.67" cy="720.32" r="2.75" fill="#0a0ae6"/><circle cx="297.89" cy="771.33" r="2.75" fill="#0a0ae6"/><circle cx="303.10" cy="803.79" r="2.75" fill="#0a0ae6"/><circle cx="308.32" cy="788.34" r="2.75" fill="#0a0ae6"/><circle cx="313.54" cy="793.75" r="2.75" fill="#0a0ae6"/><circle cx="318.76" cy="774.42" r="2.75" fill="#0a0ae6"/><circle cx="323.97" cy="790.65" r="2.75" fill="#0a0ae6"/><circle cx="329.19" cy="809.20" r="2.75" fill="#0a0ae6"/><path d="M120.50 798.38V813.84M116.80 798.38H124.20M116.80 813.84H124.20" stroke="#de3838" stroke-width="1.25" stroke-opacity="0.85" fill="none"/><path d="M125.72 813.84V836.26M122.02 813.84H129.42M122.02 836.26H129.42" stroke="#de3838" stroke-width="1.25" stroke-opacity="0.85" fill="none"/><path d="M130.94 727.28V755.10M127.24 727.28H134.64M127.24 755.10H134.64" stroke="#de3838" stroke-width="1.25" stroke-opacity="0.85" fill="none"/><path d="M136.15 778.29V792.20M132.45 778.29H139.85M132.45 792.20H139.85" stroke="#de3838" stroke-width="1.25" stroke-opacity="0.85" fill="none"/><path d="M141.37 811.52V817.71M137.67 811.52H145.07M137.67 817.71H145.07" stroke="#de3838" stroke-width="1.25" stroke-opacity="0.85" fill="none"/><path d="M146.59 750.46V761.28M142.89 750.46H150.29M142.89 761.28H150.29" stroke="#de3838" stroke-width="1.25" stroke-opacity="0.85" fill="none"/><path d="M151.81 813.07V817.71M148.11 813.07H155.51M148.11 817.71H155.51" stroke="#de3838" stroke-width="1.25" stroke-opacity="0.85" fill="none"/><path d="M157.02 766.69V803.79M153.32 766.69H160.72M153.32 803.79H160.72" stroke="#de3838" stroke-width="1.25" stroke-opacity="0.85" fill="none"/><path d="M162.24 748.14V799.16M158.54 748.14H165.94M158.54 799.16H165.94" stroke="#de3838" stroke-width="1.25" stroke-opacity="0.85" fill="none"/><path d="M167.46 786.02V801.48M163.76 786.02H171.16M163.76 801.48H171.16" stroke="#de3838" stroke-width="1.25" stroke-opacity="0.85" fill="none"/><path d="M172.67 814.61V839.35M168.97 814.61H176.37M168.97 839.35H176.37" stroke="#de3838" stroke-width="1.25" stroke-opacity="0.85" fill="none"/><path d="M177.89 780.61V794.52M174.19 780.61H181.59M174.19 794.52H181.59" stroke="#de3838" stroke-width="1.25" stroke-opacity="0.85" fill="none"/><path d="M183.11 781.38V809.20M179.41 781.38H186.81M179.41 809.20H186.81" stroke="#de3838" stroke-width="1.25" stroke-opacity="0.85" fill="none"/><path d="M188.33 792.97V814.61M184.63 792.97H192.03M184.63 814.61H192.03" stroke="#de3838" stroke-width="1.25" stroke-opacity="0.85" fill="none"/><path d="M193.54 795.29V801.48M189.84 795.29H197.24M189.84 801.48H197.24" stroke="#de3838" stroke-width="1.25" stroke-opacity="0.85" fill="none"/><path d="M198.76 779.06V809.98M195.06 779.06H202.46M195.06 809.98H202.46" stroke="#de3838" stroke-width="1.25" stroke-opacity="0.85" fill="none"/><path d="M203.98 752.01V773.65M200.28 752.01H207.68M200.28 773.65H207.68" stroke="#de3838" stroke-width="1.25" stroke-opacity="0.85" fill="none"/><path d="M209.19 762.06V772.88M205.49 762.06H212.89M205.49 772.88H212.89" stroke="#de3838" stroke-width="1.25" stroke-opacity="0.85" fill="none"/><path d="M214.41 739.64V767.47M210.71 739.64H218.11M210.71 767.47H218.11" stroke="#de3838" stroke-width="1.25" stroke-opacity="0.85" fill="none"/><path d="M219.63 739.64V756.65M215.93 739.64H223.33M215.93 756.65H223.33" stroke="#de3838" stroke-width="1.25" stroke-opacity="0.85" fill="none"/><path d="M224.85 735.00V750.46M221.15 735.00H228.55M221.15 750.46H228.55" stroke="#de3838" stroke-width="1.25" stroke-opacity="0.85" fill="none"/><path d="M230.06 735.00V768.24M226.36 735.00H233.76M226.36 768.24H233.76" stroke="#de3838" stroke-width="1.25" stroke-opacity="0.85" fill="none"/><path d="M235.28 730.37V752.01M231.58 730.37H238.98M231.58 752.01H238.98" stroke="#de3838" stroke-width="1.25" stroke-opacity="0.85" fill="none"/><path d="M240.50 759.74V776.74M236.80 759.74H244.20M236.80 776.74H244.20" stroke="#de3838" stroke-width="1.25" stroke-opacity="0.85" fill="none"/><path d="M245.71 757.42V794.52M242.01 757.42H249.41M242.01 794.52H249.41" stroke="#de3838" stroke-width="1.25" stroke-opacity="0.85" fill="none"/><path d="M250.93 758.96V777.51M247.23 758.96H254.63M247.23 777.51H254.63" stroke="#de3838" stroke-width="1.25" stroke-opacity="0.85" fill="none"/><path d="M256.15 787.56V799.93M252.45 787.56H259.85M252.45 799.93H259.85" stroke="#de3838" stroke-width="1.25" stroke-opacity="0.85" fill="none"/><path d="M261.37 778.29V789.11M257.67 778.29H265.07M257.67 789.11H265.07" stroke="#de3838" stroke-width="1.25" stroke-opacity="0.85" fill="none"/><path d="M266.58 782.93V803.02M262.88 782.93H270.28M262.88 803.02H270.28" stroke="#de3838" stroke-width="1.25" stroke-opacity="0.85" fill="none"/><path d="M271.80 782.93V804.57M268.10 782.93H275.50M268.10 804.57H275.50" stroke="#de3838" stroke-width="1.25" stroke-opacity="0.85" fill="none"/><path d="M277.02 778.29V782.93M273.32 778.29H280.72M273.32 782.93H280.72" stroke="#de3838" stroke-width="1.25" stroke-opacity="0.85" fill="none"/><path d="M282.23 786.02V808.43M278.53 786.02H285.93M278.53 808.43H285.93" stroke="#de3838" stroke-width="1.25" stroke-opacity="0.85" fill="none"/><path d="M287.45 772.10V786.02M283.75 772.10H291.15M283.75 786.02H291.15" stroke="#de3838" stroke-width="1.25" stroke-opacity="0.85" fill="none"/><path d="M292.67 772.10V807.66M288.97 772.10H296.37M288.97 807.66H296.37" stroke="#de3838" stroke-width="1.25" stroke-opacity="0.85" fill="none"/><path d="M297.89 772.10V803.02M294.19 772.10H301.59M294.19 803.02H301.59" stroke="#de3838" stroke-width="1.25" stroke-opacity="0.85" fill="none"/><path d="M303.10 775.20V816.93M299.40 775.20H306.80M299.40 816.93H306.80" stroke="#de3838" stroke-width="1.25" stroke-opacity="0.85" fill="none"/><path d="M308.32 782.93V801.48M304.62 782.93H312.02M304.62 801.48H312.02" stroke="#de3838" stroke-width="1.25" stroke-opacity="0.85" fill="none"/><path d="M313.54 789.11V801.48M309.84 789.11H317.24M309.84 801.48H317.24" stroke="#de3838" stroke-width="1.25" stroke-opacity="0.85" fill="none"/><path d="M318.76 786.02V803.02M315.06 786.02H322.46M315.06 803.02H322.46" stroke="#de3838" stroke-width="1.25" stroke-opacity="0.85" fill="none"/><path d="M323.97 796.84V822.34M320.27 796.84H327.67M320.27 822.34H327.67" stroke="#de3838" stroke-width="1.25" stroke-opacity="0.85" fill="none"/><path d="M329.19 830.85V852.49M325.49 830.85H332.89M325.49 852.49H332.89" stroke="#de3838" stroke-width="1.25" stroke-opacity="0.85" fill="none"/><circle cx="120.50" cy="806.42" r="2.75" fill="#ea0a0a"/><circle cx="125.72" cy="824.66" r="2.75" fill="#ea0a0a"/><circle cx="130.94" cy="741.19" r="2.75" fill="#ea0a0a"/><circle cx="136.15" cy="785.24" r="2.75" fill="#ea0a0a"/><circle cx="141.37" cy="814.61" r="2.75" fill="#ea0a0a"/><circle cx="146.59" cy="755.87" r="2.75" fill="#ea0a0a"/><circle cx="151.81" cy="815.39" r="2.75" fill="#ea0a0a"/><circle cx="157.02" cy="785.24" r="2.75" fill="#ea0a0a"/><circle cx="162.24" cy="773.65" r="2.75" fill="#ea0a0a"/><circle cx="167.46" cy="793.75" r="2.75" fill="#ea0a0a"/><circle cx="172.67" cy="826.98" r="2.75" fill="#ea0a0a"/><circle cx="177.89" cy="787.56" r="2.75" fill="#ea0a0a"/><circle cx="183.11" cy="795.29" r="2.75" fill="#ea0a0a"/><circle cx="188.33" cy="803.79" r="2.75" fill="#ea0a0a"/><circle cx="193.54" cy="798.38" r="2.75" fill="#ea0a0a"/><circle cx="198.76" cy="794.52" r="2.75" fill="#ea0a0a"/><circle cx="203.98" cy="762.83" r="2.75" fill="#ea0a0a"/><circle cx="209.19" cy="767.47" r="2.75" fill="#ea0a0a"/><circle cx="214.41" cy="753.55" r="2.75" fill="#ea0a0a"/><circle cx="219.63" cy="748.14" r="2.75" fill="#ea0a0a"/><circle cx="224.85" cy="742.73" r="2.75" fill="#ea0a0a"/><circle cx="230.06" cy="751.24" r="2.75" fill="#ea0a0a"/><circle cx="235.28" cy="741.19" r="2.75" fill="#ea0a0a"/><circle cx="240.50" cy="768.24" r="2.75" fill="#ea0a0a"/><circle cx="245.71" cy="775.97" r="2.75" fill="#ea0a0a"/><circle cx="250.93" cy="768.24" r="2.75" fill="#ea0a0a"/><circle cx="256.15" cy="793.75" r="2.75" fill="#ea0a0a"/><circle cx="261.37" cy="783.70" r="2.75" fill="#ea0a0a"/><circle cx="266.58" cy="792.97" r="2.75" fill="#ea0a0a"/><circle cx="271.80" cy="793.75" r="2.75" fill="#ea0a0a"/><circle cx="277.02" cy="780.61" r="2.75" fill="#ea0a0a"/><circle cx="282.23" cy="798.38" r="2.75" fill="#ea0a0a"/><circle cx="287.45" cy="779.06" r="2.75" fill="#ea0a0a"/><circle cx="292.67" cy="789.88" r="2.75" fill="#ea0a0a"/><circle cx="297.89" cy="787.56" r="2.75" fill="#ea0a0a"/><circle cx="303.10" cy="796.06" r="2.75" fill="#ea0a0a"/><circle cx="308.32" cy="792.20" r="2.75" fill="#ea0a0a"/><circle cx="313.54" cy="795.29" r="2.75" fill="#ea0a0a"/><circle cx="318.76" cy="794.52" r="2.75" fill="#ea0a0a"/><circle cx="323.97" cy="809.20" r="2.75" fill="#ea0a0a"/><circle cx="329.19" cy="841.67" r="2.75" fill="#ea0a0a"/></g><g clip-path="url(#k7)"><path d="M346.50 731.91V768.24M342.80 731.91H350.20M342.80 768.24H350.20" stroke="#3535bc" stroke-width="1.25" stroke-opacity="0.85" fill="none"/><path d="M351.76 778.29V809.20M348.06 778.29H355.46M348.06 809.20H355.46" stroke="#3535bc" stroke-width="1.25" stroke-opacity="0.85" fill="none"/><path d="M357.01 731.14V784.47M353.31 731.14H360.71M353.31 784.47H360.71" stroke="#3535bc" stroke-width="1.25" stroke-opacity="0.85" fill="none"/><path d="M362.27 767.47V784.47M358.57 767.47H365.97M358.57 784.47H365.97" stroke="#3535bc" stroke-width="1.25" stroke-opacity="0.85" fill="none"/><path d="M367.53 733.46V771.33M363.83 733.46H371.23M363.83 771.33H371.23" stroke="#3535bc" stroke-width="1.25" stroke-opacity="0.85" fill="none"/><path d="M372.78 770.56V775.20M369.08 770.56H376.48M369.08 775.20H376.48" stroke="#3535bc" stroke-width="1.25" stroke-opacity="0.85" fill="none"/><path d="M378.04 752.01V773.65M374.34 752.01H381.74M374.34 773.65H381.74" stroke="#3535bc" stroke-width="1.25" stroke-opacity="0.85" fill="none"/><path d="M383.29 756.65V786.02M379.59 756.65H386.99M379.59 786.02H386.99" stroke="#3535bc" stroke-width="1.25" stroke-opacity="0.85" fill="none"/><path d="M388.55 756.65V787.56M384.85 756.65H392.25M384.85 787.56H392.25" stroke="#3535bc" stroke-width="1.25" stroke-opacity="0.85" fill="none"/><path d="M393.80 786.02V799.93M390.10 786.02H397.50M390.10 799.93H397.50" stroke="#3535bc" stroke-width="1.25" stroke-opacity="0.85" fill="none"/><path d="M399.06 799.93V814.61M395.36 799.93H402.76M395.36 814.61H402.76" stroke="#3535bc" stroke-width="1.25" stroke-opacity="0.85" fill="none"/><path d="M404.32 782.15V796.06M400.62 782.15H408.02M400.62 796.06H408.02" stroke="#3535bc" stroke-width="1.25" stroke-opacity="0.85" fill="none"/><path d="M409.57 787.56V816.93M405.87 787.56H413.27M405.87 816.93H413.27" stroke="#3535bc" stroke-width="1.25" stroke-opacity="0.85" fill="none"/><path d="M414.83 804.57V818.48M411.13 804.57H418.53M411.13 818.48H418.53" stroke="#3535bc" stroke-width="1.25" stroke-opacity="0.85" fill="none"/><path d="M420.08 801.48V831.62M416.38 801.48H423.78M416.38 831.62H423.78" stroke="#3535bc" stroke-width="1.25" stroke-opacity="0.85" fill="none"/><path d="M425.34 813.07V831.62M421.64 813.07H429.04M421.64 831.62H429.04" stroke="#3535bc" stroke-width="1.25" stroke-opacity="0.85" fill="none"/><path d="M430.60 824.66V840.89M426.90 824.66H434.30M426.90 840.89H434.30" stroke="#3535bc" stroke-width="1.25" stroke-opacity="0.85" fill="none"/><path d="M435.85 806.89V823.89M432.15 806.89H439.55M432.15 823.89H439.55" stroke="#3535bc" stroke-width="1.25" stroke-opacity="0.85" fill="none"/><path d="M441.11 797.61V819.25M437.41 797.61H444.81M437.41 819.25H444.81" stroke="#3535bc" stroke-width="1.25" stroke-opacity="0.85" fill="none"/><path d="M446.36 797.61V827.75M442.66 797.61H450.06M442.66 827.75H450.06" stroke="#3535bc" stroke-width="1.25" stroke-opacity="0.85" fill="none"/><path d="M451.62 784.47V818.48M447.92 784.47H455.32M447.92 818.48H455.32" stroke="#3535bc" stroke-width="1.25" stroke-opacity="0.85" fill="none"/><path d="M456.87 792.20V816.93M453.17 792.20H460.57M453.17 816.93H460.57" stroke="#3535bc" stroke-width="1.25" stroke-opacity="0.85" fill="none"/><path d="M462.13 780.61V806.89M458.43 780.61H465.83M458.43 806.89H465.83" stroke="#3535bc" stroke-width="1.25" stroke-opacity="0.85" fill="none"/><path d="M467.39 789.11V828.53M463.69 789.11H471.09M463.69 828.53H471.09" stroke="#3535bc" stroke-width="1.25" stroke-opacity="0.85" fill="none"/><path d="M472.64 791.43V817.71M468.94 791.43H476.34M468.94 817.71H476.34" stroke="#3535bc" stroke-width="1.25" stroke-opacity="0.85" fill="none"/><path d="M477.90 789.88V806.89M474.20 789.88H481.60M474.20 806.89H481.60" stroke="#3535bc" stroke-width="1.25" stroke-opacity="0.85" fill="none"/><path d="M483.15 798.38V816.16M479.45 798.38H486.85M479.45 816.16H486.85" stroke="#3535bc" stroke-width="1.25" stroke-opacity="0.85" fill="none"/><path d="M488.41 799.16V816.93M484.71 799.16H492.11M484.71 816.93H492.11" stroke="#3535bc" stroke-width="1.25" stroke-opacity="0.85" fill="none"/><path d="M493.67 772.10V804.57M489.97 772.10H497.37M489.97 804.57H497.37" stroke="#3535bc" stroke-width="1.25" stroke-opacity="0.85" fill="none"/><path d="M498.92 782.93V796.84M495.22 782.93H502.62M495.22 796.84H502.62" stroke="#3535bc" stroke-width="1.25" stroke-opacity="0.85" fill="none"/><path d="M504.18 773.65V787.56M500.48 773.65H507.88M500.48 787.56H507.88" stroke="#3535bc" stroke-width="1.25" stroke-opacity="0.85" fill="none"/><path d="M509.43 779.83V792.20M505.73 779.83H513.13M505.73 792.20H513.13" stroke="#3535bc" stroke-width="1.25" stroke-opacity="0.85" fill="none"/><path d="M514.69 767.47V779.83M510.99 767.47H518.39M510.99 779.83H518.39" stroke="#3535bc" stroke-width="1.25" stroke-opacity="0.85" fill="none"/><path d="M519.94 733.46V744.28M516.24 733.46H523.64M516.24 744.28H523.64" stroke="#3535bc" stroke-width="1.25" stroke-opacity="0.85" fill="none"/><path d="M525.20 820.03V846.30M521.50 820.03H528.90M521.50 846.30H528.90" stroke="#3535bc" stroke-width="1.25" stroke-opacity="0.85" fill="none"/><path d="M530.46 780.61V805.34M526.76 780.61H534.16M526.76 805.34H534.16" stroke="#3535bc" stroke-width="1.25" stroke-opacity="0.85" fill="none"/><path d="M535.71 792.97V822.34M532.01 792.97H539.41M532.01 822.34H539.41" stroke="#3535bc" stroke-width="1.25" stroke-opacity="0.85" fill="none"/><path d="M540.97 787.56V804.57M537.27 787.56H544.67M537.27 804.57H544.67" stroke="#3535bc" stroke-width="1.25" stroke-opacity="0.85" fill="none"/><path d="M546.22 803.02V826.21M542.52 803.02H549.92M542.52 826.21H549.92" stroke="#3535bc" stroke-width="1.25" stroke-opacity="0.85" fill="none"/><path d="M551.48 805.34V823.89M547.78 805.34H555.18M547.78 823.89H555.18" stroke="#3535bc" stroke-width="1.25" stroke-opacity="0.85" fill="none"/><path d="M556.74 810.75V821.57M553.04 810.75H560.44M553.04 821.57H560.44" stroke="#3535bc" stroke-width="1.25" stroke-opacity="0.85" fill="none"/><circle cx="346.50" cy="749.69" r="2.75" fill="#0a0ae6"/><circle cx="351.76" cy="793.75" r="2.75" fill="#0a0ae6"/><circle cx="357.01" cy="757.42" r="2.75" fill="#0a0ae6"/><circle cx="362.27" cy="775.97" r="2.75" fill="#0a0ae6"/><circle cx="367.53" cy="753.55" r="2.75" fill="#0a0ae6"/><circle cx="372.78" cy="772.88" r="2.75" fill="#0a0ae6"/><circle cx="378.04" cy="762.83" r="2.75" fill="#0a0ae6"/><circle cx="383.29" cy="771.33" r="2.75" fill="#0a0ae6"/><circle cx="388.55" cy="772.10" r="2.75" fill="#0a0ae6"/><circle cx="393.80" cy="792.97" r="2.75" fill="#0a0ae6"/><circle cx="399.06" cy="806.89" r="2.75" fill="#0a0ae6"/><circle cx="404.32" cy="789.11" r="2.75" fill="#0a0ae6"/><circle cx="409.57" cy="803.79" r="2.75" fill="#0a0ae6"/><circle cx="414.83" cy="811.52" r="2.75" fill="#0a0ae6"/><circle cx="420.08" cy="816.93" r="2.75" fill="#0a0ae6"/><circle cx="425.34" cy="822.34" r="2.75" fill="#0a0ae6"/><circle cx="430.60" cy="832.39" r="2.75" fill="#0a0ae6"/><circle cx="435.85" cy="815.39" r="2.75" fill="#0a0ae6"/><circle cx="441.11" cy="808.43" r="2.75" fill="#0a0ae6"/><circle cx="446.36" cy="812.30" r="2.75" fill="#0a0ae6"/><circle cx="451.62" cy="801.48" r="2.75" fill="#0a0ae6"/><circle cx="456.87" cy="804.57" r="2.75" fill="#0a0ae6"/><circle cx="462.13" cy="793.75" r="2.75" fill="#0a0ae6"/><circle cx="467.39" cy="809.20" r="2.75" fill="#0a0ae6"/><circle cx="472.64" cy="804.57" r="2.75" fill="#0a0ae6"/><circle cx="477.90" cy="798.38" r="2.75" fill="#0a0ae6"/><circle cx="483.15" cy="806.89" r="2.75" fill="#0a0ae6"/><circle cx="488.41" cy="808.43" r="2.75" fill="#0a0ae6"/><circle cx="493.67" cy="788.34" r="2.75" fill="#0a0ae6"/><circle cx="498.92" cy="789.88" r="2.75" fill="#0a0ae6"/><circle cx="504.18" cy="780.61" r="2.75" fill="#0a0ae6"/><circle cx="509.43" cy="786.02" r="2.75" fill="#0a0ae6"/><circle cx="514.69" cy="773.65" r="2.75" fill="#0a0ae6"/><circle cx="519.94" cy="738.87" r="2.75" fill="#0a0ae6"/><circle cx="525.20" cy="833.16" r="2.75" fill="#0a0ae6"/><circle cx="530.46" cy="792.97" r="2.75" fill="#0a0ae6"/><circle cx="535.71" cy="807.66" r="2.75" fill="#0a0ae6"/><circle cx="540.97" cy="796.06" r="2.75" fill="#0a0ae6"/><circle cx="546.22" cy="814.61" r="2.75" fill="#0a0ae6"/><circle cx="551.48" cy="814.61" r="2.75" fill="#0a0ae6"/><circle cx="556.74" cy="816.16" r="2.75" fill="#0a0ae6"/><path d="M346.50 740.41V752.78M342.80 740.41H350.20M342.80 752.78H350.20" stroke="#de3838" stroke-width="1.25" stroke-opacity="0.85" fill="none"/><path d="M351.76 777.51V797.61M348.06 777.51H355.46M348.06 797.61H355.46" stroke="#de3838" stroke-width="1.25" stroke-opacity="0.85" fill="none"/><path d="M357.01 751.24V775.97M353.31 751.24H360.71M353.31 775.97H360.71" stroke="#de3838" stroke-width="1.25" stroke-opacity="0.85" fill="none"/><path d="M362.27 767.47V773.65M358.57 767.47H365.97M358.57 773.65H365.97" stroke="#de3838" stroke-width="1.25" stroke-opacity="0.85" fill="none"/><path d="M367.53 751.24V765.15M363.83 751.24H371.23M363.83 765.15H371.23" stroke="#de3838" stroke-width="1.25" stroke-opacity="0.85" fill="none"/><path d="M372.78 748.92V758.19M369.08 748.92H376.48M369.08 758.19H376.48" stroke="#de3838" stroke-width="1.25" stroke-opacity="0.85" fill="none"/><path d="M378.04 782.15V786.79M374.34 782.15H381.74M374.34 786.79H381.74" stroke="#de3838" stroke-width="1.25" stroke-opacity="0.85" fill="none"/><path d="M383.29 758.96V791.43M379.59 758.96H386.99M379.59 791.43H386.99" stroke="#de3838" stroke-width="1.25" stroke-opacity="0.85" fill="none"/><path d="M388.55 774.42V819.25M384.85 774.42H392.25M384.85 819.25H392.25" stroke="#de3838" stroke-width="1.25" stroke-opacity="0.85" fill="none"/><path d="M393.80 786.02V812.30M390.10 786.02H397.50M390.10 812.30H397.50" stroke="#de3838" stroke-width="1.25" stroke-opacity="0.85" fill="none"/><path d="M399.06 786.02V806.11M395.36 786.02H402.76M395.36 806.11H402.76" stroke="#de3838" stroke-width="1.25" stroke-opacity="0.85" fill="none"/><path d="M404.32 786.02V807.66M400.62 786.02H408.02M400.62 807.66H408.02" stroke="#de3838" stroke-width="1.25" stroke-opacity="0.85" fill="none"/><path d="M409.57 787.56V809.20M405.87 787.56H413.27M405.87 809.20H413.27" stroke="#de3838" stroke-width="1.25" stroke-opacity="0.85" fill="none"/><path d="M414.83 797.61V811.52M411.13 797.61H418.53M411.13 811.52H418.53" stroke="#de3838" stroke-width="1.25" stroke-opacity="0.85" fill="none"/><path d="M420.08 813.84V824.66M416.38 813.84H423.78M416.38 824.66H423.78" stroke="#de3838" stroke-width="1.25" stroke-opacity="0.85" fill="none"/><path d="M425.34 792.97V820.80M421.64 792.97H429.04M421.64 820.80H429.04" stroke="#de3838" stroke-width="1.25" stroke-opacity="0.85" fill="none"/><path d="M430.60 817.71V831.62M426.90 817.71H434.30M426.90 831.62H434.30" stroke="#de3838" stroke-width="1.25" stroke-opacity="0.85" fill="none"/><path d="M435.85 816.93V832.39M432.15 816.93H439.55M432.15 832.39H439.55" stroke="#de3838" stroke-width="1.25" stroke-opacity="0.85" fill="none"/><path d="M441.11 807.66V835.48M437.41 807.66H444.81M437.41 835.48H444.81" stroke="#de3838" stroke-width="1.25" stroke-opacity="0.85" fill="none"/><path d="M446.36 806.89V823.89M442.66 806.89H450.06M442.66 823.89H450.06" stroke="#de3838" stroke-width="1.25" stroke-opacity="0.85" fill="none"/><path d="M451.62 809.20V827.75M447.92 809.20H455.32M447.92 827.75H455.32" stroke="#de3838" stroke-width="1.25" stroke-opacity="0.85" fill="none"/><path d="M456.87 806.11V835.48M453.17 806.11H460.57M453.17 835.48H460.57" stroke="#de3838" stroke-width="1.25" stroke-opacity="0.85" fill="none"/><path d="M462.13 806.11V821.57M458.43 806.11H465.83M458.43 821.57H465.83" stroke="#de3838" stroke-width="1.25" stroke-opacity="0.85" fill="none"/><path d="M467.39 804.57V826.21M463.69 804.57H471.09M463.69 826.21H471.09" stroke="#de3838" stroke-width="1.25" stroke-opacity="0.85" fill="none"/><path d="M472.64 806.11V837.03M468.94 806.11H476.34M468.94 837.03H476.34" stroke="#de3838" stroke-width="1.25" stroke-opacity="0.85" fill="none"/><path d="M477.90 798.38V815.39M474.20 798.38H481.60M474.20 815.39H481.60" stroke="#de3838" stroke-width="1.25" stroke-opacity="0.85" fill="none"/><path d="M483.15 795.29V807.66M479.45 795.29H486.85M479.45 807.66H486.85" stroke="#de3838" stroke-width="1.25" stroke-opacity="0.85" fill="none"/><path d="M488.41 803.02V815.39M484.71 803.02H492.11M484.71 815.39H492.11" stroke="#de3838" stroke-width="1.25" stroke-opacity="0.85" fill="none"/><path d="M493.67 787.56V804.57M489.97 787.56H497.37M489.97 804.57H497.37" stroke="#de3838" stroke-width="1.25" stroke-opacity="0.85" fill="none"/><path d="M498.92 784.47V798.38M495.22 784.47H502.62M495.22 798.38H502.62" stroke="#de3838" stroke-width="1.25" stroke-opacity="0.85" fill="none"/><path d="M504.18 802.25V806.89M500.48 802.25H507.88M500.48 806.89H507.88" stroke="#de3838" stroke-width="1.25" stroke-opacity="0.85" fill="none"/><path d="M509.43 771.33V791.43M505.73 771.33H513.13M505.73 791.43H513.13" stroke="#de3838" stroke-width="1.25" stroke-opacity="0.85" fill="none"/><path d="M514.69 795.29V804.57M510.99 795.29H518.39M510.99 804.57H518.39" stroke="#de3838" stroke-width="1.25" stroke-opacity="0.85" fill="none"/><path d="M519.94 798.38V830.85M516.24 798.38H523.64M516.24 830.85H523.64" stroke="#de3838" stroke-width="1.25" stroke-opacity="0.85" fill="none"/><path d="M525.20 813.84V833.94M521.50 813.84H528.90M521.50 833.94H528.90" stroke="#de3838" stroke-width="1.25" stroke-opacity="0.85" fill="none"/><path d="M530.46 798.38V833.94M526.76 798.38H534.16M526.76 833.94H534.16" stroke="#de3838" stroke-width="1.25" stroke-opacity="0.85" fill="none"/><path d="M535.71 818.48V837.03M532.01 818.48H539.41M532.01 837.03H539.41" stroke="#de3838" stroke-width="1.25" stroke-opacity="0.85" fill="none"/><path d="M540.97 816.93V830.85M537.27 816.93H544.67M537.27 830.85H544.67" stroke="#de3838" stroke-width="1.25" stroke-opacity="0.85" fill="none"/><path d="M546.22 809.20V826.21M542.52 809.20H549.92M542.52 826.21H549.92" stroke="#de3838" stroke-width="1.25" stroke-opacity="0.85" fill="none"/><path d="M551.48 810.75V835.48M547.78 810.75H555.18M547.78 835.48H555.18" stroke="#de3838" stroke-width="1.25" stroke-opacity="0.85" fill="none"/><path d="M556.74 820.03V840.12M553.04 820.03H560.44M553.04 840.12H560.44" stroke="#de3838" stroke-width="1.25" stroke-opacity="0.85" fill="none"/><circle cx="346.50" cy="746.60" r="2.75" fill="#ea0a0a"/><circle cx="351.76" cy="787.56" r="2.75" fill="#ea0a0a"/><circle cx="357.01" cy="763.60" r="2.75" fill="#ea0a0a"/><circle cx="362.27" cy="770.56" r="2.75" fill="#ea0a0a"/><circle cx="367.53" cy="758.19" r="2.75" fill="#ea0a0a"/><circle cx="372.78" cy="753.55" r="2.75" fill="#ea0a0a"/><circle cx="378.04" cy="784.47" r="2.75" fill="#ea0a0a"/><circle cx="383.29" cy="776.74" r="2.75" fill="#ea0a0a"/><circle cx="388.55" cy="796.84" r="2.75" fill="#ea0a0a"/><circle cx="393.80" cy="799.16" r="2.75" fill="#ea0a0a"/><circle cx="399.06" cy="796.06" r="2.75" fill="#ea0a0a"/><circle cx="404.32" cy="796.84" r="2.75" fill="#ea0a0a"/><circle cx="409.57" cy="798.38" r="2.75" fill="#ea0a0a"/><circle cx="414.83" cy="804.57" r="2.75" fill="#ea0a0a"/><circle cx="420.08" cy="819.25" r="2.75" fill="#ea0a0a"/><circle cx="425.34" cy="806.89" r="2.75" fill="#ea0a0a"/><circle cx="430.60" cy="824.66" r="2.75" fill="#ea0a0a"/><circle cx="435.85" cy="824.66" r="2.75" fill="#ea0a0a"/><circle cx="441.11" cy="821.57" r="2.75" fill="#ea0a0a"/><circle cx="446.36" cy="815.39" r="2.75" fill="#ea0a0a"/><circle cx="451.62" cy="818.48" r="2.75" fill="#ea0a0a"/><circle cx="456.87" cy="820.80" r="2.75" fill="#ea0a0a"/><circle cx="462.13" cy="813.84" r="2.75" fill="#ea0a0a"/><circle cx="467.39" cy="815.39" r="2.75" fill="#ea0a0a"/><circle cx="472.64" cy="821.57" r="2.75" fill="#ea0a0a"/><circle cx="477.90" cy="806.89" r="2.75" fill="#ea0a0a"/><circle cx="483.15" cy="801.48" r="2.75" fill="#ea0a0a"/><circle cx="488.41" cy="809.20" r="2.75" fill="#ea0a0a"/><circle cx="493.67" cy="796.06" r="2.75" fill="#ea0a0a"/><circle cx="498.92" cy="791.43" r="2.75" fill="#ea0a0a"/><circle cx="504.18" cy="804.57" r="2.75" fill="#ea0a0a"/><circle cx="509.43" cy="781.38" r="2.75" fill="#ea0a0a"/><circle cx="514.69" cy="799.93" r="2.75" fill="#ea0a0a"/><circle cx="519.94" cy="814.61" r="2.75" fill="#ea0a0a"/><circle cx="525.20" cy="823.89" r="2.75" fill="#ea0a0a"/><circle cx="530.46" cy="816.16" r="2.75" fill="#ea0a0a"/><circle cx="535.71" cy="827.75" r="2.75" fill="#ea0a0a"/><circle cx="540.97" cy="823.89" r="2.75" fill="#ea0a0a"/><circle cx="546.22" cy="817.71" r="2.75" fill="#ea0a0a"/><circle cx="551.48" cy="823.89" r="2.75" fill="#ea0a0a"/><circle cx="556.74" cy="830.07" r="2.75" fill="#ea0a0a"/></g><g clip-path="url(#k8)"><path d="M120.50 946.52V968.16M116.80 946.52H124.20M116.80 968.16H124.20" stroke="#3f843f" stroke-width="1.25" stroke-opacity="0.85" fill="none"/><path d="M125.72 955.79V976.66M122.02 955.79H129.42M122.02 976.66H129.42" stroke="#3f843f" stroke-width="1.25" stroke-opacity="0.85" fill="none"/><path d="M130.94 897.83V930.29M127.24 897.83H134.64M127.24 930.29H134.64" stroke="#3f843f" stroke-width="1.25" stroke-opacity="0.85" fill="none"/><path d="M136.15 931.06V941.11M132.45 931.06H139.85M132.45 941.11H139.85" stroke="#3f843f" stroke-width="1.25" stroke-opacity="0.85" fill="none"/><path d="M141.37 955.79V978.98M137.67 955.79H145.07M137.67 978.98H145.07" stroke="#3f843f" stroke-width="1.25" stroke-opacity="0.85" fill="none"/><path d="M146.59 908.65V914.06M142.89 908.65H150.29M142.89 914.06H150.29" stroke="#3f843f" stroke-width="1.25" stroke-opacity="0.85" fill="none"/><path d="M151.81 947.29V959.66M148.11 947.29H155.51M148.11 959.66H155.51" stroke="#3f843f" stroke-width="1.25" stroke-opacity="0.85" fill="none"/><path d="M157.02 923.33V947.29M153.32 923.33H160.72M153.32 947.29H160.72" stroke="#3f843f" stroke-width="1.25" stroke-opacity="0.85" fill="none"/><path d="M162.24 918.69V949.61M158.54 918.69H165.94M158.54 949.61H165.94" stroke="#3f843f" stroke-width="1.25" stroke-opacity="0.85" fill="none"/><path d="M167.46 931.06V942.65M163.76 931.06H171.16M163.76 942.65H171.16" stroke="#3f843f" stroke-width="1.25" stroke-opacity="0.85" fill="none"/><path d="M172.67 953.48V968.93M168.97 953.48H176.37M168.97 968.93H176.37" stroke="#3f843f" stroke-width="1.25" stroke-opacity="0.85" fill="none"/><path d="M177.89 925.65V938.02M174.19 925.65H181.59M174.19 938.02H181.59" stroke="#3f843f" stroke-width="1.25" stroke-opacity="0.85" fill="none"/><path d="M183.11 941.11V961.98M179.41 941.11H186.81M179.41 961.98H186.81" stroke="#3f843f" stroke-width="1.25" stroke-opacity="0.85" fill="none"/><path d="M188.33 947.29V960.43M184.63 947.29H192.03M184.63 960.43H192.03" stroke="#3f843f" stroke-width="1.25" stroke-opacity="0.85" fill="none"/><path d="M193.54 928.74V944.20M189.84 928.74H197.24M189.84 944.20H197.24" stroke="#3f843f" stroke-width="1.25" stroke-opacity="0.85" fill="none"/><path d="M198.76 924.88V943.43M195.06 924.88H202.46M195.06 943.43H202.46" stroke="#3f843f" stroke-width="1.25" stroke-opacity="0.85" fill="none"/><path d="M203.98 910.96V924.88M200.28 910.96H207.68M200.28 924.88H207.68" stroke="#3f843f" stroke-width="1.25" stroke-opacity="0.85" fill="none"/><path d="M209.19 910.96V921.79M205.49 910.96H212.89M205.49 921.79H212.89" stroke="#3f843f" stroke-width="1.25" stroke-opacity="0.85" fill="none"/><path d="M214.41 887.78V907.10M210.71 887.78H218.11M210.71 907.10H218.11" stroke="#3f843f" stroke-width="1.25" stroke-opacity="0.85" fill="none"/><path d="M219.63 880.82V900.14M215.93 880.82H223.33M215.93 900.14H223.33" stroke="#3f843f" stroke-width="1.25" stroke-opacity="0.85" fill="none"/><path d="M224.85 884.69V904.01M221.15 884.69H228.55M221.15 904.01H228.55" stroke="#3f843f" stroke-width="1.25" stroke-opacity="0.85" fill="none"/><path d="M230.06 888.55V907.10M226.36 888.55H233.76M226.36 907.10H233.76" stroke="#3f843f" stroke-width="1.25" stroke-opacity="0.85" fill="none"/><path d="M235.28 889.32V907.10M231.58 889.32H238.98M231.58 907.10H238.98" stroke="#3f843f" stroke-width="1.25" stroke-opacity="0.85" fill="none"/><path d="M240.50 914.83V937.24M236.80 914.83H244.20M236.80 937.24H244.20" stroke="#3f843f" stroke-width="1.25" stroke-opacity="0.85" fill="none"/><path d="M245.71 911.74V934.93M242.01 911.74H249.41M242.01 934.93H249.41" stroke="#3f843f" stroke-width="1.25" stroke-opacity="0.85" fill="none"/><path d="M250.93 914.06V924.88M247.23 914.06H254.63M247.23 924.88H254.63" stroke="#3f843f" stroke-width="1.25" stroke-opacity="0.85" fill="none"/><path d="M256.15 929.51V941.11M252.45 929.51H259.85M252.45 941.11H259.85" stroke="#3f843f" stroke-width="1.25" stroke-opacity="0.85" fill="none"/><path d="M261.37 926.42V938.79M257.67 926.42H265.07M257.67 938.79H265.07" stroke="#3f843f" stroke-width="1.25" stroke-opacity="0.85" fill="none"/><path d="M266.58 926.42V945.75M262.88 926.42H270.28M262.88 945.75H270.28" stroke="#3f843f" stroke-width="1.25" stroke-opacity="0.85" fill="none"/><path d="M271.80 924.10V934.93M268.10 924.10H275.50M268.10 934.93H275.50" stroke="#3f843f" stroke-width="1.25" stroke-opacity="0.85" fill="none"/><path d="M277.02 927.20V935.70M273.32 927.20H280.72M273.32 935.70H280.72" stroke="#3f843f" stroke-width="1.25" stroke-opacity="0.85" fill="none"/><path d="M282.23 931.06V943.43M278.53 931.06H285.93M278.53 943.43H285.93" stroke="#3f843f" stroke-width="1.25" stroke-opacity="0.85" fill="none"/><path d="M287.45 915.60V924.10M283.75 915.60H291.15M283.75 924.10H291.15" stroke="#3f843f" stroke-width="1.25" stroke-opacity="0.85" fill="none"/><path d="M292.67 897.05V916.38M288.97 897.05H296.37M288.97 916.38H296.37" stroke="#3f843f" stroke-width="1.25" stroke-opacity="0.85" fill="none"/><path d="M297.89 921.01V940.34M294.19 921.01H301.59M294.19 940.34H301.59" stroke="#3f843f" stroke-width="1.25" stroke-opacity="0.85" fill="none"/><path d="M303.10 938.79V963.52M299.40 938.79H306.80M299.40 963.52H306.80" stroke="#3f843f" stroke-width="1.25" stroke-opacity="0.85" fill="none"/><path d="M308.32 931.83V951.16M304.62 931.83H312.02M304.62 951.16H312.02" stroke="#3f843f" stroke-width="1.25" stroke-opacity="0.85" fill="none"/><path d="M313.54 940.34V951.93M309.84 940.34H317.24M309.84 951.93H317.24" stroke="#3f843f" stroke-width="1.25" stroke-opacity="0.85" fill="none"/><path d="M318.76 927.20V944.97M315.06 927.20H322.46M315.06 944.97H322.46" stroke="#3f843f" stroke-width="1.25" stroke-opacity="0.85" fill="none"/><path d="M323.97 943.43V960.43M320.27 943.43H327.67M320.27 960.43H327.67" stroke="#3f843f" stroke-width="1.25" stroke-opacity="0.85" fill="none"/><path d="M329.19 970.48V983.62M325.49 970.48H332.89M325.49 983.62H332.89" stroke="#3f843f" stroke-width="1.25" stroke-opacity="0.85" fill="none"/><circle cx="120.50" cy="957.80" r="2.75" fill="#0a780a"/><circle cx="125.72" cy="966.15" r="2.75" fill="#0a780a"/><circle cx="130.94" cy="914.37" r="2.75" fill="#0a780a"/><circle cx="136.15" cy="936.16" r="2.75" fill="#0a780a"/><circle cx="141.37" cy="967.70" r="2.75" fill="#0a780a"/><circle cx="146.59" cy="910.96" r="2.75" fill="#0a780a"/><circle cx="151.81" cy="953.48" r="2.75" fill="#0a780a"/><circle cx="157.02" cy="935.39" r="2.75" fill="#0a780a"/><circle cx="162.24" cy="934.15" r="2.75" fill="#0a780a"/><circle cx="167.46" cy="936.78" r="2.75" fill="#0a780a"/><circle cx="172.67" cy="961.20" r="2.75" fill="#0a780a"/><circle cx="177.89" cy="931.83" r="2.75" fill="#0a780a"/><circle cx="183.11" cy="951.16" r="2.75" fill="#0a780a"/><circle cx="188.33" cy="953.48" r="2.75" fill="#0a780a"/><circle cx="193.54" cy="936.47" r="2.75" fill="#0a780a"/><circle cx="198.76" cy="933.84" r="2.75" fill="#0a780a"/><circle cx="203.98" cy="917.92" r="2.75" fill="#0a780a"/><circle cx="209.19" cy="916.38" r="2.75" fill="#0a780a"/><circle cx="214.41" cy="897.52" r="2.75" fill="#0a780a"/><circle cx="219.63" cy="890.10" r="2.75" fill="#0a780a"/><circle cx="224.85" cy="894.42" r="2.75" fill="#0a780a"/><circle cx="230.06" cy="897.83" r="2.75" fill="#0a780a"/><circle cx="235.28" cy="898.60" r="2.75" fill="#0a780a"/><circle cx="240.50" cy="925.96" r="2.75" fill="#0a780a"/><circle cx="245.71" cy="923.33" r="2.75" fill="#0a780a"/><circle cx="250.93" cy="919.47" r="2.75" fill="#0a780a"/><circle cx="256.15" cy="935.39" r="2.75" fill="#0a780a"/><circle cx="261.37" cy="932.61" r="2.75" fill="#0a780a"/><circle cx="266.58" cy="936.16" r="2.75" fill="#0a780a"/><circle cx="271.80" cy="929.51" r="2.75" fill="#0a780a"/><circle cx="277.02" cy="931.52" r="2.75" fill="#0a780a"/><circle cx="282.23" cy="937.24" r="2.75" fill="#0a780a"/><circle cx="287.45" cy="919.78" r="2.75" fill="#0a780a"/><circle cx="292.67" cy="906.64" r="2.75" fill="#0a780a"/><circle cx="297.89" cy="930.75" r="2.75" fill="#0a780a"/><circle cx="303.10" cy="951.16" r="2.75" fill="#0a780a"/><circle cx="308.32" cy="941.42" r="2.75" fill="#0a780a"/><circle cx="313.54" cy="946.21" r="2.75" fill="#0a780a"/><circle cx="318.76" cy="936.01" r="2.75" fill="#0a780a"/><circle cx="323.97" cy="951.93" r="2.75" fill="#0a780a"/><circle cx="329.19" cy="976.66" r="2.75" fill="#0a780a"/></g><g clip-path="url(#k9)"><path d="M346.50 890.10V909.42M342.80 890.10H350.20M342.80 909.42H350.20" stroke="#3f843f" stroke-width="1.25" stroke-opacity="0.85" fill="none"/><path d="M351.76 932.61V951.16M348.06 932.61H355.46M348.06 951.16H355.46" stroke="#3f843f" stroke-width="1.25" stroke-opacity="0.85" fill="none"/><path d="M357.01 897.52V926.42M353.31 897.52H360.71M353.31 926.42H360.71" stroke="#3f843f" stroke-width="1.25" stroke-opacity="0.85" fill="none"/><path d="M362.27 920.24V929.51M358.57 920.24H365.97M358.57 929.51H365.97" stroke="#3f843f" stroke-width="1.25" stroke-opacity="0.85" fill="none"/><path d="M367.53 897.05V917.92M363.83 897.05H371.23M363.83 917.92H371.23" stroke="#3f843f" stroke-width="1.25" stroke-opacity="0.85" fill="none"/><path d="M372.78 912.51V917.15M369.08 912.51H376.48M369.08 917.15H376.48" stroke="#3f843f" stroke-width="1.25" stroke-opacity="0.85" fill="none"/><path d="M378.04 920.24V930.29M374.34 920.24H381.74M374.34 930.29H381.74" stroke="#3f843f" stroke-width="1.25" stroke-opacity="0.85" fill="none"/><path d="M383.29 914.83V935.70M379.59 914.83H386.99M379.59 935.70H386.99" stroke="#3f843f" stroke-width="1.25" stroke-opacity="0.85" fill="none"/><path d="M388.55 922.56V949.61M384.85 922.56H392.25M384.85 949.61H392.25" stroke="#3f843f" stroke-width="1.25" stroke-opacity="0.85" fill="none"/><path d="M393.80 942.65V953.48M390.10 942.65H397.50M390.10 953.48H397.50" stroke="#3f843f" stroke-width="1.25" stroke-opacity="0.85" fill="none"/><path d="M399.06 945.75V959.66M395.36 945.75H402.76M395.36 959.66H402.76" stroke="#3f843f" stroke-width="1.25" stroke-opacity="0.85" fill="none"/><path d="M404.32 938.79V950.38M400.62 938.79H408.02M400.62 950.38H408.02" stroke="#3f843f" stroke-width="1.25" stroke-opacity="0.85" fill="none"/><path d="M409.57 943.43V961.98M405.87 943.43H413.27M405.87 961.98H413.27" stroke="#3f843f" stroke-width="1.25" stroke-opacity="0.85" fill="none"/><path d="M414.83 953.48V965.07M411.13 953.48H418.53M411.13 965.07H418.53" stroke="#3f843f" stroke-width="1.25" stroke-opacity="0.85" fill="none"/><path d="M420.08 962.75V977.44M416.38 962.75H423.78M416.38 977.44H423.78" stroke="#3f843f" stroke-width="1.25" stroke-opacity="0.85" fill="none"/><path d="M425.34 958.11V974.34M421.64 958.11H429.04M421.64 974.34H429.04" stroke="#3f843f" stroke-width="1.25" stroke-opacity="0.85" fill="none"/><path d="M430.60 974.34V985.94M426.90 974.34H434.30M426.90 985.94H434.30" stroke="#3f843f" stroke-width="1.25" stroke-opacity="0.85" fill="none"/><path d="M435.85 966.61V976.66M432.15 966.61H439.55M432.15 976.66H439.55" stroke="#3f843f" stroke-width="1.25" stroke-opacity="0.85" fill="none"/><path d="M441.11 958.11V975.89M437.41 958.11H444.81M437.41 975.89H444.81" stroke="#3f843f" stroke-width="1.25" stroke-opacity="0.85" fill="none"/><path d="M446.36 957.34V975.12M442.66 957.34H450.06M442.66 975.12H450.06" stroke="#3f843f" stroke-width="1.25" stroke-opacity="0.85" fill="none"/><path d="M451.62 952.70V970.48M447.92 952.70H455.32M447.92 970.48H455.32" stroke="#3f843f" stroke-width="1.25" stroke-opacity="0.85" fill="none"/><path d="M456.87 955.79V972.03M453.17 955.79H460.57M453.17 972.03H460.57" stroke="#3f843f" stroke-width="1.25" stroke-opacity="0.85" fill="none"/><path d="M462.13 947.29V964.30M458.43 947.29H465.83M458.43 964.30H465.83" stroke="#3f843f" stroke-width="1.25" stroke-opacity="0.85" fill="none"/><path d="M467.39 953.48V973.57M463.69 953.48H471.09M463.69 973.57H471.09" stroke="#3f843f" stroke-width="1.25" stroke-opacity="0.85" fill="none"/><path d="M472.64 953.48V975.12M468.94 953.48H476.34M468.94 975.12H476.34" stroke="#3f843f" stroke-width="1.25" stroke-opacity="0.85" fill="none"/><path d="M477.90 949.61V958.89M474.20 949.61H481.60M474.20 958.89H481.60" stroke="#3f843f" stroke-width="1.25" stroke-opacity="0.85" fill="none"/><path d="M483.15 950.38V960.43M479.45 950.38H486.85M479.45 960.43H486.85" stroke="#3f843f" stroke-width="1.25" stroke-opacity="0.85" fill="none"/><path d="M488.41 954.25V965.07M484.71 954.25H492.11M484.71 965.07H492.11" stroke="#3f843f" stroke-width="1.25" stroke-opacity="0.85" fill="none"/><path d="M493.67 935.70V952.70M489.97 935.70H497.37M489.97 952.70H497.37" stroke="#3f843f" stroke-width="1.25" stroke-opacity="0.85" fill="none"/><path d="M498.92 936.47V948.06M495.22 936.47H502.62M495.22 948.06H502.62" stroke="#3f843f" stroke-width="1.25" stroke-opacity="0.85" fill="none"/><path d="M504.18 940.34V948.06M500.48 940.34H507.88M500.48 948.06H507.88" stroke="#3f843f" stroke-width="1.25" stroke-opacity="0.85" fill="none"/><path d="M509.43 928.74V940.34M505.73 928.74H513.13M505.73 940.34H513.13" stroke="#3f843f" stroke-width="1.25" stroke-opacity="0.85" fill="none"/><path d="M514.69 934.15V942.65M510.99 934.15H518.39M510.99 942.65H518.39" stroke="#3f843f" stroke-width="1.25" stroke-opacity="0.85" fill="none"/><path d="M519.94 920.24V937.24M516.24 920.24H523.64M516.24 937.24H523.64" stroke="#3f843f" stroke-width="1.25" stroke-opacity="0.85" fill="none"/><path d="M525.20 972.03V988.26M521.50 972.03H528.90M521.50 988.26H528.90" stroke="#3f843f" stroke-width="1.25" stroke-opacity="0.85" fill="none"/><path d="M530.46 945.75V967.39M526.76 945.75H534.16M526.76 967.39H534.16" stroke="#3f843f" stroke-width="1.25" stroke-opacity="0.85" fill="none"/><path d="M535.71 960.43V977.44M532.01 960.43H539.41M532.01 977.44H539.41" stroke="#3f843f" stroke-width="1.25" stroke-opacity="0.85" fill="none"/><path d="M540.97 956.57V966.61M537.27 956.57H544.67M537.27 966.61H544.67" stroke="#3f843f" stroke-width="1.25" stroke-opacity="0.85" fill="none"/><path d="M546.22 960.43V975.89M542.52 960.43H549.92M542.52 975.89H549.92" stroke="#3f843f" stroke-width="1.25" stroke-opacity="0.85" fill="none"/><path d="M551.48 963.52V978.98M547.78 963.52H555.18M547.78 978.98H555.18" stroke="#3f843f" stroke-width="1.25" stroke-opacity="0.85" fill="none"/><path d="M556.74 969.71V980.53M553.04 969.71H560.44M553.04 980.53H560.44" stroke="#3f843f" stroke-width="1.25" stroke-opacity="0.85" fill="none"/><circle cx="346.50" cy="899.68" r="2.75" fill="#0a780a"/><circle cx="351.76" cy="941.88" r="2.75" fill="#0a780a"/><circle cx="357.01" cy="912.05" r="2.75" fill="#0a780a"/><circle cx="362.27" cy="925.19" r="2.75" fill="#0a780a"/><circle cx="367.53" cy="907.41" r="2.75" fill="#0a780a"/><circle cx="372.78" cy="914.83" r="2.75" fill="#0a780a"/><circle cx="378.04" cy="925.19" r="2.75" fill="#0a780a"/><circle cx="383.29" cy="925.19" r="2.75" fill="#0a780a"/><circle cx="388.55" cy="936.01" r="2.75" fill="#0a780a"/><circle cx="393.80" cy="948.06" r="2.75" fill="#0a780a"/><circle cx="399.06" cy="952.70" r="2.75" fill="#0a780a"/><circle cx="404.32" cy="944.66" r="2.75" fill="#0a780a"/><circle cx="409.57" cy="952.39" r="2.75" fill="#0a780a"/><circle cx="414.83" cy="959.35" r="2.75" fill="#0a780a"/><circle cx="420.08" cy="969.71" r="2.75" fill="#0a780a"/><circle cx="425.34" cy="966.15" r="2.75" fill="#0a780a"/><circle cx="430.60" cy="980.06" r="2.75" fill="#0a780a"/><circle cx="435.85" cy="971.56" r="2.75" fill="#0a780a"/><circle cx="441.11" cy="966.92" r="2.75" fill="#0a780a"/><circle cx="446.36" cy="966.15" r="2.75" fill="#0a780a"/><circle cx="451.62" cy="961.51" r="2.75" fill="#0a780a"/><circle cx="456.87" cy="963.99" r="2.75" fill="#0a780a"/><circle cx="462.13" cy="955.79" r="2.75" fill="#0a780a"/><circle cx="467.39" cy="963.52" r="2.75" fill="#0a780a"/><circle cx="472.64" cy="964.30" r="2.75" fill="#0a780a"/><circle cx="477.90" cy="954.25" r="2.75" fill="#0a780a"/><circle cx="483.15" cy="955.48" r="2.75" fill="#0a780a"/><circle cx="488.41" cy="959.97" r="2.75" fill="#0a780a"/><circle cx="493.67" cy="944.20" r="2.75" fill="#0a780a"/><circle cx="498.92" cy="942.19" r="2.75" fill="#0a780a"/><circle cx="504.18" cy="944.20" r="2.75" fill="#0a780a"/><circle cx="509.43" cy="934.62" r="2.75" fill="#0a780a"/><circle cx="514.69" cy="938.48" r="2.75" fill="#0a780a"/><circle cx="519.94" cy="928.43" r="2.75" fill="#0a780a"/><circle cx="525.20" cy="980.06" r="2.75" fill="#0a780a"/><circle cx="530.46" cy="956.57" r="2.75" fill="#0a780a"/><circle cx="535.71" cy="968.93" r="2.75" fill="#0a780a"/><circle cx="540.97" cy="961.51" r="2.75" fill="#0a780a"/><circle cx="546.22" cy="968.16" r="2.75" fill="#0a780a"/><circle cx="551.48" cy="971.25" r="2.75" fill="#0a780a"/><circle cx="556.74" cy="975.12" r="2.75" fill="#0a780a"/></g><g clip-path="url(#k10)"><path d="M895.58 788.70V793.34M891.88 788.70H899.28M891.88 793.34H899.28" stroke="#3535bc" stroke-width="1.25" stroke-opacity="0.85" fill="none"/><path d="M900.79 781.74V812.66M897.09 781.74H904.49M897.09 812.66H904.49" stroke="#3535bc" stroke-width="1.25" stroke-opacity="0.85" fill="none"/><path d="M906.00 783.29V793.34M902.30 783.29H909.70M902.30 793.34H909.70" stroke="#3535bc" stroke-width="1.25" stroke-opacity="0.85" fill="none"/><path d="M911.21 774.01V838.94M907.51 774.01H914.91M907.51 838.94H914.91" stroke="#3535bc" stroke-width="1.25" stroke-opacity="0.85" fill="none"/><path d="M916.42 742.32V773.24M912.72 742.32H920.12M912.72 773.24H920.12" stroke="#3535bc" stroke-width="1.25" stroke-opacity="0.85" fill="none"/><path d="M921.63 770.92V781.74M917.93 770.92H925.33M917.93 781.74H925.33" stroke="#3535bc" stroke-width="1.25" stroke-opacity="0.85" fill="none"/><path d="M926.84 794.88V808.02M923.14 794.88H930.54M923.14 808.02H930.54" stroke="#3535bc" stroke-width="1.25" stroke-opacity="0.85" fill="none"/><path d="M932.05 783.29V804.16M928.35 783.29H935.75M928.35 804.16H935.75" stroke="#3535bc" stroke-width="1.25" stroke-opacity="0.85" fill="none"/><path d="M937.26 765.51V806.48M933.56 765.51H940.96M933.56 806.48H940.96" stroke="#3535bc" stroke-width="1.25" stroke-opacity="0.85" fill="none"/><path d="M942.47 803.38V824.25M938.77 803.38H946.17M938.77 824.25H946.17" stroke="#3535bc" stroke-width="1.25" stroke-opacity="0.85" fill="none"/><path d="M952.89 762.42V812.66M949.19 762.42H956.59M949.19 812.66H956.59" stroke="#3535bc" stroke-width="1.25" stroke-opacity="0.85" fill="none"/><path d="M958.10 769.38V776.33M954.40 769.38H961.80M954.40 776.33H961.80" stroke="#3535bc" stroke-width="1.25" stroke-opacity="0.85" fill="none"/><path d="M963.31 729.18V751.60M959.61 729.18H967.01M959.61 751.60H967.01" stroke="#3535bc" stroke-width="1.25" stroke-opacity="0.85" fill="none"/><path d="M968.52 810.34V838.94M964.82 810.34H972.22M964.82 838.94H972.22" stroke="#3535bc" stroke-width="1.25" stroke-opacity="0.85" fill="none"/><path d="M973.73 804.93V814.98M970.03 804.93H977.43M970.03 814.98H977.43" stroke="#3535bc" stroke-width="1.25" stroke-opacity="0.85" fill="none"/><path d="M978.94 775.56V806.48M975.24 775.56H982.64M975.24 806.48H982.64" stroke="#3535bc" stroke-width="1.25" stroke-opacity="0.85" fill="none"/><path d="M984.14 777.10V798.75M980.44 777.10H987.84M980.44 798.75H987.84" stroke="#3535bc" stroke-width="1.25" stroke-opacity="0.85" fill="none"/><path d="M989.35 797.20V808.02M985.65 797.20H993.05M985.65 808.02H993.05" stroke="#3535bc" stroke-width="1.25" stroke-opacity="0.85" fill="none"/><path d="M994.56 774.01V781.74M990.86 774.01H998.26M990.86 781.74H998.26" stroke="#3535bc" stroke-width="1.25" stroke-opacity="0.85" fill="none"/><path d="M999.77 774.01V796.43M996.07 774.01H1003.47M996.07 796.43H1003.47" stroke="#3535bc" stroke-width="1.25" stroke-opacity="0.85" fill="none"/><path d="M1004.98 787.93V795.65M1001.28 787.93H1008.68M1001.28 795.65H1008.68" stroke="#3535bc" stroke-width="1.25" stroke-opacity="0.85" fill="none"/><path d="M1010.19 793.34V806.48M1006.49 793.34H1013.89M1006.49 806.48H1013.89" stroke="#3535bc" stroke-width="1.25" stroke-opacity="0.85" fill="none"/><path d="M1015.40 775.56V780.97M1011.70 775.56H1019.10M1011.70 780.97H1019.10" stroke="#3535bc" stroke-width="1.25" stroke-opacity="0.85" fill="none"/><path d="M1020.61 787.93V811.89M1016.91 787.93H1024.31M1016.91 811.89H1024.31" stroke="#3535bc" stroke-width="1.25" stroke-opacity="0.85" fill="none"/><path d="M1025.82 767.83V808.02M1022.12 767.83H1029.52M1022.12 808.02H1029.52" stroke="#3535bc" stroke-width="1.25" stroke-opacity="0.85" fill="none"/><path d="M1031.03 781.74V807.25M1027.33 781.74H1034.73M1027.33 807.25H1034.73" stroke="#3535bc" stroke-width="1.25" stroke-opacity="0.85" fill="none"/><path d="M1036.24 781.74V807.25M1032.54 781.74H1039.94M1032.54 807.25H1039.94" stroke="#3535bc" stroke-width="1.25" stroke-opacity="0.85" fill="none"/><path d="M1041.45 762.42V801.06M1037.75 762.42H1045.15M1037.75 801.06H1045.15" stroke="#3535bc" stroke-width="1.25" stroke-opacity="0.85" fill="none"/><path d="M1046.66 772.47V794.11M1042.96 772.47H1050.36M1042.96 794.11H1050.36" stroke="#3535bc" stroke-width="1.25" stroke-opacity="0.85" fill="none"/><path d="M1051.87 784.83V792.56M1048.17 784.83H1055.57M1048.17 792.56H1055.57" stroke="#3535bc" stroke-width="1.25" stroke-opacity="0.85" fill="none"/><path d="M1057.08 781.74V824.25M1053.38 781.74H1060.78M1053.38 824.25H1060.78" stroke="#3535bc" stroke-width="1.25" stroke-opacity="0.85" fill="none"/><path d="M1062.29 777.10V787.15M1058.59 777.10H1065.99M1058.59 787.15H1065.99" stroke="#3535bc" stroke-width="1.25" stroke-opacity="0.85" fill="none"/><path d="M1067.50 761.65V772.47M1063.80 761.65H1071.20M1063.80 772.47H1071.20" stroke="#3535bc" stroke-width="1.25" stroke-opacity="0.85" fill="none"/><path d="M1072.71 765.51V793.34M1069.01 765.51H1076.41M1069.01 793.34H1076.41" stroke="#3535bc" stroke-width="1.25" stroke-opacity="0.85" fill="none"/><path d="M1077.92 769.38V793.34M1074.22 769.38H1081.62M1074.22 793.34H1081.62" stroke="#3535bc" stroke-width="1.25" stroke-opacity="0.85" fill="none"/><path d="M1083.12 796.43V806.48M1079.42 796.43H1086.82M1079.42 806.48H1086.82" stroke="#3535bc" stroke-width="1.25" stroke-opacity="0.85" fill="none"/><path d="M1088.33 767.83V788.70M1084.63 767.83H1092.03M1084.63 788.70H1092.03" stroke="#3535bc" stroke-width="1.25" stroke-opacity="0.85" fill="none"/><path d="M1093.54 769.38V784.83M1089.84 769.38H1097.24M1089.84 784.83H1097.24" stroke="#3535bc" stroke-width="1.25" stroke-opacity="0.85" fill="none"/><path d="M1098.75 744.64V767.06M1095.05 744.64H1102.45M1095.05 767.06H1102.45" stroke="#3535bc" stroke-width="1.25" stroke-opacity="0.85" fill="none"/><path d="M1103.96 735.37V762.42M1100.26 735.37H1107.66M1100.26 762.42H1107.66" stroke="#3535bc" stroke-width="1.25" stroke-opacity="0.85" fill="none"/><path d="M895.58 823.48V831.21M891.88 823.48H899.28M891.88 831.21H899.28" stroke="#de3838" stroke-width="1.25" stroke-opacity="0.85" fill="none"/><path d="M900.79 751.60V807.25M897.09 751.60H904.49M897.09 807.25H904.49" stroke="#de3838" stroke-width="1.25" stroke-opacity="0.85" fill="none"/><path d="M906.00 794.11V803.38M902.30 794.11H909.70M902.30 803.38H909.70" stroke="#de3838" stroke-width="1.25" stroke-opacity="0.85" fill="none"/><path d="M911.21 747.73V808.02M907.51 747.73H914.91M907.51 808.02H914.91" stroke="#de3838" stroke-width="1.25" stroke-opacity="0.85" fill="none"/><path d="M916.42 778.65V785.61M912.72 778.65H920.12M912.72 785.61H920.12" stroke="#de3838" stroke-width="1.25" stroke-opacity="0.85" fill="none"/><path d="M921.63 786.38V794.11M917.93 786.38H925.33M917.93 794.11H925.33" stroke="#de3838" stroke-width="1.25" stroke-opacity="0.85" fill="none"/><path d="M926.84 762.42V806.48M923.14 762.42H930.54M923.14 806.48H930.54" stroke="#de3838" stroke-width="1.25" stroke-opacity="0.85" fill="none"/><path d="M932.05 754.69V808.02M928.35 754.69H935.75M928.35 808.02H935.75" stroke="#de3838" stroke-width="1.25" stroke-opacity="0.85" fill="none"/><path d="M937.26 808.79V844.35M933.56 808.79H940.96M933.56 844.35H940.96" stroke="#de3838" stroke-width="1.25" stroke-opacity="0.85" fill="none"/><path d="M942.47 766.28V803.38M938.77 766.28H946.17M938.77 803.38H946.17" stroke="#de3838" stroke-width="1.25" stroke-opacity="0.85" fill="none"/><path d="M947.68 786.38V795.65M943.98 786.38H951.38M943.98 795.65H951.38" stroke="#de3838" stroke-width="1.25" stroke-opacity="0.85" fill="none"/><path d="M952.89 783.29V816.52M949.19 783.29H956.59M949.19 816.52H956.59" stroke="#de3838" stroke-width="1.25" stroke-opacity="0.85" fill="none"/><path d="M958.10 784.06V812.66M954.40 784.06H961.80M954.40 812.66H961.80" stroke="#de3838" stroke-width="1.25" stroke-opacity="0.85" fill="none"/><path d="M963.31 763.96V782.51M959.61 763.96H967.01M959.61 782.51H967.01" stroke="#de3838" stroke-width="1.25" stroke-opacity="0.85" fill="none"/><path d="M968.52 777.88V818.84M964.82 777.88H972.22M964.82 818.84H972.22" stroke="#de3838" stroke-width="1.25" stroke-opacity="0.85" fill="none"/><path d="M973.73 790.24V799.52M970.03 790.24H977.43M970.03 799.52H977.43" stroke="#de3838" stroke-width="1.25" stroke-opacity="0.85" fill="none"/><path d="M978.94 777.10V785.61M975.24 777.10H982.64M975.24 785.61H982.64" stroke="#de3838" stroke-width="1.25" stroke-opacity="0.85" fill="none"/><path d="M984.14 753.92V771.69M980.44 753.92H987.84M980.44 771.69H987.84" stroke="#de3838" stroke-width="1.25" stroke-opacity="0.85" fill="none"/><path d="M989.35 787.93V797.20M985.65 787.93H993.05M985.65 797.20H993.05" stroke="#de3838" stroke-width="1.25" stroke-opacity="0.85" fill="none"/><path d="M994.56 767.06V779.42M990.86 767.06H998.26M990.86 779.42H998.26" stroke="#de3838" stroke-width="1.25" stroke-opacity="0.85" fill="none"/><path d="M999.77 764.74V781.74M996.07 764.74H1003.47M996.07 781.74H1003.47" stroke="#de3838" stroke-width="1.25" stroke-opacity="0.85" fill="none"/><path d="M1004.98 760.87V790.24M1001.28 760.87H1008.68M1001.28 790.24H1008.68" stroke="#de3838" stroke-width="1.25" stroke-opacity="0.85" fill="none"/><path d="M1010.19 781.74V804.93M1006.49 781.74H1013.89M1006.49 804.93H1013.89" stroke="#de3838" stroke-width="1.25" stroke-opacity="0.85" fill="none"/><path d="M1015.40 759.33V770.92M1011.70 759.33H1019.10M1011.70 770.92H1019.10" stroke="#de3838" stroke-width="1.25" stroke-opacity="0.85" fill="none"/><path d="M1020.61 787.93V797.20M1016.91 787.93H1024.31M1016.91 797.20H1024.31" stroke="#de3838" stroke-width="1.25" stroke-opacity="0.85" fill="none"/><path d="M1025.82 751.60V776.33M1022.12 751.60H1029.52M1022.12 776.33H1029.52" stroke="#de3838" stroke-width="1.25" stroke-opacity="0.85" fill="none"/><path d="M1031.03 728.41V756.24M1027.33 728.41H1034.73M1027.33 756.24H1034.73" stroke="#de3838" stroke-width="1.25" stroke-opacity="0.85" fill="none"/><path d="M1036.24 761.65V797.20M1032.54 761.65H1039.94M1032.54 797.20H1039.94" stroke="#de3838" stroke-width="1.25" stroke-opacity="0.85" fill="none"/><path d="M1041.45 810.34V836.62M1037.75 810.34H1045.15M1037.75 836.62H1045.15" stroke="#de3838" stroke-width="1.25" stroke-opacity="0.85" fill="none"/><path d="M1046.66 794.11V811.89M1042.96 794.11H1050.36M1042.96 811.89H1050.36" stroke="#de3838" stroke-width="1.25" stroke-opacity="0.85" fill="none"/><path d="M1051.87 767.83V796.43M1048.17 767.83H1055.57M1048.17 796.43H1055.57" stroke="#de3838" stroke-width="1.25" stroke-opacity="0.85" fill="none"/><path d="M1057.08 768.60V807.25M1053.38 768.60H1060.78M1053.38 807.25H1060.78" stroke="#de3838" stroke-width="1.25" stroke-opacity="0.85" fill="none"/><path d="M1062.29 786.38V806.48M1058.59 786.38H1065.99M1058.59 806.48H1065.99" stroke="#de3838" stroke-width="1.25" stroke-opacity="0.85" fill="none"/><path d="M1067.50 755.46V789.47M1063.80 755.46H1071.20M1063.80 789.47H1071.20" stroke="#de3838" stroke-width="1.25" stroke-opacity="0.85" fill="none"/><path d="M1072.71 793.34V816.52M1069.01 793.34H1076.41M1069.01 816.52H1076.41" stroke="#de3838" stroke-width="1.25" stroke-opacity="0.85" fill="none"/><path d="M1077.92 780.97V797.97M1074.22 780.97H1081.62M1074.22 797.97H1081.62" stroke="#de3838" stroke-width="1.25" stroke-opacity="0.85" fill="none"/><path d="M1083.12 759.33V777.10M1079.42 759.33H1086.82M1079.42 777.10H1086.82" stroke="#de3838" stroke-width="1.25" stroke-opacity="0.85" fill="none"/><path d="M1088.33 768.60V794.88M1084.63 768.60H1092.03M1084.63 794.88H1092.03" stroke="#de3838" stroke-width="1.25" stroke-opacity="0.85" fill="none"/><path d="M1093.54 760.87V769.38M1089.84 760.87H1097.24M1089.84 769.38H1097.24" stroke="#de3838" stroke-width="1.25" stroke-opacity="0.85" fill="none"/><path d="M1098.75 779.42V784.83M1095.05 779.42H1102.45M1095.05 784.83H1102.45" stroke="#de3838" stroke-width="1.25" stroke-opacity="0.85" fill="none"/><path d="M1103.96 787.93V793.34M1100.26 787.93H1107.66M1100.26 793.34H1107.66" stroke="#de3838" stroke-width="1.25" stroke-opacity="0.85" fill="none"/><circle cx="895.58" cy="791.02" r="2.75" fill="#0a0ae6"/><circle cx="900.79" cy="796.89" r="2.75" fill="#0a0ae6"/><circle cx="906.00" cy="787.93" r="2.75" fill="#0a0ae6"/><circle cx="911.21" cy="808.02" r="2.75" fill="#0a0ae6"/><circle cx="916.42" cy="757.78" r="2.75" fill="#0a0ae6"/><circle cx="921.63" cy="776.33" r="2.75" fill="#0a0ae6"/><circle cx="926.84" cy="801.53" r="2.75" fill="#0a0ae6"/><circle cx="932.05" cy="793.80" r="2.75" fill="#0a0ae6"/><circle cx="937.26" cy="785.61" r="2.75" fill="#0a0ae6"/><circle cx="942.47" cy="813.90" r="2.75" fill="#0a0ae6"/><circle cx="952.89" cy="787.93" r="2.75" fill="#0a0ae6"/><circle cx="958.10" cy="772.78" r="2.75" fill="#0a0ae6"/><circle cx="963.31" cy="740.47" r="2.75" fill="#0a0ae6"/><circle cx="968.52" cy="824.56" r="2.75" fill="#0a0ae6"/><circle cx="973.73" cy="809.88" r="2.75" fill="#0a0ae6"/><circle cx="978.94" cy="791.02" r="2.75" fill="#0a0ae6"/><circle cx="984.14" cy="787.93" r="2.75" fill="#0a0ae6"/><circle cx="989.35" cy="802.61" r="2.75" fill="#0a0ae6"/><circle cx="994.56" cy="777.88" r="2.75" fill="#0a0ae6"/><circle cx="999.77" cy="784.83" r="2.75" fill="#0a0ae6"/><circle cx="1004.98" cy="791.79" r="2.75" fill="#0a0ae6"/><circle cx="1010.19" cy="797.20" r="2.75" fill="#0a0ae6"/><circle cx="1015.40" cy="778.34" r="2.75" fill="#0a0ae6"/><circle cx="1020.61" cy="799.52" r="2.75" fill="#0a0ae6"/><circle cx="1025.82" cy="787.93" r="2.75" fill="#0a0ae6"/><circle cx="1031.03" cy="794.42" r="2.75" fill="#0a0ae6"/><circle cx="1036.24" cy="793.34" r="2.75" fill="#0a0ae6"/><circle cx="1041.45" cy="782.51" r="2.75" fill="#0a0ae6"/><circle cx="1046.66" cy="783.29" r="2.75" fill="#0a0ae6"/><circle cx="1051.87" cy="788.70" r="2.75" fill="#0a0ae6"/><circle cx="1057.08" cy="803.07" r="2.75" fill="#0a0ae6"/><circle cx="1062.29" cy="782.21" r="2.75" fill="#0a0ae6"/><circle cx="1067.50" cy="767.06" r="2.75" fill="#0a0ae6"/><circle cx="1072.71" cy="779.42" r="2.75" fill="#0a0ae6"/><circle cx="1077.92" cy="781.43" r="2.75" fill="#0a0ae6"/><circle cx="1083.12" cy="801.53" r="2.75" fill="#0a0ae6"/><circle cx="1088.33" cy="778.34" r="2.75" fill="#0a0ae6"/><circle cx="1093.54" cy="777.10" r="2.75" fill="#0a0ae6"/><circle cx="1098.75" cy="755.77" r="2.75" fill="#0a0ae6"/><circle cx="1103.96" cy="749.28" r="2.75" fill="#0a0ae6"/><circle cx="895.58" cy="826.88" r="2.75" fill="#ea0a0a"/><circle cx="900.79" cy="779.42" r="2.75" fill="#ea0a0a"/><circle cx="906.00" cy="798.75" r="2.75" fill="#ea0a0a"/><circle cx="911.21" cy="777.10" r="2.75" fill="#ea0a0a"/><circle cx="916.42" cy="782.21" r="2.75" fill="#ea0a0a"/><circle cx="921.63" cy="790.24" r="2.75" fill="#ea0a0a"/><circle cx="926.84" cy="784.06" r="2.75" fill="#ea0a0a"/><circle cx="932.05" cy="781.43" r="2.75" fill="#ea0a0a"/><circle cx="937.26" cy="826.88" r="2.75" fill="#ea0a0a"/><circle cx="942.47" cy="784.83" r="2.75" fill="#ea0a0a"/><circle cx="947.68" cy="791.02" r="2.75" fill="#ea0a0a"/><circle cx="952.89" cy="799.98" r="2.75" fill="#ea0a0a"/><circle cx="958.10" cy="798.75" r="2.75" fill="#ea0a0a"/><circle cx="963.31" cy="773.24" r="2.75" fill="#ea0a0a"/><circle cx="968.52" cy="798.44" r="2.75" fill="#ea0a0a"/><circle cx="973.73" cy="794.88" r="2.75" fill="#ea0a0a"/><circle cx="978.94" cy="781.43" r="2.75" fill="#ea0a0a"/><circle cx="984.14" cy="762.88" r="2.75" fill="#ea0a0a"/><circle cx="989.35" cy="792.56" r="2.75" fill="#ea0a0a"/><circle cx="994.56" cy="773.24" r="2.75" fill="#ea0a0a"/><circle cx="999.77" cy="773.24" r="2.75" fill="#ea0a0a"/><circle cx="1004.98" cy="775.56" r="2.75" fill="#ea0a0a"/><circle cx="1010.19" cy="793.34" r="2.75" fill="#ea0a0a"/><circle cx="1015.40" cy="765.05" r="2.75" fill="#ea0a0a"/><circle cx="1020.61" cy="792.56" r="2.75" fill="#ea0a0a"/><circle cx="1025.82" cy="764.43" r="2.75" fill="#ea0a0a"/><circle cx="1031.03" cy="742.32" r="2.75" fill="#ea0a0a"/><circle cx="1036.24" cy="779.42" r="2.75" fill="#ea0a0a"/><circle cx="1041.45" cy="823.48" r="2.75" fill="#ea0a0a"/><circle cx="1046.66" cy="803.07" r="2.75" fill="#ea0a0a"/><circle cx="1051.87" cy="782.05" r="2.75" fill="#ea0a0a"/><circle cx="1057.08" cy="787.93" r="2.75" fill="#ea0a0a"/><circle cx="1062.29" cy="795.96" r="2.75" fill="#ea0a0a"/><circle cx="1067.50" cy="772.47" r="2.75" fill="#ea0a0a"/><circle cx="1072.71" cy="804.93" r="2.75" fill="#ea0a0a"/><circle cx="1077.92" cy="789.47" r="2.75" fill="#ea0a0a"/><circle cx="1083.12" cy="768.14" r="2.75" fill="#ea0a0a"/><circle cx="1088.33" cy="781.43" r="2.75" fill="#ea0a0a"/><circle cx="1093.54" cy="765.05" r="2.75" fill="#ea0a0a"/><circle cx="1098.75" cy="782.21" r="2.75" fill="#ea0a0a"/><circle cx="1103.96" cy="790.71" r="2.75" fill="#ea0a0a"/></g><g clip-path="url(#k11)"><path d="M1121.50 770.15V774.79M1117.80 770.15H1125.20M1117.80 774.79H1125.20" stroke="#3535bc" stroke-width="1.25" stroke-opacity="0.85" fill="none"/><path d="M1126.74 758.55V787.15M1123.04 758.55H1130.44M1123.04 787.15H1130.44" stroke="#3535bc" stroke-width="1.25" stroke-opacity="0.85" fill="none"/><path d="M1131.98 752.37V757.01M1128.28 752.37H1135.68M1128.28 757.01H1135.68" stroke="#3535bc" stroke-width="1.25" stroke-opacity="0.85" fill="none"/><path d="M1137.22 744.64V799.52M1133.52 744.64H1140.92M1133.52 799.52H1140.92" stroke="#3535bc" stroke-width="1.25" stroke-opacity="0.85" fill="none"/><path d="M1142.46 776.33V804.16M1138.76 776.33H1146.16M1138.76 804.16H1146.16" stroke="#3535bc" stroke-width="1.25" stroke-opacity="0.85" fill="none"/><path d="M1147.70 754.69V764.74M1144.00 754.69H1151.40M1144.00 764.74H1151.40" stroke="#3535bc" stroke-width="1.25" stroke-opacity="0.85" fill="none"/><path d="M1152.94 768.60V780.97M1149.24 768.60H1156.64M1149.24 780.97H1156.64" stroke="#3535bc" stroke-width="1.25" stroke-opacity="0.85" fill="none"/><path d="M1158.18 752.37V776.33M1154.48 752.37H1161.88M1154.48 776.33H1161.88" stroke="#3535bc" stroke-width="1.25" stroke-opacity="0.85" fill="none"/><path d="M1163.43 750.05V785.61M1159.73 750.05H1167.13M1159.73 785.61H1167.13" stroke="#3535bc" stroke-width="1.25" stroke-opacity="0.85" fill="none"/><path d="M1168.67 751.60V770.15M1164.97 751.60H1172.37M1164.97 770.15H1172.37" stroke="#3535bc" stroke-width="1.25" stroke-opacity="0.85" fill="none"/><path d="M1173.91 786.38V798.75M1170.21 786.38H1177.61M1170.21 798.75H1177.61" stroke="#3535bc" stroke-width="1.25" stroke-opacity="0.85" fill="none"/><path d="M1179.15 768.60V813.43M1175.45 768.60H1182.85M1175.45 813.43H1182.85" stroke="#3535bc" stroke-width="1.25" stroke-opacity="0.85" fill="none"/><path d="M1184.39 794.11V802.61M1180.69 794.11H1188.09M1180.69 802.61H1188.09" stroke="#3535bc" stroke-width="1.25" stroke-opacity="0.85" fill="none"/><path d="M1189.63 781.74V795.65M1185.93 781.74H1193.33M1185.93 795.65H1193.33" stroke="#3535bc" stroke-width="1.25" stroke-opacity="0.85" fill="none"/><path d="M1194.87 808.79V834.30M1191.17 808.79H1198.57M1191.17 834.30H1198.57" stroke="#3535bc" stroke-width="1.25" stroke-opacity="0.85" fill="none"/><path d="M1200.11 820.39V829.66M1196.41 820.39H1203.81M1196.41 829.66H1203.81" stroke="#3535bc" stroke-width="1.25" stroke-opacity="0.85" fill="none"/><path d="M1205.35 820.39V847.44M1201.65 820.39H1209.05M1201.65 847.44H1209.05" stroke="#3535bc" stroke-width="1.25" stroke-opacity="0.85" fill="none"/><path d="M1210.59 834.30V853.62M1206.89 834.30H1214.29M1206.89 853.62H1214.29" stroke="#3535bc" stroke-width="1.25" stroke-opacity="0.85" fill="none"/><path d="M1215.83 818.84V830.44M1212.13 818.84H1219.53M1212.13 830.44H1219.53" stroke="#3535bc" stroke-width="1.25" stroke-opacity="0.85" fill="none"/><path d="M1221.07 832.75V851.30M1217.37 832.75H1224.77M1217.37 851.30H1224.77" stroke="#3535bc" stroke-width="1.25" stroke-opacity="0.85" fill="none"/><path d="M1226.31 825.03V845.12M1222.61 825.03H1230.01M1222.61 845.12H1230.01" stroke="#3535bc" stroke-width="1.25" stroke-opacity="0.85" fill="none"/><path d="M1231.55 821.93V827.34M1227.85 821.93H1235.25M1227.85 827.34H1235.25" stroke="#3535bc" stroke-width="1.25" stroke-opacity="0.85" fill="none"/><path d="M1236.79 815.75V834.30M1233.09 815.75H1240.49M1233.09 834.30H1240.49" stroke="#3535bc" stroke-width="1.25" stroke-opacity="0.85" fill="none"/><path d="M1242.03 834.30V844.35M1238.33 834.30H1245.73M1238.33 844.35H1245.73" stroke="#3535bc" stroke-width="1.25" stroke-opacity="0.85" fill="none"/><path d="M1247.27 807.25V828.89M1243.57 807.25H1250.97M1243.57 828.89H1250.97" stroke="#3535bc" stroke-width="1.25" stroke-opacity="0.85" fill="none"/><path d="M1252.51 792.56V829.66M1248.81 792.56H1256.21M1248.81 829.66H1256.21" stroke="#3535bc" stroke-width="1.25" stroke-opacity="0.85" fill="none"/><path d="M1257.75 801.84V822.71M1254.05 801.84H1261.45M1254.05 822.71H1261.45" stroke="#3535bc" stroke-width="1.25" stroke-opacity="0.85" fill="none"/><path d="M1262.99 792.56V818.84M1259.29 792.56H1266.69M1259.29 818.84H1266.69" stroke="#3535bc" stroke-width="1.25" stroke-opacity="0.85" fill="none"/><path d="M1268.23 789.47V823.48M1264.53 789.47H1271.93M1264.53 823.48H1271.93" stroke="#3535bc" stroke-width="1.25" stroke-opacity="0.85" fill="none"/><path d="M1273.47 798.75V816.52M1269.77 798.75H1277.17M1269.77 816.52H1277.17" stroke="#3535bc" stroke-width="1.25" stroke-opacity="0.85" fill="none"/><path d="M1278.71 791.79V797.97M1275.01 791.79H1282.41M1275.01 797.97H1282.41" stroke="#3535bc" stroke-width="1.25" stroke-opacity="0.85" fill="none"/><path d="M1283.95 776.33V813.43M1280.25 776.33H1287.65M1280.25 813.43H1287.65" stroke="#3535bc" stroke-width="1.25" stroke-opacity="0.85" fill="none"/><path d="M1289.19 810.34V819.61M1285.49 810.34H1292.89M1285.49 819.61H1292.89" stroke="#3535bc" stroke-width="1.25" stroke-opacity="0.85" fill="none"/><path d="M1294.43 801.84V811.11M1290.73 801.84H1298.13M1290.73 811.11H1298.13" stroke="#3535bc" stroke-width="1.25" stroke-opacity="0.85" fill="none"/><path d="M1299.67 794.88V820.39M1295.97 794.88H1303.37M1295.97 820.39H1303.37" stroke="#3535bc" stroke-width="1.25" stroke-opacity="0.85" fill="none"/><path d="M1304.92 789.47V816.52M1301.22 789.47H1308.62M1301.22 816.52H1308.62" stroke="#3535bc" stroke-width="1.25" stroke-opacity="0.85" fill="none"/><path d="M1310.16 804.93V814.20M1306.46 804.93H1313.86M1306.46 814.20H1313.86" stroke="#3535bc" stroke-width="1.25" stroke-opacity="0.85" fill="none"/><path d="M1315.40 813.43V821.16M1311.70 813.43H1319.10M1311.70 821.16H1319.10" stroke="#3535bc" stroke-width="1.25" stroke-opacity="0.85" fill="none"/><path d="M1320.64 815.75V833.53M1316.94 815.75H1324.34M1316.94 833.53H1324.34" stroke="#3535bc" stroke-width="1.25" stroke-opacity="0.85" fill="none"/><path d="M1325.88 821.93V843.58M1322.18 821.93H1329.58M1322.18 843.58H1329.58" stroke="#3535bc" stroke-width="1.25" stroke-opacity="0.85" fill="none"/><path d="M1331.12 833.53V854.40M1327.42 833.53H1334.82M1327.42 854.40H1334.82" stroke="#3535bc" stroke-width="1.25" stroke-opacity="0.85" fill="none"/><path d="M1121.50 728.41V737.69M1117.80 728.41H1125.20M1117.80 737.69H1125.20" stroke="#de3838" stroke-width="1.25" stroke-opacity="0.85" fill="none"/><path d="M1126.74 775.56V823.48M1123.04 775.56H1130.44M1123.04 823.48H1130.44" stroke="#de3838" stroke-width="1.25" stroke-opacity="0.85" fill="none"/><path d="M1131.98 742.32V755.46M1128.28 742.32H1135.68M1128.28 755.46H1135.68" stroke="#de3838" stroke-width="1.25" stroke-opacity="0.85" fill="none"/><path d="M1137.22 724.55V774.01M1133.52 724.55H1140.92M1133.52 774.01H1140.92" stroke="#de3838" stroke-width="1.25" stroke-opacity="0.85" fill="none"/><path d="M1142.46 729.18V775.56M1138.76 729.18H1146.16M1138.76 775.56H1146.16" stroke="#de3838" stroke-width="1.25" stroke-opacity="0.85" fill="none"/><path d="M1147.70 739.23V748.51M1144.00 739.23H1151.40M1144.00 748.51H1151.40" stroke="#de3838" stroke-width="1.25" stroke-opacity="0.85" fill="none"/><path d="M1152.94 751.60V790.24M1149.24 751.60H1156.64M1149.24 790.24H1156.64" stroke="#de3838" stroke-width="1.25" stroke-opacity="0.85" fill="none"/><path d="M1158.18 746.19V794.11M1154.48 746.19H1161.88M1154.48 794.11H1161.88" stroke="#de3838" stroke-width="1.25" stroke-opacity="0.85" fill="none"/><path d="M1163.43 750.05V781.74M1159.73 750.05H1167.13M1159.73 781.74H1167.13" stroke="#de3838" stroke-width="1.25" stroke-opacity="0.85" fill="none"/><path d="M1168.67 754.69V790.24M1164.97 754.69H1172.37M1164.97 790.24H1172.37" stroke="#de3838" stroke-width="1.25" stroke-opacity="0.85" fill="none"/><path d="M1173.91 752.37V768.60M1170.21 752.37H1177.61M1170.21 768.60H1177.61" stroke="#de3838" stroke-width="1.25" stroke-opacity="0.85" fill="none"/><path d="M1179.15 745.41V775.56M1175.45 745.41H1182.85M1175.45 775.56H1182.85" stroke="#de3838" stroke-width="1.25" stroke-opacity="0.85" fill="none"/><path d="M1184.39 769.38V792.56M1180.69 769.38H1188.09M1180.69 792.56H1188.09" stroke="#de3838" stroke-width="1.25" stroke-opacity="0.85" fill="none"/><path d="M1189.63 770.15V785.61M1185.93 770.15H1193.33M1185.93 785.61H1193.33" stroke="#de3838" stroke-width="1.25" stroke-opacity="0.85" fill="none"/><path d="M1194.87 753.14V791.02M1191.17 753.14H1198.57M1191.17 791.02H1198.57" stroke="#de3838" stroke-width="1.25" stroke-opacity="0.85" fill="none"/><path d="M1200.11 757.01V774.01M1196.41 757.01H1203.81M1196.41 774.01H1203.81" stroke="#de3838" stroke-width="1.25" stroke-opacity="0.85" fill="none"/><path d="M1205.35 787.15V798.75M1201.65 787.15H1209.05M1201.65 798.75H1209.05" stroke="#de3838" stroke-width="1.25" stroke-opacity="0.85" fill="none"/><path d="M1210.59 801.06V814.98M1206.89 801.06H1214.29M1206.89 814.98H1214.29" stroke="#de3838" stroke-width="1.25" stroke-opacity="0.85" fill="none"/><path d="M1215.83 808.79V818.84M1212.13 808.79H1219.53M1212.13 818.84H1219.53" stroke="#de3838" stroke-width="1.25" stroke-opacity="0.85" fill="none"/><path d="M1221.07 805.70V816.52M1217.37 805.70H1224.77M1217.37 816.52H1224.77" stroke="#de3838" stroke-width="1.25" stroke-opacity="0.85" fill="none"/><path d="M1226.31 801.06V816.52M1222.61 801.06H1230.01M1222.61 816.52H1230.01" stroke="#de3838" stroke-width="1.25" stroke-opacity="0.85" fill="none"/><path d="M1231.55 786.38V813.43M1227.85 786.38H1235.25M1227.85 813.43H1235.25" stroke="#de3838" stroke-width="1.25" stroke-opacity="0.85" fill="none"/><path d="M1236.79 784.83V797.97M1233.09 784.83H1240.49M1233.09 797.97H1240.49" stroke="#de3838" stroke-width="1.25" stroke-opacity="0.85" fill="none"/><path d="M1242.03 809.57V818.07M1238.33 809.57H1245.73M1238.33 818.07H1245.73" stroke="#de3838" stroke-width="1.25" stroke-opacity="0.85" fill="none"/><path d="M1247.27 780.97V790.24M1243.57 780.97H1250.97M1243.57 790.24H1250.97" stroke="#de3838" stroke-width="1.25" stroke-opacity="0.85" fill="none"/><path d="M1252.51 777.88V799.52M1248.81 777.88H1256.21M1248.81 799.52H1256.21" stroke="#de3838" stroke-width="1.25" stroke-opacity="0.85" fill="none"/><path d="M1257.75 737.69V762.42M1254.05 737.69H1261.45M1254.05 762.42H1261.45" stroke="#de3838" stroke-width="1.25" stroke-opacity="0.85" fill="none"/><path d="M1262.99 792.56V825.03M1259.29 792.56H1266.69M1259.29 825.03H1266.69" stroke="#de3838" stroke-width="1.25" stroke-opacity="0.85" fill="none"/><path d="M1268.23 794.11V826.57M1264.53 794.11H1271.93M1264.53 826.57H1271.93" stroke="#de3838" stroke-width="1.25" stroke-opacity="0.85" fill="none"/><path d="M1273.47 776.33V791.79M1269.77 776.33H1277.17M1269.77 791.79H1277.17" stroke="#de3838" stroke-width="1.25" stroke-opacity="0.85" fill="none"/><path d="M1278.71 807.25V832.75M1275.01 807.25H1282.41M1275.01 832.75H1282.41" stroke="#de3838" stroke-width="1.25" stroke-opacity="0.85" fill="none"/><path d="M1283.95 776.33V814.20M1280.25 776.33H1287.65M1280.25 814.20H1287.65" stroke="#de3838" stroke-width="1.25" stroke-opacity="0.85" fill="none"/><path d="M1289.19 780.97V799.52M1285.49 780.97H1292.89M1285.49 799.52H1292.89" stroke="#de3838" stroke-width="1.25" stroke-opacity="0.85" fill="none"/><path d="M1294.43 787.15V816.52M1290.73 787.15H1298.13M1290.73 816.52H1298.13" stroke="#de3838" stroke-width="1.25" stroke-opacity="0.85" fill="none"/><path d="M1299.67 775.56V796.43M1295.97 775.56H1303.37M1295.97 796.43H1303.37" stroke="#de3838" stroke-width="1.25" stroke-opacity="0.85" fill="none"/><path d="M1304.92 790.24V810.34M1301.22 790.24H1308.62M1301.22 810.34H1308.62" stroke="#de3838" stroke-width="1.25" stroke-opacity="0.85" fill="none"/><path d="M1310.16 803.38V818.07M1306.46 803.38H1313.86M1306.46 818.07H1313.86" stroke="#de3838" stroke-width="1.25" stroke-opacity="0.85" fill="none"/><path d="M1315.40 814.98V836.62M1311.70 814.98H1319.10M1311.70 836.62H1319.10" stroke="#de3838" stroke-width="1.25" stroke-opacity="0.85" fill="none"/><path d="M1320.64 810.34V819.61M1316.94 810.34H1324.34M1316.94 819.61H1324.34" stroke="#de3838" stroke-width="1.25" stroke-opacity="0.85" fill="none"/><path d="M1325.88 815.75V825.03M1322.18 815.75H1329.58M1322.18 825.03H1329.58" stroke="#de3838" stroke-width="1.25" stroke-opacity="0.85" fill="none"/><path d="M1331.12 807.25V815.75M1327.42 807.25H1334.82M1327.42 815.75H1334.82" stroke="#de3838" stroke-width="1.25" stroke-opacity="0.85" fill="none"/><circle cx="1121.50" cy="772.47" r="2.75" fill="#0a0ae6"/><circle cx="1126.74" cy="772.78" r="2.75" fill="#0a0ae6"/><circle cx="1131.98" cy="754.69" r="2.75" fill="#0a0ae6"/><circle cx="1137.22" cy="772.16" r="2.75" fill="#0a0ae6"/><circle cx="1142.46" cy="790.24" r="2.75" fill="#0a0ae6"/><circle cx="1147.70" cy="759.64" r="2.75" fill="#0a0ae6"/><circle cx="1152.94" cy="774.79" r="2.75" fill="#0a0ae6"/><circle cx="1158.18" cy="764.43" r="2.75" fill="#0a0ae6"/><circle cx="1163.43" cy="767.83" r="2.75" fill="#0a0ae6"/><circle cx="1168.67" cy="760.87" r="2.75" fill="#0a0ae6"/><circle cx="1173.91" cy="792.56" r="2.75" fill="#0a0ae6"/><circle cx="1179.15" cy="791.02" r="2.75" fill="#0a0ae6"/><circle cx="1184.39" cy="798.44" r="2.75" fill="#0a0ae6"/><circle cx="1189.63" cy="788.70" r="2.75" fill="#0a0ae6"/><circle cx="1194.87" cy="821.47" r="2.75" fill="#0a0ae6"/><circle cx="1200.11" cy="825.03" r="2.75" fill="#0a0ae6"/><circle cx="1205.35" cy="833.99" r="2.75" fill="#0a0ae6"/><circle cx="1210.59" cy="843.88" r="2.75" fill="#0a0ae6"/><circle cx="1215.83" cy="824.56" r="2.75" fill="#0a0ae6"/><circle cx="1221.07" cy="841.72" r="2.75" fill="#0a0ae6"/><circle cx="1226.31" cy="835.07" r="2.75" fill="#0a0ae6"/><circle cx="1231.55" cy="824.56" r="2.75" fill="#0a0ae6"/><circle cx="1236.79" cy="825.03" r="2.75" fill="#0a0ae6"/><circle cx="1242.03" cy="839.25" r="2.75" fill="#0a0ae6"/><circle cx="1247.27" cy="818.07" r="2.75" fill="#0a0ae6"/><circle cx="1252.51" cy="811.42" r="2.75" fill="#0a0ae6"/><circle cx="1257.75" cy="812.35" r="2.75" fill="#0a0ae6"/><circle cx="1262.99" cy="805.70" r="2.75" fill="#0a0ae6"/><circle cx="1268.23" cy="806.48" r="2.75" fill="#0a0ae6"/><circle cx="1273.47" cy="807.71" r="2.75" fill="#0a0ae6"/><circle cx="1278.71" cy="794.88" r="2.75" fill="#0a0ae6"/><circle cx="1283.95" cy="794.88" r="2.75" fill="#0a0ae6"/><circle cx="1289.19" cy="814.98" r="2.75" fill="#0a0ae6"/><circle cx="1294.43" cy="806.48" r="2.75" fill="#0a0ae6"/><circle cx="1299.67" cy="807.71" r="2.75" fill="#0a0ae6"/><circle cx="1304.92" cy="803.07" r="2.75" fill="#0a0ae6"/><circle cx="1310.16" cy="809.57" r="2.75" fill="#0a0ae6"/><circle cx="1315.40" cy="817.30" r="2.75" fill="#0a0ae6"/><circle cx="1320.64" cy="824.72" r="2.75" fill="#0a0ae6"/><circle cx="1325.88" cy="833.06" r="2.75" fill="#0a0ae6"/><circle cx="1331.12" cy="845.43" r="2.75" fill="#0a0ae6"/><circle cx="1121.50" cy="733.05" r="2.75" fill="#ea0a0a"/><circle cx="1126.74" cy="799.52" r="2.75" fill="#ea0a0a"/><circle cx="1131.98" cy="748.97" r="2.75" fill="#ea0a0a"/><circle cx="1137.22" cy="749.28" r="2.75" fill="#ea0a0a"/><circle cx="1142.46" cy="752.37" r="2.75" fill="#ea0a0a"/><circle cx="1147.70" cy="743.87" r="2.75" fill="#ea0a0a"/><circle cx="1152.94" cy="770.92" r="2.75" fill="#ea0a0a"/><circle cx="1158.18" cy="770.15" r="2.75" fill="#ea0a0a"/><circle cx="1163.43" cy="765.97" r="2.75" fill="#ea0a0a"/><circle cx="1168.67" cy="772.47" r="2.75" fill="#ea0a0a"/><circle cx="1173.91" cy="760.41" r="2.75" fill="#ea0a0a"/><circle cx="1179.15" cy="760.41" r="2.75" fill="#ea0a0a"/><circle cx="1184.39" cy="780.97" r="2.75" fill="#ea0a0a"/><circle cx="1189.63" cy="777.88" r="2.75" fill="#ea0a0a"/><circle cx="1194.87" cy="772.16" r="2.75" fill="#ea0a0a"/><circle cx="1200.11" cy="765.51" r="2.75" fill="#ea0a0a"/><circle cx="1205.35" cy="793.34" r="2.75" fill="#ea0a0a"/><circle cx="1210.59" cy="807.71" r="2.75" fill="#ea0a0a"/><circle cx="1215.83" cy="813.90" r="2.75" fill="#ea0a0a"/><circle cx="1221.07" cy="811.11" r="2.75" fill="#ea0a0a"/><circle cx="1226.31" cy="808.79" r="2.75" fill="#ea0a0a"/><circle cx="1231.55" cy="799.98" r="2.75" fill="#ea0a0a"/><circle cx="1236.79" cy="791.33" r="2.75" fill="#ea0a0a"/><circle cx="1242.03" cy="813.90" r="2.75" fill="#ea0a0a"/><circle cx="1247.27" cy="785.61" r="2.75" fill="#ea0a0a"/><circle cx="1252.51" cy="788.70" r="2.75" fill="#ea0a0a"/><circle cx="1257.75" cy="750.52" r="2.75" fill="#ea0a0a"/><circle cx="1262.99" cy="808.79" r="2.75" fill="#ea0a0a"/><circle cx="1268.23" cy="810.34" r="2.75" fill="#ea0a0a"/><circle cx="1273.47" cy="784.06" r="2.75" fill="#ea0a0a"/><circle cx="1278.71" cy="820.08" r="2.75" fill="#ea0a0a"/><circle cx="1283.95" cy="796.89" r="2.75" fill="#ea0a0a"/><circle cx="1289.19" cy="790.24" r="2.75" fill="#ea0a0a"/><circle cx="1294.43" cy="801.84" r="2.75" fill="#ea0a0a"/><circle cx="1299.67" cy="786.07" r="2.75" fill="#ea0a0a"/><circle cx="1304.92" cy="800.29" r="2.75" fill="#ea0a0a"/><circle cx="1310.16" cy="810.80" r="2.75" fill="#ea0a0a"/><circle cx="1315.40" cy="825.80" r="2.75" fill="#ea0a0a"/><circle cx="1320.64" cy="814.98" r="2.75" fill="#ea0a0a"/><circle cx="1325.88" cy="820.39" r="2.75" fill="#ea0a0a"/><circle cx="1331.12" cy="811.42" r="2.75" fill="#ea0a0a"/></g><g clip-path="url(#k12)"><path d="M895.58 959.02V962.89M891.88 959.02H899.28M891.88 962.89H899.28" stroke="#3f843f" stroke-width="1.25" stroke-opacity="0.85" fill="none"/><path d="M900.79 924.24V955.16M897.09 924.24H904.49M897.09 955.16H904.49" stroke="#3f843f" stroke-width="1.25" stroke-opacity="0.85" fill="none"/><path d="M906.00 940.47V948.97M902.30 940.47H909.70M902.30 948.97H909.70" stroke="#3f843f" stroke-width="1.25" stroke-opacity="0.85" fill="none"/><path d="M911.21 922.69V965.20M907.51 922.69H914.91M907.51 965.20H914.91" stroke="#3f843f" stroke-width="1.25" stroke-opacity="0.85" fill="none"/><path d="M916.42 906.46V936.61M912.72 906.46H920.12M912.72 936.61H920.12" stroke="#3f843f" stroke-width="1.25" stroke-opacity="0.85" fill="none"/><path d="M921.63 931.20V938.93M917.93 931.20H925.33M917.93 938.93H925.33" stroke="#3f843f" stroke-width="1.25" stroke-opacity="0.85" fill="none"/><path d="M926.84 933.51V955.16M923.14 933.51H930.54M923.14 955.16H930.54" stroke="#3f843f" stroke-width="1.25" stroke-opacity="0.85" fill="none"/><path d="M932.05 924.24V953.61M928.35 924.24H935.75M928.35 953.61H935.75" stroke="#3f843f" stroke-width="1.25" stroke-opacity="0.85" fill="none"/><path d="M937.26 944.34V971.39M933.56 944.34H940.96M933.56 971.39H940.96" stroke="#3f843f" stroke-width="1.25" stroke-opacity="0.85" fill="none"/><path d="M942.47 939.70V962.11M938.77 939.70H946.17M938.77 962.11H946.17" stroke="#3f843f" stroke-width="1.25" stroke-opacity="0.85" fill="none"/><path d="M947.68 936.61V947.43M943.98 936.61H951.38M943.98 947.43H951.38" stroke="#3f843f" stroke-width="1.25" stroke-opacity="0.85" fill="none"/><path d="M952.89 930.42V960.57M949.19 930.42H956.59M949.19 960.57H956.59" stroke="#3f843f" stroke-width="1.25" stroke-opacity="0.85" fill="none"/><path d="M958.10 929.65V944.34M954.40 929.65H961.80M954.40 944.34H961.80" stroke="#3f843f" stroke-width="1.25" stroke-opacity="0.85" fill="none"/><path d="M963.31 901.05V915.43M959.61 901.05H967.01M959.61 915.43H967.01" stroke="#3f843f" stroke-width="1.25" stroke-opacity="0.85" fill="none"/><path d="M968.52 950.52V975.25M964.82 950.52H972.22M964.82 975.25H972.22" stroke="#3f843f" stroke-width="1.25" stroke-opacity="0.85" fill="none"/><path d="M973.73 948.20V959.33M970.03 948.20H977.43M970.03 959.33H977.43" stroke="#3f843f" stroke-width="1.25" stroke-opacity="0.85" fill="none"/><path d="M978.94 929.65V945.88M975.24 929.65H982.64M975.24 945.88H982.64" stroke="#3f843f" stroke-width="1.25" stroke-opacity="0.85" fill="none"/><path d="M984.14 920.38V933.51M980.44 920.38H987.84M980.44 933.51H987.84" stroke="#3f843f" stroke-width="1.25" stroke-opacity="0.85" fill="none"/><path d="M989.35 944.34V953.61M985.65 944.34H993.05M985.65 953.61H993.05" stroke="#3f843f" stroke-width="1.25" stroke-opacity="0.85" fill="none"/><path d="M994.56 921.15V932.74M990.86 921.15H998.26M990.86 932.74H998.26" stroke="#3f843f" stroke-width="1.25" stroke-opacity="0.85" fill="none"/><path d="M999.77 923.78V937.38M996.07 923.78H1003.47M996.07 937.38H1003.47" stroke="#3f843f" stroke-width="1.25" stroke-opacity="0.85" fill="none"/><path d="M1004.98 928.10V942.79M1001.28 928.10H1008.68M1001.28 942.79H1008.68" stroke="#3f843f" stroke-width="1.25" stroke-opacity="0.85" fill="none"/><path d="M1010.19 942.02V952.06M1006.49 942.02H1013.89M1006.49 952.06H1013.89" stroke="#3f843f" stroke-width="1.25" stroke-opacity="0.85" fill="none"/><path d="M1015.40 919.60V927.33M1011.70 919.60H1019.10M1011.70 927.33H1019.10" stroke="#3f843f" stroke-width="1.25" stroke-opacity="0.85" fill="none"/><path d="M1020.61 942.79V953.61M1016.91 942.79H1024.31M1016.91 953.61H1024.31" stroke="#3f843f" stroke-width="1.25" stroke-opacity="0.85" fill="none"/><path d="M1025.82 915.74V939.70M1022.12 915.74H1029.52M1022.12 939.70H1029.52" stroke="#3f843f" stroke-width="1.25" stroke-opacity="0.85" fill="none"/><path d="M1031.03 910.79V928.88M1027.33 910.79H1034.73M1027.33 928.88H1034.73" stroke="#3f843f" stroke-width="1.25" stroke-opacity="0.85" fill="none"/><path d="M1036.24 926.56V948.97M1032.54 926.56H1039.94M1032.54 948.97H1039.94" stroke="#3f843f" stroke-width="1.25" stroke-opacity="0.85" fill="none"/><path d="M1041.45 942.79V965.98M1037.75 942.79H1045.15M1037.75 965.98H1045.15" stroke="#3f843f" stroke-width="1.25" stroke-opacity="0.85" fill="none"/><path d="M1046.66 938.93V950.52M1042.96 938.93H1050.36M1042.96 950.52H1050.36" stroke="#3f843f" stroke-width="1.25" stroke-opacity="0.85" fill="none"/><path d="M1051.87 929.65V943.56M1048.17 929.65H1055.57M1048.17 943.56H1055.57" stroke="#3f843f" stroke-width="1.25" stroke-opacity="0.85" fill="none"/><path d="M1057.08 932.74V961.34M1053.38 932.74H1060.78M1053.38 961.34H1060.78" stroke="#3f843f" stroke-width="1.25" stroke-opacity="0.85" fill="none"/><path d="M1062.29 935.06V946.65M1058.59 935.06H1065.99M1058.59 946.65H1065.99" stroke="#3f843f" stroke-width="1.25" stroke-opacity="0.85" fill="none"/><path d="M1067.50 912.65V929.65M1063.80 912.65H1071.20M1063.80 929.65H1071.20" stroke="#3f843f" stroke-width="1.25" stroke-opacity="0.85" fill="none"/><path d="M1072.71 934.29V952.84M1069.01 934.29H1076.41M1069.01 952.84H1076.41" stroke="#3f843f" stroke-width="1.25" stroke-opacity="0.85" fill="none"/><path d="M1077.92 928.88V945.11M1074.22 928.88H1081.62M1074.22 945.11H1081.62" stroke="#3f843f" stroke-width="1.25" stroke-opacity="0.85" fill="none"/><path d="M1083.12 931.97V940.47M1079.42 931.97H1086.82M1079.42 940.47H1086.82" stroke="#3f843f" stroke-width="1.25" stroke-opacity="0.85" fill="none"/><path d="M1088.33 924.24V938.93M1084.63 924.24H1092.03M1084.63 938.93H1092.03" stroke="#3f843f" stroke-width="1.25" stroke-opacity="0.85" fill="none"/><path d="M1093.54 918.06V926.56M1089.84 918.06H1097.24M1089.84 926.56H1097.24" stroke="#3f843f" stroke-width="1.25" stroke-opacity="0.85" fill="none"/><path d="M1098.75 914.96V926.56M1095.05 914.96H1102.45M1095.05 926.56H1102.45" stroke="#3f843f" stroke-width="1.25" stroke-opacity="0.85" fill="none"/><path d="M1103.96 914.96V928.10M1100.26 914.96H1107.66M1100.26 928.10H1107.66" stroke="#3f843f" stroke-width="1.25" stroke-opacity="0.85" fill="none"/><circle cx="895.58" cy="960.88" r="2.75" fill="#0a780a"/><circle cx="900.79" cy="939.23" r="2.75" fill="#0a780a"/><circle cx="906.00" cy="944.80" r="2.75" fill="#0a780a"/><circle cx="911.21" cy="944.34" r="2.75" fill="#0a780a"/><circle cx="916.42" cy="921.61" r="2.75" fill="#0a780a"/><circle cx="921.63" cy="935.06" r="2.75" fill="#0a780a"/><circle cx="926.84" cy="944.34" r="2.75" fill="#0a780a"/><circle cx="932.05" cy="938.62" r="2.75" fill="#0a780a"/><circle cx="937.26" cy="957.78" r="2.75" fill="#0a780a"/><circle cx="942.47" cy="950.83" r="2.75" fill="#0a780a"/><circle cx="947.68" cy="942.02" r="2.75" fill="#0a780a"/><circle cx="952.89" cy="945.88" r="2.75" fill="#0a780a"/><circle cx="958.10" cy="937.07" r="2.75" fill="#0a780a"/><circle cx="963.31" cy="908.32" r="2.75" fill="#0a780a"/><circle cx="968.52" cy="962.89" r="2.75" fill="#0a780a"/><circle cx="973.73" cy="953.92" r="2.75" fill="#0a780a"/><circle cx="978.94" cy="937.69" r="2.75" fill="#0a780a"/><circle cx="984.14" cy="926.87" r="2.75" fill="#0a780a"/><circle cx="989.35" cy="948.97" r="2.75" fill="#0a780a"/><circle cx="994.56" cy="926.87" r="2.75" fill="#0a780a"/><circle cx="999.77" cy="930.73" r="2.75" fill="#0a780a"/><circle cx="1004.98" cy="935.52" r="2.75" fill="#0a780a"/><circle cx="1010.19" cy="946.35" r="2.75" fill="#0a780a"/><circle cx="1015.40" cy="923.16" r="2.75" fill="#0a780a"/><circle cx="1020.61" cy="947.43" r="2.75" fill="#0a780a"/><circle cx="1025.82" cy="927.80" r="2.75" fill="#0a780a"/><circle cx="1031.03" cy="919.60" r="2.75" fill="#0a780a"/><circle cx="1036.24" cy="937.38" r="2.75" fill="#0a780a"/><circle cx="1041.45" cy="954.38" r="2.75" fill="#0a780a"/><circle cx="1046.66" cy="944.80" r="2.75" fill="#0a780a"/><circle cx="1051.87" cy="936.61" r="2.75" fill="#0a780a"/><circle cx="1057.08" cy="946.96" r="2.75" fill="#0a780a"/><circle cx="1062.29" cy="940.78" r="2.75" fill="#0a780a"/><circle cx="1067.50" cy="921.15" r="2.75" fill="#0a780a"/><circle cx="1072.71" cy="943.56" r="2.75" fill="#0a780a"/><circle cx="1077.92" cy="937.07" r="2.75" fill="#0a780a"/><circle cx="1083.12" cy="936.14" r="2.75" fill="#0a780a"/><circle cx="1088.33" cy="931.51" r="2.75" fill="#0a780a"/><circle cx="1093.54" cy="922.23" r="2.75" fill="#0a780a"/><circle cx="1098.75" cy="920.68" r="2.75" fill="#0a780a"/><circle cx="1103.96" cy="921.61" r="2.75" fill="#0a780a"/></g><g clip-path="url(#k13)"><path d="M1121.50 902.60V905.69M1117.80 902.60H1125.20M1117.80 905.69H1125.20" stroke="#3f843f" stroke-width="1.25" stroke-opacity="0.85" fill="none"/><path d="M1126.74 923.47V952.06M1123.04 923.47H1130.44M1123.04 952.06H1130.44" stroke="#3f843f" stroke-width="1.25" stroke-opacity="0.85" fill="none"/><path d="M1131.98 898.73V908.01M1128.28 898.73H1135.68M1128.28 908.01H1135.68" stroke="#3f843f" stroke-width="1.25" stroke-opacity="0.85" fill="none"/><path d="M1137.22 893.32V931.20M1133.52 893.32H1140.92M1133.52 931.20H1140.92" stroke="#3f843f" stroke-width="1.25" stroke-opacity="0.85" fill="none"/><path d="M1142.46 908.78V936.61M1138.76 908.78H1146.16M1138.76 936.61H1146.16" stroke="#3f843f" stroke-width="1.25" stroke-opacity="0.85" fill="none"/><path d="M1147.70 901.05V905.69M1144.00 901.05H1151.40M1144.00 905.69H1151.40" stroke="#3f843f" stroke-width="1.25" stroke-opacity="0.85" fill="none"/><path d="M1152.94 914.19V934.29M1149.24 914.19H1156.64M1149.24 934.29H1156.64" stroke="#3f843f" stroke-width="1.25" stroke-opacity="0.85" fill="none"/><path d="M1158.18 905.69V931.97M1154.48 905.69H1161.88M1154.48 931.97H1161.88" stroke="#3f843f" stroke-width="1.25" stroke-opacity="0.85" fill="none"/><path d="M1163.43 906.46V930.42M1159.73 906.46H1167.13M1159.73 930.42H1167.13" stroke="#3f843f" stroke-width="1.25" stroke-opacity="0.85" fill="none"/><path d="M1168.67 908.78V928.88M1164.97 908.78H1172.37M1164.97 928.88H1172.37" stroke="#3f843f" stroke-width="1.25" stroke-opacity="0.85" fill="none"/><path d="M1173.91 922.69V933.51M1170.21 922.69H1177.61M1170.21 933.51H1177.61" stroke="#3f843f" stroke-width="1.25" stroke-opacity="0.85" fill="none"/><path d="M1179.15 913.42V941.24M1175.45 913.42H1182.85M1175.45 941.24H1182.85" stroke="#3f843f" stroke-width="1.25" stroke-opacity="0.85" fill="none"/><path d="M1184.39 935.06V947.43M1180.69 935.06H1188.09M1180.69 947.43H1188.09" stroke="#3f843f" stroke-width="1.25" stroke-opacity="0.85" fill="none"/><path d="M1189.63 928.88V941.24M1185.93 928.88H1193.33M1185.93 941.24H1193.33" stroke="#3f843f" stroke-width="1.25" stroke-opacity="0.85" fill="none"/><path d="M1194.87 936.61V959.02M1191.17 936.61H1198.57M1191.17 959.02H1198.57" stroke="#3f843f" stroke-width="1.25" stroke-opacity="0.85" fill="none"/><path d="M1200.11 942.02V951.29M1196.41 942.02H1203.81M1196.41 951.29H1203.81" stroke="#3f843f" stroke-width="1.25" stroke-opacity="0.85" fill="none"/><path d="M1205.35 957.48V972.93M1201.65 957.48H1209.05M1201.65 972.93H1209.05" stroke="#3f843f" stroke-width="1.25" stroke-opacity="0.85" fill="none"/><path d="M1210.59 971.39V983.75M1206.89 971.39H1214.29M1206.89 983.75H1214.29" stroke="#3f843f" stroke-width="1.25" stroke-opacity="0.85" fill="none"/><path d="M1215.83 965.98V975.25M1212.13 965.98H1219.53M1212.13 975.25H1219.53" stroke="#3f843f" stroke-width="1.25" stroke-opacity="0.85" fill="none"/><path d="M1221.07 972.93V983.75M1217.37 972.93H1224.77M1217.37 983.75H1224.77" stroke="#3f843f" stroke-width="1.25" stroke-opacity="0.85" fill="none"/><path d="M1226.31 966.75V979.89M1222.61 966.75H1230.01M1222.61 979.89H1230.01" stroke="#3f843f" stroke-width="1.25" stroke-opacity="0.85" fill="none"/><path d="M1231.55 957.48V970.61M1227.85 957.48H1235.25M1227.85 970.61H1235.25" stroke="#3f843f" stroke-width="1.25" stroke-opacity="0.85" fill="none"/><path d="M1236.79 954.38V965.20M1233.09 954.38H1240.49M1233.09 965.20H1240.49" stroke="#3f843f" stroke-width="1.25" stroke-opacity="0.85" fill="none"/><path d="M1242.03 974.48V981.44M1238.33 974.48H1245.73M1238.33 981.44H1245.73" stroke="#3f843f" stroke-width="1.25" stroke-opacity="0.85" fill="none"/><path d="M1247.27 947.43V959.79M1243.57 947.43H1250.97M1243.57 959.79H1250.97" stroke="#3f843f" stroke-width="1.25" stroke-opacity="0.85" fill="none"/><path d="M1252.51 940.47V962.11M1248.81 940.47H1256.21M1248.81 962.11H1256.21" stroke="#3f843f" stroke-width="1.25" stroke-opacity="0.85" fill="none"/><path d="M1257.75 924.24V941.24M1254.05 924.24H1261.45M1254.05 941.24H1261.45" stroke="#3f843f" stroke-width="1.25" stroke-opacity="0.85" fill="none"/><path d="M1262.99 948.20V969.07M1259.29 948.20H1266.69M1259.29 969.07H1266.69" stroke="#3f843f" stroke-width="1.25" stroke-opacity="0.85" fill="none"/><path d="M1268.23 948.97V970.61M1264.53 948.97H1271.93M1264.53 970.61H1271.93" stroke="#3f843f" stroke-width="1.25" stroke-opacity="0.85" fill="none"/><path d="M1273.47 941.24V953.61M1269.77 941.24H1277.17M1269.77 953.61H1277.17" stroke="#3f843f" stroke-width="1.25" stroke-opacity="0.85" fill="none"/><path d="M1278.71 952.06V965.98M1275.01 952.06H1282.41M1275.01 965.98H1282.41" stroke="#3f843f" stroke-width="1.25" stroke-opacity="0.85" fill="none"/><path d="M1283.95 935.06V960.57M1280.25 935.06H1287.65M1280.25 960.57H1287.65" stroke="#3f843f" stroke-width="1.25" stroke-opacity="0.85" fill="none"/><path d="M1289.19 948.20V959.79M1285.49 948.20H1292.89M1285.49 959.79H1292.89" stroke="#3f843f" stroke-width="1.25" stroke-opacity="0.85" fill="none"/><path d="M1294.43 948.20V962.89M1290.73 948.20H1298.13M1290.73 962.89H1298.13" stroke="#3f843f" stroke-width="1.25" stroke-opacity="0.85" fill="none"/><path d="M1299.67 940.47V956.70M1295.97 940.47H1303.37M1295.97 956.70H1303.37" stroke="#3f843f" stroke-width="1.25" stroke-opacity="0.85" fill="none"/><path d="M1304.92 945.88V960.57M1301.22 945.88H1308.62M1301.22 960.57H1308.62" stroke="#3f843f" stroke-width="1.25" stroke-opacity="0.85" fill="none"/><path d="M1310.16 957.48V966.75M1306.46 957.48H1313.86M1306.46 966.75H1313.86" stroke="#3f843f" stroke-width="1.25" stroke-opacity="0.85" fill="none"/><path d="M1315.40 969.84V984.53M1311.70 969.84H1319.10M1311.70 984.53H1319.10" stroke="#3f843f" stroke-width="1.25" stroke-opacity="0.85" fill="none"/><path d="M1320.64 966.75V976.03M1316.94 966.75H1324.34M1316.94 976.03H1324.34" stroke="#3f843f" stroke-width="1.25" stroke-opacity="0.85" fill="none"/><path d="M1325.88 972.93V982.98M1322.18 972.93H1329.58M1322.18 982.98H1329.58" stroke="#3f843f" stroke-width="1.25" stroke-opacity="0.85" fill="none"/><path d="M1331.12 972.93V986.07M1327.42 972.93H1334.82M1327.42 986.07H1334.82" stroke="#3f843f" stroke-width="1.25" stroke-opacity="0.85" fill="none"/><circle cx="1121.50" cy="904.14" r="2.75" fill="#0a780a"/><circle cx="1126.74" cy="937.38" r="2.75" fill="#0a780a"/><circle cx="1131.98" cy="903.37" r="2.75" fill="#0a780a"/><circle cx="1137.22" cy="912.34" r="2.75" fill="#0a780a"/><circle cx="1142.46" cy="922.69" r="2.75" fill="#0a780a"/><circle cx="1147.70" cy="903.37" r="2.75" fill="#0a780a"/><circle cx="1152.94" cy="924.24" r="2.75" fill="#0a780a"/><circle cx="1158.18" cy="918.83" r="2.75" fill="#0a780a"/><circle cx="1163.43" cy="918.52" r="2.75" fill="#0a780a"/><circle cx="1168.67" cy="918.83" r="2.75" fill="#0a780a"/><circle cx="1173.91" cy="928.10" r="2.75" fill="#0a780a"/><circle cx="1179.15" cy="927.33" r="2.75" fill="#0a780a"/><circle cx="1184.39" cy="941.24" r="2.75" fill="#0a780a"/><circle cx="1189.63" cy="935.06" r="2.75" fill="#0a780a"/><circle cx="1194.87" cy="948.20" r="2.75" fill="#0a780a"/><circle cx="1200.11" cy="946.65" r="2.75" fill="#0a780a"/><circle cx="1205.35" cy="965.20" r="2.75" fill="#0a780a"/><circle cx="1210.59" cy="977.57" r="2.75" fill="#0a780a"/><circle cx="1215.83" cy="970.61" r="2.75" fill="#0a780a"/><circle cx="1221.07" cy="978.34" r="2.75" fill="#0a780a"/><circle cx="1226.31" cy="973.40" r="2.75" fill="#0a780a"/><circle cx="1231.55" cy="964.12" r="2.75" fill="#0a780a"/><circle cx="1236.79" cy="959.79" r="2.75" fill="#0a780a"/><circle cx="1242.03" cy="978.03" r="2.75" fill="#0a780a"/><circle cx="1247.27" cy="953.61" r="2.75" fill="#0a780a"/><circle cx="1252.51" cy="951.29" r="2.75" fill="#0a780a"/><circle cx="1257.75" cy="932.74" r="2.75" fill="#0a780a"/><circle cx="1262.99" cy="958.71" r="2.75" fill="#0a780a"/><circle cx="1268.23" cy="959.79" r="2.75" fill="#0a780a"/><circle cx="1273.47" cy="947.43" r="2.75" fill="#0a780a"/><circle cx="1278.71" cy="959.02" r="2.75" fill="#0a780a"/><circle cx="1283.95" cy="947.89" r="2.75" fill="#0a780a"/><circle cx="1289.19" cy="954.07" r="2.75" fill="#0a780a"/><circle cx="1294.43" cy="955.62" r="2.75" fill="#0a780a"/><circle cx="1299.67" cy="948.66" r="2.75" fill="#0a780a"/><circle cx="1304.92" cy="953.15" r="2.75" fill="#0a780a"/><circle cx="1310.16" cy="962.11" r="2.75" fill="#0a780a"/><circle cx="1315.40" cy="977.26" r="2.75" fill="#0a780a"/><circle cx="1320.64" cy="971.08" r="2.75" fill="#0a780a"/><circle cx="1325.88" cy="977.88" r="2.75" fill="#0a780a"/><circle cx="1331.12" cy="979.89" r="2.75" fill="#0a780a"/></g><rect x="247.20" y="68.60" width="372.10" height="118.30" fill="none" stroke="#000" stroke-width="2.2"/><rect x="247.20" y="204.80" width="372.10" height="118.40" fill="none" stroke="#000" stroke-width="2.2"/><rect x="247.20" y="386.80" width="372.60" height="118.00" fill="none" stroke="#000" stroke-width="2.2"/><rect x="803.60" y="67.00" width="363.20" height="120.00" fill="none" stroke="#000" stroke-width="2.2"/><rect x="803.40" y="204.70" width="363.40" height="120.00" fill="none" stroke="#000" stroke-width="2.2"/><rect x="803.40" y="383.10" width="364.90" height="120.30" fill="none" stroke="#000" stroke-width="2.2"/><rect x="110.30" y="718.30" width="455.70" height="131.90" fill="none" stroke="#000" stroke-width="2.6"/><rect x="110.30" y="870.20" width="455.70" height="131.40" fill="none" stroke="#000" stroke-width="2.6"/><rect x="885.00" y="723.20" width="456.10" height="131.20" fill="none" stroke="#000" stroke-width="2.6"/><rect x="885.00" y="874.50" width="456.10" height="131.00" fill="none" stroke="#000" stroke-width="2.6"/><line x1="338.00" y1="718.30" x2="338.00" y2="850.20" stroke="#000" stroke-width="2.6"/><line x1="338.00" y1="870.20" x2="338.00" y2="1001.60" stroke="#000" stroke-width="2.6"/><line x1="1112.70" y1="723.20" x2="1112.70" y2="854.40" stroke="#000" stroke-width="2.6"/><line x1="1112.70" y1="874.50" x2="1112.70" y2="1005.50" stroke="#000" stroke-width="2.6"/><line x1="236.70" y1="95.80" x2="247.20" y2="95.80" stroke="#000" stroke-width="2.2"/><line x1="236.70" y1="130.40" x2="247.20" y2="130.40" stroke="#000" stroke-width="2.2"/><line x1="236.70" y1="165.20" x2="247.20" y2="165.20" stroke="#000" stroke-width="2.2"/><line x1="236.70" y1="211.40" x2="247.20" y2="211.40" stroke="#000" stroke-width="2.2"/><line x1="236.70" y1="278.10" x2="247.20" y2="278.10" stroke="#000" stroke-width="2.2"/><line x1="236.70" y1="397.00" x2="247.20" y2="397.00" stroke="#000" stroke-width="2.2"/><line x1="236.70" y1="460.00" x2="247.20" y2="460.00" stroke="#000" stroke-width="2.2"/><line x1="291.50" y1="504.80" x2="291.50" y2="515.30" stroke="#000" stroke-width="2.2"/><line x1="433.40" y1="504.80" x2="433.40" y2="515.30" stroke="#000" stroke-width="2.2"/><line x1="575.50" y1="504.80" x2="575.50" y2="515.30" stroke="#000" stroke-width="2.2"/><line x1="1166.80" y1="110.60" x2="1177.30" y2="110.60" stroke="#000" stroke-width="2.2"/><line x1="1166.80" y1="156.80" x2="1177.30" y2="156.80" stroke="#000" stroke-width="2.2"/><line x1="1166.80" y1="221.50" x2="1177.30" y2="221.50" stroke="#000" stroke-width="2.2"/><line x1="1166.80" y1="316.50" x2="1177.30" y2="316.50" stroke="#000" stroke-width="2.2"/><line x1="1168.30" y1="393.90" x2="1178.80" y2="393.90" stroke="#000" stroke-width="2.2"/><line x1="1168.30" y1="455.30" x2="1178.80" y2="455.30" stroke="#000" stroke-width="2.2"/><line x1="847.80" y1="503.40" x2="847.80" y2="513.90" stroke="#000" stroke-width="2.2"/><line x1="985.80" y1="503.40" x2="985.80" y2="513.90" stroke="#000" stroke-width="2.2"/><line x1="1124.10" y1="503.40" x2="1124.10" y2="513.90" stroke="#000" stroke-width="2.2"/><line x1="96.30" y1="718.30" x2="110.30" y2="718.30" stroke="#000" stroke-width="2.6"/><line x1="96.30" y1="800.80" x2="110.30" y2="800.80" stroke="#000" stroke-width="2.6"/><line x1="96.30" y1="870.20" x2="110.30" y2="870.20" stroke="#000" stroke-width="2.6"/><line x1="96.30" y1="952.00" x2="110.30" y2="952.00" stroke="#000" stroke-width="2.6"/><line x1="566.00" y1="733.40" x2="580.00" y2="733.40" stroke="#000" stroke-width="2.6"/><line x1="566.00" y1="806.60" x2="580.00" y2="806.60" stroke="#000" stroke-width="2.6"/><line x1="566.00" y1="884.70" x2="580.00" y2="884.70" stroke="#000" stroke-width="2.6"/><line x1="566.00" y1="958.00" x2="580.00" y2="958.00" stroke="#000" stroke-width="2.6"/><line x1="161.80" y1="1001.60" x2="161.80" y2="1015.60" stroke="#000" stroke-width="2.6"/><line x1="266.00" y1="1001.60" x2="266.00" y2="1015.60" stroke="#000" stroke-width="2.6"/><line x1="387.80" y1="1001.60" x2="387.80" y2="1015.60" stroke="#000" stroke-width="2.6"/><line x1="492.70" y1="1001.60" x2="492.70" y2="1015.60" stroke="#000" stroke-width="2.6"/><line x1="110.30" y1="800.80" x2="338.00" y2="800.80" stroke="#000" stroke-width="2.6"/><line x1="110.30" y1="952.00" x2="338.00" y2="952.00" stroke="#000" stroke-width="2.6"/><line x1="871.00" y1="723.20" x2="885.00" y2="723.20" stroke="#000" stroke-width="2.6"/><line x1="871.00" y1="805.30" x2="885.00" y2="805.30" stroke="#000" stroke-width="2.6"/><line x1="871.00" y1="874.50" x2="885.00" y2="874.50" stroke="#000" stroke-width="2.6"/><line x1="871.00" y1="956.70" x2="885.00" y2="956.70" stroke="#000" stroke-width="2.6"/><line x1="1341.10" y1="737.70" x2="1355.10" y2="737.70" stroke="#000" stroke-width="2.6"/><line x1="1341.10" y1="810.90" x2="1355.10" y2="810.90" stroke="#000" stroke-width="2.6"/><line x1="1341.10" y1="889.40" x2="1355.10" y2="889.40" stroke="#000" stroke-width="2.6"/><line x1="1341.10" y1="962.50" x2="1355.10" y2="962.50" stroke="#000" stroke-width="2.6"/><line x1="937.00" y1="1005.50" x2="937.00" y2="1019.50" stroke="#000" stroke-width="2.6"/><line x1="1041.90" y1="1005.50" x2="1041.90" y2="1019.50" stroke="#000" stroke-width="2.6"/><line x1="1163.60" y1="1005.50" x2="1163.60" y2="1019.50" stroke="#000" stroke-width="2.6"/><line x1="1268.80" y1="1005.50" x2="1268.80" y2="1019.50" stroke="#000" stroke-width="2.6"/><line x1="872.80" y1="788.20" x2="1112.70" y2="788.20" stroke="#000" stroke-width="2.6"/><line x1="872.80" y1="940.80" x2="1112.70" y2="940.80" stroke="#000" stroke-width="2.6"/><circle cx="395.50" cy="12.50" r="8.40" fill="#0070C0"/><circle cx="515.70" cy="13.40" r="8.40" fill="#FFC000"/><circle cx="663.60" cy="12.70" r="8.40" fill="#00B050"/><circle cx="861.50" cy="13.30" r="8.40" fill="#FF0000"/><text transform="translate(413.35,21.90) scale(1.0301,1)" font-family='"Liberation Sans", sans-serif' font-size="28.28">left</text><text transform="translate(534.29,21.90) scale(1.0215,1)" font-family='"Liberation Sans", sans-serif' font-size="28.28">right</text><text transform="translate(685.53,22.40) scale(1.0350,1)" font-family='"Liberation Sans", sans-serif' font-size="28.41">left rotated</text><text transform="translate(882.36,22.40) scale(1.0330,1)" font-family='"Liberation Sans", sans-serif' font-size="28.41">right rotated</text><circle cx="373.70" cy="89.20" r="8.40" fill="#0070C0"/><circle cx="409.30" cy="89.20" r="8.40" fill="#FFC000"/><circle cx="443.20" cy="89.20" r="8.40" fill="#00B050"/><circle cx="481.50" cy="89.20" r="8.40" fill="#FF0000"/><circle cx="428.00" cy="225.60" r="8.40" fill="#0070C0"/><circle cx="464.00" cy="225.60" r="8.40" fill="#FFC000"/><circle cx="497.80" cy="225.60" r="8.40" fill="#00B050"/><circle cx="536.30" cy="225.60" r="8.40" fill="#FF0000"/><circle cx="1038.60" cy="84.20" r="8.40" fill="#0070C0"/><circle cx="1074.80" cy="84.20" r="8.40" fill="#FFC000"/><circle cx="1108.40" cy="84.20" r="8.40" fill="#00B050"/><circle cx="1146.80" cy="84.20" r="8.40" fill="#FF0000"/><circle cx="933.00" cy="228.00" r="8.40" fill="#0070C0"/><circle cx="968.50" cy="228.00" r="8.40" fill="#FFC000"/><circle cx="1002.00" cy="228.00" r="8.40" fill="#00B050"/><circle cx="1041.30" cy="228.00" r="8.40" fill="#FF0000"/><text x="175.37 189.34 196.74 210.98" y="104.83" font-family='"Liberation Sans", sans-serif' font-size="23.59">0.15</text><text x="175.48 189.45 196.85 211.10" y="139.43" font-family='"Liberation Sans", sans-serif' font-size="23.59">0.10</text><text x="175.37 189.34 196.74 210.98" y="174.23" font-family='"Liberation Sans", sans-serif' font-size="23.59">0.05</text><text x="175.48 189.45 196.85 211.10" y="220.43" font-family='"Liberation Sans", sans-serif' font-size="23.59">0.00</text><rect x="158.03" y="279.48" width="14.81" height="1.86" fill="#000"/><text x="175.79 189.76 197.16 211.41" y="287.43" font-family='"Liberation Sans", sans-serif' font-size="23.59">0.01</text><text x="160.82 174.79 182.19 196.44 210.68" y="406.03" font-family='"Liberation Sans", sans-serif' font-size="23.59">0.005</text><text x="160.93 174.90 182.30 196.55 210.80" y="469.03" font-family='"Liberation Sans", sans-serif' font-size="23.59">0.000</text><rect x="265.99" y="537.48" width="14.81" height="1.86" fill="#000"/><text x="283.75 297.72 305.12" y="545.43" font-family='"Liberation Sans", sans-serif' font-size="23.59">0.1</text><text x="416.16 430.12 437.53" y="545.43" font-family='"Liberation Sans", sans-serif' font-size="23.59">0.0</text><text x="558.41 572.38 579.78" y="545.43" font-family='"Liberation Sans", sans-serif' font-size="23.59">0.1</text><text x="1189.39 1203.35 1210.76 1225.00" y="119.73" font-family='"Liberation Sans", sans-serif' font-size="23.59">0.10</text><text x="1189.39 1203.35 1210.76 1225.00" y="165.93" font-family='"Liberation Sans", sans-serif' font-size="23.59">0.05</text><text x="1189.89 1203.85 1211.26 1225.50" y="230.63" font-family='"Liberation Sans", sans-serif' font-size="23.59">0.00</text><rect x="1190.80" y="317.68" width="14.81" height="1.86" fill="#000"/><text x="1208.57 1222.53 1229.94 1244.18" y="325.63" font-family='"Liberation Sans", sans-serif' font-size="23.59">0.02</text><text x="1191.09 1205.05 1212.46 1226.70 1240.95" y="403.03" font-family='"Liberation Sans", sans-serif' font-size="23.59">0.000</text><rect x="1192.00" y="456.48" width="14.81" height="1.86" fill="#000"/><text x="1209.77 1223.73 1231.14 1245.38 1259.63" y="464.43" font-family='"Liberation Sans", sans-serif' font-size="23.59">0.005</text><rect x="822.29" y="537.08" width="14.81" height="1.86" fill="#000"/><text x="840.05 854.02 861.42" y="545.03" font-family='"Liberation Sans", sans-serif' font-size="23.59">0.1</text><text x="968.56 982.52 989.93" y="545.03" font-family='"Liberation Sans", sans-serif' font-size="23.59">0.0</text><text x="1107.01 1120.98 1128.38" y="545.03" font-family='"Liberation Sans", sans-serif' font-size="23.59">0.1</text><text x="0.47 18.18 27.56 45.62 63.69" y="730.24" font-family='"Liberation Sans", sans-serif' font-size="29.91">0.005</text><text x="0.61 18.32 27.70 45.76 63.83" y="811.24" font-family='"Liberation Sans", sans-serif' font-size="29.91">0.000</text><text x="0.47 18.18 27.56 45.62 63.69" y="881.04" font-family='"Liberation Sans", sans-serif' font-size="29.91">0.005</text><text x="0.61 18.32 27.70 45.76 63.83" y="962.44" font-family='"Liberation Sans", sans-serif' font-size="29.91">0.000</text><rect x="596.80" y="734.36" width="18.77" height="2.36" fill="#000"/><text x="619.33 637.03 646.42 664.48 682.54" y="744.44" font-family='"Liberation Sans", sans-serif' font-size="29.91">0.005</text><rect x="596.80" y="807.36" width="18.77" height="2.36" fill="#000"/><text x="619.33 637.03 646.42 664.48 682.54" y="817.44" font-family='"Liberation Sans", sans-serif' font-size="29.91">0.010</text><rect x="596.80" y="885.56" width="18.77" height="2.36" fill="#000"/><text x="619.33 637.03 646.42 664.48 682.54" y="895.64" font-family='"Liberation Sans", sans-serif' font-size="29.91">0.005</text><rect x="596.80" y="958.75" width="18.77" height="2.36" fill="#000"/><text x="619.33 637.03 646.42 664.48 682.54" y="968.84" font-family='"Liberation Sans", sans-serif' font-size="29.91">0.010</text><rect x="120.22" y="1043.26" width="18.77" height="2.36" fill="#000"/><text x="142.75 160.46 169.84 187.90" y="1053.34" font-family='"Liberation Sans", sans-serif' font-size="29.91">0.10</text><rect x="224.35" y="1043.26" width="18.77" height="2.36" fill="#000"/><text x="246.88 264.59 273.97 292.03" y="1053.34" font-family='"Liberation Sans", sans-serif' font-size="29.91">0.05</text><rect x="346.22" y="1043.26" width="18.77" height="2.36" fill="#000"/><text x="368.75 386.46 395.84 413.90" y="1053.34" font-family='"Liberation Sans", sans-serif' font-size="29.91">0.10</text><rect x="451.05" y="1043.26" width="18.77" height="2.36" fill="#000"/><text x="473.58 491.29 500.67 518.73" y="1053.34" font-family='"Liberation Sans", sans-serif' font-size="29.91">0.05</text><text x="775.17 792.88 802.26 820.32 838.39" y="733.94" font-family='"Liberation Sans", sans-serif' font-size="29.91">0.005</text><text x="775.31 793.02 802.40 820.46 838.53" y="816.84" font-family='"Liberation Sans", sans-serif' font-size="29.91">0.000</text><text x="775.17 792.88 802.26 820.32 838.39" y="885.24" font-family='"Liberation Sans", sans-serif' font-size="29.91">0.005</text><text x="775.31 793.02 802.40 820.46 838.53" y="967.44" font-family='"Liberation Sans", sans-serif' font-size="29.91">0.000</text><rect x="1372.00" y="738.56" width="18.77" height="2.36" fill="#000"/><text x="1394.53 1412.23 1421.62 1439.68 1457.74" y="748.64" font-family='"Liberation Sans", sans-serif' font-size="29.91">0.005</text><rect x="1372.00" y="811.75" width="18.77" height="2.36" fill="#000"/><text x="1394.53 1412.23 1421.62 1439.68 1457.74" y="821.84" font-family='"Liberation Sans", sans-serif' font-size="29.91">0.010</text><rect x="1372.00" y="890.36" width="18.77" height="2.36" fill="#000"/><text x="1394.53 1412.23 1421.62 1439.68 1457.74" y="900.44" font-family='"Liberation Sans", sans-serif' font-size="29.91">0.005</text><rect x="1372.00" y="963.36" width="18.77" height="2.36" fill="#000"/><text x="1394.53 1412.23 1421.62 1439.68 1457.74" y="973.44" font-family='"Liberation Sans", sans-serif' font-size="29.91">0.010</text><rect x="895.42" y="1047.95" width="18.77" height="2.36" fill="#000"/><text x="917.95 935.66 945.04 963.10" y="1058.04" font-family='"Liberation Sans", sans-serif' font-size="29.91">0.10</text><rect x="1000.25" y="1047.95" width="18.77" height="2.36" fill="#000"/><text x="1022.78 1040.49 1049.87 1067.93" y="1058.04" font-family='"Liberation Sans", sans-serif' font-size="29.91">0.05</text><rect x="1122.02" y="1047.95" width="18.77" height="2.36" fill="#000"/><text x="1144.55 1162.26 1171.64 1189.70" y="1058.04" font-family='"Liberation Sans", sans-serif' font-size="29.91">0.10</text><rect x="1227.15" y="1047.95" width="18.77" height="2.36" fill="#000"/><text x="1249.68 1267.39 1276.77 1294.83" y="1058.04" font-family='"Liberation Sans", sans-serif' font-size="29.91">0.05</text><text transform="translate(251.80,92.56) scale(0.9153,1)" font-family='"Liberation Sans", sans-serif' font-weight="bold" font-size="33.76" fill="#000">a</text><text transform="translate(809.14,95.27) scale(0.9943,1)" font-family='"Liberation Sans", sans-serif' font-weight="bold" font-size="32.93" fill="#000">b</text><text transform="translate(13.94,644.38) scale(1.0139,1)" font-family='"Liberation Sans", sans-serif' font-weight="bold" font-size="31.93" fill="#000">c</text><text transform="translate(782.85,643.47) scale(1.0087,1)" font-family='"Liberation Sans", sans-serif' font-weight="bold" font-size="32.65" fill="#000">d</text><text transform="translate(643.77,148.43) scale(1.1356,1)" font-family='"Liberation Serif", serif' font-weight="normal" font-size="26.70" fill="#000">Sum signal</text><text transform="translate(654.94,282.82) scale(1.0972,1)" font-family='"Liberation Serif", serif' font-weight="normal" font-size="25.82" fill="#000">CD signal</text><text transform="translate(388.27,594.40) scale(0.9783,1)" font-family='"Liberation Sans", sans-serif' font-weight="normal" font-size="34.01" fill="#000">H</text><text transform="translate(422.45,593.53) scale(0.7856,1)" font-family='"Liberation Serif", serif' font-weight="normal" font-size="33.19" fill="#000">(</text><text transform="translate(433.03,594.40) scale(0.7809,1)" font-family='"Liberation Serif", serif' font-weight="normal" font-size="34.51" fill="#000">Å</text><rect x="455.20" y="575.10" width="13.10" height="1.6" fill="#000"/><text transform="translate(472.20,583.20) scale(1.0570,1)" font-family='"Liberation Serif", serif' font-weight="normal" font-size="22.58" fill="#000">1</text><text transform="translate(488.47,593.53) scale(0.6918,1)" font-family='"Liberation Serif", serif' font-weight="normal" font-size="33.19" fill="#000">)</text><text transform="translate(953.28,593.10) scale(0.9388,1)" font-family='"Liberation Sans", sans-serif' font-weight="normal" font-size="35.32" fill="#000">K</text><text transform="translate(986.55,592.14) scale(0.7753,1)" font-family='"Liberation Serif", serif' font-weight="normal" font-size="33.63" fill="#000">(</text><text transform="translate(997.14,593.10) scale(0.7409,1)" font-family='"Liberation Serif", serif' font-weight="normal" font-size="35.61" fill="#000">Å</text><rect x="1018.90" y="573.30" width="13.10" height="1.6" fill="#000"/><text transform="translate(1034.78,581.20) scale(1.1943,1)" font-family='"Liberation Serif", serif' font-weight="normal" font-size="22.12" fill="#000">1</text><text transform="translate(1051.62,592.14) scale(0.8215,1)" font-family='"Liberation Serif", serif' font-weight="normal" font-size="33.63" fill="#000">)</text><text transform="translate(284.98,1095.90) scale(0.9567,1)" font-family='"Liberation Sans", sans-serif' font-weight="normal" font-size="38.52" fill="#000">H</text><text transform="translate(323.75,1095.34) scale(0.7600,1)" font-family='"Liberation Serif", serif' font-weight="normal" font-size="37.38" fill="#000">(</text><text transform="translate(335.60,1095.90) scale(0.7889,1)" font-family='"Liberation Serif", serif' font-weight="normal" font-size="38.66" fill="#000">Å</text><rect x="360.50" y="1073.40" width="15.10" height="1.6" fill="#000"/><text transform="translate(378.48,1082.40) scale(1.1618,1)" font-family='"Liberation Serif", serif' font-weight="normal" font-size="24.70" fill="#000">1</text><text transform="translate(397.64,1095.34) scale(0.8016,1)" font-family='"Liberation Serif", serif' font-weight="normal" font-size="37.38" fill="#000">)</text><text transform="translate(1068.22,1103.70) scale(0.9853,1)" font-family='"Liberation Sans", sans-serif' font-weight="normal" font-size="38.08" fill="#000">K</text><text transform="translate(1105.65,1103.44) scale(0.7600,1)" font-family='"Liberation Serif", serif' font-weight="normal" font-size="37.38" fill="#000">(</text><text transform="translate(1117.50,1103.70) scale(0.7693,1)" font-family='"Liberation Serif", serif' font-weight="normal" font-size="38.90" fill="#000">Å</text><rect x="1142.90" y="1081.50" width="14.10" height="1.6" fill="#000"/><text transform="translate(1160.38,1090.40) scale(1.1690,1)" font-family='"Liberation Serif", serif' font-weight="normal" font-size="24.55" fill="#000">1</text><text transform="translate(1179.09,1103.44) scale(0.7600,1)" font-family='"Liberation Serif", serif' font-weight="normal" font-size="37.38" fill="#000">)</text><g class="ti"><text transform="translate(356.08,369.19) scale(0.9094,1)" font-family='"Liberation Serif", serif' font-weight="normal" font-size="25.89" fill="#000">CD</text><text transform="translate(391.45,374.08) scale(1.2007,1)" font-family='"Liberation Serif", serif' font-weight="normal" font-size="17.48" fill="#000">0</text><rect x="414.30" y="360.25" width="16.10" height="1.7" fill="#000"/><text transform="translate(440.23,369.19) scale(0.9596,1)" font-family='"Liberation Serif", serif' font-weight="normal" font-size="25.89" fill="#000">CD</text><text transform="translate(474.79,374.08) scale(1.4030,1)" font-family='"Liberation Serif", serif' font-weight="normal" font-size="17.48" fill="#000">180</text></g><g class="ti"><text transform="translate(921.60,369.38) scale(0.9644,1)" font-family='"Liberation Serif", serif' font-weight="normal" font-size="26.64" fill="#000">CD</text><text transform="translate(957.71,374.75) scale(1.1613,1)" font-family='"Liberation Serif", serif' font-weight="normal" font-size="20.00" fill="#000">90</text><rect x="991.80" y="359.85" width="16.30" height="1.7" fill="#000"/><text transform="translate(1018.22,369.38) scale(0.9443,1)" font-family='"Liberation Serif", serif' font-weight="normal" font-size="26.64" fill="#000">CD</text><text transform="translate(1053.87,374.75) scale(1.2306,1)" font-family='"Liberation Serif", serif' font-weight="normal" font-size="20.00" fill="#000">270</text></g><g class="ti"><text transform="translate(130.25,678.57) scale(0.8721,1)" font-family='"Liberation Serif", serif' font-weight="normal" font-size="28.56" fill="#000">(</text><text transform="translate(138.58,678.91) scale(0.9771,1)" font-family='"Liberation Serif", serif' font-weight="normal" font-size="24.26" fill="#000">CD</text><text transform="translate(175.75,684.27) scale(1.1906,1)" font-family='"Liberation Serif", serif' font-weight="normal" font-size="17.63" fill="#000">0</text><rect x="197.10" y="670.05" width="16.90" height="1.7" fill="#000"/><text transform="translate(223.60,678.91) scale(0.9550,1)" font-family='"Liberation Serif", serif' font-weight="normal" font-size="24.26" fill="#000">CD</text><text transform="translate(257.32,684.67) scale(1.3899,1)" font-family='"Liberation Serif", serif' font-weight="normal" font-size="18.22" fill="#000">180</text><text transform="translate(294.64,678.57) scale(0.7767,1)" font-family='"Liberation Serif", serif' font-weight="normal" font-size="28.56" fill="#000">)</text><text transform="translate(303.55,680.58) scale(1.1387,1)" font-family='"Liberation Sans", sans-serif' font-weight="normal" font-size="27.48" fill="#000">/</text><text transform="translate(313.95,678.95) scale(1.3881,1)" font-family='"Liberation Sans", sans-serif' font-weight="normal" font-size="23.07" fill="#000">2</text></g><g class="ti"><text transform="translate(366.65,678.62) scale(1.0277,1)" font-family='"Liberation Serif", serif' font-weight="normal" font-size="28.78" fill="#000">(</text><text transform="translate(376.89,678.31) scale(1.0685,1)" font-family='"Liberation Serif", serif' font-weight="normal" font-size="24.26" fill="#000">CD</text><text transform="translate(414.84,683.89) scale(1.2908,1)" font-family='"Liberation Serif", serif' font-weight="normal" font-size="16.44" fill="#000">0</text><rect x="429.30" y="670.50" width="17.20" height="1.7" fill="#000"/><rect x="437.05" y="663.80" width="1.7" height="15.10" fill="#000"/><text transform="translate(448.81,678.31) scale(1.0433,1)" font-family='"Liberation Serif", serif' font-weight="normal" font-size="24.26" fill="#000">CD</text><text transform="translate(484.72,683.86) scale(1.3048,1)" font-family='"Liberation Serif", serif' font-weight="normal" font-size="18.52" fill="#000">180</text><text transform="translate(523.09,678.62) scale(0.8248,1)" font-family='"Liberation Serif", serif' font-weight="normal" font-size="28.78" fill="#000">)</text><text transform="translate(533.15,680.05) scale(1.2671,1)" font-family='"Liberation Sans", sans-serif' font-weight="normal" font-size="29.52" fill="#000">/</text><text transform="translate(543.88,678.35) scale(1.1884,1)" font-family='"Liberation Sans", sans-serif' font-weight="normal" font-size="23.07" fill="#000">2</text></g><g class="ti"><text transform="translate(892.95,677.99) scale(0.9575,1)" font-family='"Liberation Serif", serif' font-weight="normal" font-size="28.45" fill="#000">(</text><text transform="translate(902.09,678.30) scale(0.9248,1)" font-family='"Liberation Serif", serif' font-weight="normal" font-size="25.30" fill="#000">CD</text><text transform="translate(938.93,683.85) scale(1.1154,1)" font-family='"Liberation Serif", serif' font-weight="normal" font-size="20.15" fill="#000">90</text><rect x="972.30" y="669.45" width="16.50" height="1.7" fill="#000"/><text transform="translate(998.87,678.30) scale(0.9489,1)" font-family='"Liberation Serif", serif' font-weight="normal" font-size="25.30" fill="#000">CD</text><text transform="translate(1034.57,683.85) scale(1.2146,1)" font-family='"Liberation Serif", serif' font-weight="normal" font-size="20.15" fill="#000">270</text><text transform="translate(1073.08,677.99) scale(0.8481,1)" font-family='"Liberation Serif", serif' font-weight="normal" font-size="28.45" fill="#000">)</text><text transform="translate(1082.85,680.51) scale(0.9157,1)" font-family='"Liberation Serif", serif' font-weight="normal" font-size="33.78" fill="#000">/</text><text transform="translate(1093.21,678.35) scale(1.6509,1)" font-family='"Liberation Serif", serif' font-weight="normal" font-size="25.38" fill="#000">2</text></g><g class="ti"><text transform="translate(1132.04,676.33) scale(0.9250,1)" font-family='"Liberation Serif", serif' font-weight="normal" font-size="27.34" fill="#000">(</text><text transform="translate(1141.18,676.80) scale(1.0460,1)" font-family='"Liberation Serif", serif' font-weight="normal" font-size="24.85" fill="#000">CD</text><text transform="translate(1178.93,681.96) scale(1.2097,1)" font-family='"Liberation Serif", serif' font-weight="normal" font-size="18.67" fill="#000">90</text><rect x="1206.50" y="669.65" width="18.40" height="1.7" fill="#000"/><rect x="1214.85" y="662.80" width="1.7" height="15.40" fill="#000"/><text transform="translate(1225.86,676.80) scale(1.0706,1)" font-family='"Liberation Serif", serif' font-weight="normal" font-size="24.85" fill="#000">CD</text><text transform="translate(1263.22,681.96) scale(1.2581,1)" font-family='"Liberation Serif", serif' font-weight="normal" font-size="18.67" fill="#000">270</text><text transform="translate(1300.14,676.33) scale(0.9250,1)" font-family='"Liberation Serif", serif' font-weight="normal" font-size="27.34" fill="#000">)</text><text transform="translate(1311.55,679.54) scale(0.9518,1)" font-family='"Liberation Sans", sans-serif' font-weight="normal" font-size="30.61" fill="#000">/</text><text transform="translate(1320.86,676.85) scale(1.1782,1)" font-family='"Liberation Sans", sans-serif' font-weight="normal" font-size="23.64" fill="#000">2</text></g></svg></body></html>
